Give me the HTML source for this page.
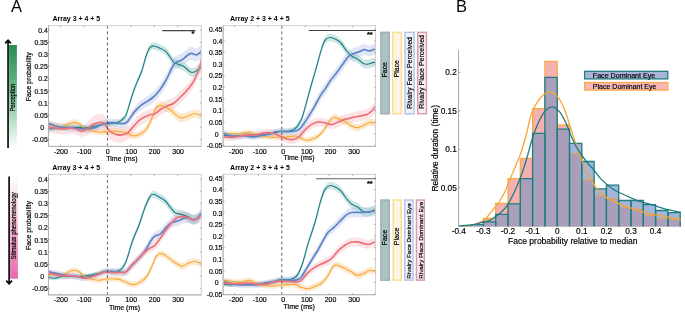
<!DOCTYPE html>
<html><head><meta charset="utf-8"><style>
html,body{margin:0;padding:0;background:#fff;width:685px;height:312px;overflow:hidden}
svg{display:block;will-change:transform}
text{font-family:"Liberation Sans",sans-serif;stroke:#000;stroke-width:0.18px}
text.nb{stroke:none}
</style></head><body>
<svg width="685" height="312" viewBox="0 0 685 312" font-family='"Liberation Sans", sans-serif' fill="#000">
<rect width="685" height="312" fill="#fff"/>
<defs><linearGradient id="gg" x1="0" y1="0" x2="0" y2="1"><stop offset="0" stop-color="#278b52"/><stop offset="0.45" stop-color="#6dbb8c"/><stop offset="1" stop-color="#ffffff"/></linearGradient><linearGradient id="pg" x1="0" y1="0" x2="0" y2="1"><stop offset="0" stop-color="#ffffff"/><stop offset="0.55" stop-color="#f4b0d2"/><stop offset="1" stop-color="#e866ab"/></linearGradient></defs>
<g>
<clipPath id="clipP1"><rect x="48.50" y="25.70" width="152.80" height="120.70"/></clipPath>
<g clip-path="url(#clipP1)">
<path d="M48.00,121.90 L48.32,121.92 L48.72,121.95 L49.18,121.98 L49.69,122.01 L50.26,122.04 L50.86,122.08 L51.48,122.12 L52.13,122.17 L52.78,122.22 L53.44,122.28 L54.08,122.34 L54.70,122.40 L55.32,122.48 L55.95,122.57 L56.59,122.68 L57.25,122.79 L57.91,122.91 L58.58,123.03 L59.25,123.15 L59.93,123.25 L60.60,123.34 L61.28,123.42 L61.94,123.47 L62.60,123.50 L63.26,123.49 L63.93,123.46 L64.61,123.40 L65.29,123.31 L65.97,123.22 L66.64,123.12 L67.31,123.02 L67.97,122.92 L68.61,122.83 L69.23,122.76 L69.83,122.72 L70.40,122.70 L70.95,122.71 L71.47,122.72 L71.97,122.75 L72.45,122.79 L72.91,122.84 L73.37,122.91 L73.81,122.98 L74.25,123.06 L74.69,123.16 L75.12,123.26 L75.56,123.38 L76.00,123.50 L76.44,123.65 L76.88,123.84 L77.31,124.06 L77.74,124.30 L78.17,124.55 L78.59,124.81 L79.01,125.05 L79.43,125.27 L79.84,125.47 L80.26,125.63 L80.68,125.74 L81.10,125.80 L81.53,125.80 L81.98,125.74 L82.43,125.65 L82.89,125.51 L83.35,125.35 L83.80,125.17 L84.24,124.91 L84.67,124.60 L85.07,124.30 L85.45,124.02 L85.79,123.77 L86.10,123.55 L86.36,123.37 L86.57,123.21 L86.75,123.08 L86.89,122.96 L87.02,122.85 L87.12,122.74 L87.23,122.63 L87.34,122.50 L87.46,122.36 L87.61,122.19 L87.79,122.00 L88.00,121.77 L88.25,121.49 L88.51,121.19 L88.79,120.85 L89.09,120.49 L89.39,120.11 L89.71,119.72 L90.04,119.32 L90.38,118.93 L90.73,118.54 L91.08,118.17 L91.44,117.82 L91.80,117.50 L92.17,117.19 L92.57,116.89 L92.97,116.59 L93.39,116.31 L93.82,116.03 L94.25,115.76 L94.68,115.50 L95.11,115.24 L95.53,115.00 L95.93,114.84 L96.33,114.73 L96.70,114.62 L97.06,114.52 L97.40,114.43 L97.74,114.35 L98.06,114.27 L98.38,114.20 L98.69,114.14 L99.00,114.09 L99.30,114.05 L99.60,114.02 L99.90,114.00 L100.20,113.99 L100.50,114.00 L100.80,114.02 L101.10,114.05 L101.40,114.08 L101.70,114.13 L102.00,114.18 L102.29,114.25 L102.57,114.33 L102.86,114.43 L103.13,114.54 L103.40,114.67 L103.65,114.81 L103.90,114.97 L104.14,115.16 L104.36,115.37 L104.57,115.60 L104.77,115.85 L104.97,116.12 L105.16,116.40 L105.35,116.68 L105.54,116.97 L105.72,117.27 L105.91,117.56 L106.10,117.85 L106.30,118.13 L106.50,118.40 L106.69,118.69 L106.88,118.98 L107.07,119.27 L107.25,119.57 L107.44,119.86 L107.64,120.16 L107.83,120.45 L108.04,120.74 L108.25,121.03 L108.47,121.30 L108.70,121.58 L108.94,121.84 L109.18,122.11 L109.43,122.38 L109.68,122.64 L109.94,122.90 L110.20,123.15 L110.47,123.40 L110.76,123.65 L111.05,123.88 L111.35,124.11 L111.67,124.33 L112.00,124.55 L112.35,124.75 L112.72,124.95 L113.12,125.15 L113.52,125.34 L113.94,125.52 L114.36,125.70 L114.79,125.86 L115.21,126.02 L115.63,126.17 L116.03,126.31 L116.43,126.43 L116.80,126.55 L117.16,126.65 L117.50,126.74 L117.84,126.82 L118.17,126.90 L118.49,126.96 L118.81,127.01 L119.13,127.05 L119.44,127.12 L119.75,127.19 L120.07,127.26 L120.38,127.31 L120.70,127.36 L121.02,127.39 L121.34,127.42 L121.66,127.43 L121.99,127.43 L122.31,127.43 L122.62,127.41 L122.94,127.39 L123.26,127.37 L123.57,127.33 L123.89,127.29 L124.19,127.25 L124.50,127.20 L124.79,127.16 L125.07,127.14 L125.33,127.13 L125.59,127.12 L125.84,127.10 L126.10,127.07 L126.37,127.02 L126.64,126.94 L126.94,126.82 L127.26,126.67 L127.61,126.46 L128.00,126.20 L128.42,125.87 L128.88,125.47 L129.36,125.02 L129.87,124.52 L130.39,123.99 L130.93,123.43 L131.48,122.78 L132.03,122.13 L132.59,121.48 L133.14,120.84 L133.67,120.24 L134.20,119.67 L134.71,119.13 L135.21,118.58 L135.70,118.04 L136.19,117.50 L136.67,116.97 L137.17,116.45 L137.66,115.94 L138.17,115.44 L138.70,114.95 L139.24,114.48 L139.81,114.03 L140.40,113.60 L141.03,113.19 L141.69,112.78 L142.39,112.39 L143.10,112.01 L143.83,111.64 L144.57,111.29 L145.31,110.96 L146.04,110.64 L146.76,110.35 L147.45,110.07 L148.12,109.81 L148.75,109.58 L149.34,109.38 L149.91,109.24 L150.46,109.14 L150.99,109.06 L151.50,109.01 L152.01,108.96 L152.50,108.91 L152.99,108.84 L153.49,108.76 L153.98,108.64 L154.49,108.48 L155.00,108.24 L155.52,107.94 L156.04,107.60 L156.56,107.21 L157.08,106.80 L157.60,106.36 L158.12,105.91 L158.65,105.45 L159.17,104.99 L159.69,104.54 L160.21,104.12 L160.73,103.72 L161.25,103.36 L161.77,103.02 L162.29,102.70 L162.81,102.40 L163.33,102.10 L163.85,101.82 L164.38,101.55 L164.90,101.28 L165.42,101.02 L165.94,100.77 L166.46,100.52 L166.98,100.27 L167.50,100.02 L168.02,99.79 L168.54,99.58 L169.06,99.39 L169.58,99.22 L170.10,99.04 L170.62,98.87 L171.15,98.68 L171.67,98.49 L172.19,98.26 L172.71,98.01 L173.23,97.72 L173.75,97.39 L174.27,97.01 L174.79,96.60 L175.31,96.15 L175.83,95.67 L176.35,95.17 L176.88,94.66 L177.40,94.13 L177.92,93.59 L178.44,93.06 L178.96,92.53 L179.48,92.01 L180.00,91.50 L180.52,91.00 L181.04,90.50 L181.56,90.01 L182.08,89.51 L182.60,89.01 L183.12,88.51 L183.65,88.00 L184.17,87.48 L184.69,86.94 L185.21,86.40 L185.73,85.83 L186.25,85.25 L186.78,84.65 L187.32,84.03 L187.86,83.39 L188.41,82.74 L188.96,82.08 L189.50,81.40 L190.04,80.72 L190.57,80.04 L191.08,79.35 L191.58,78.66 L192.05,77.98 L192.50,77.30 L192.93,76.62 L193.33,75.94 L193.72,75.25 L194.09,74.56 L194.45,73.87 L194.80,73.17 L195.13,72.48 L195.46,71.78 L195.78,71.08 L196.09,70.39 L196.40,69.69 L196.70,69.00 L197.00,68.30 L197.30,67.59 L197.59,66.88 L197.87,66.16 L198.15,65.44 L198.42,64.73 L198.68,64.02 L198.93,63.32 L199.16,62.63 L199.39,61.97 L199.60,61.32 L199.80,60.70 L199.98,60.10 L200.14,59.52 L200.28,58.96 L200.41,58.42 L200.53,57.89 L200.64,57.37 L200.74,56.86 L200.84,56.36 L200.95,55.86 L201.06,55.37 L201.17,54.89 L201.30,54.40 L201.44,53.90 L201.59,53.39 L201.75,52.86 L201.91,52.33 L202.08,51.81 L202.24,51.31 L202.40,50.82 L202.55,50.37 L202.69,49.95 L202.81,49.58 L202.92,49.26 L203.00,49.00 L203.00,61.00 L202.92,61.26 L202.81,61.58 L202.69,61.95 L202.55,62.37 L202.40,62.82 L202.24,63.31 L202.08,63.81 L201.91,64.33 L201.75,64.86 L201.59,65.39 L201.44,65.90 L201.30,66.40 L201.17,66.89 L201.06,67.37 L200.95,67.86 L200.84,68.36 L200.74,68.86 L200.64,69.37 L200.53,69.89 L200.41,70.42 L200.28,70.96 L200.14,71.52 L199.98,72.10 L199.80,72.70 L199.60,73.32 L199.39,73.97 L199.16,74.63 L198.93,75.32 L198.68,76.02 L198.42,76.73 L198.15,77.44 L197.87,78.16 L197.59,78.88 L197.30,79.59 L197.00,80.30 L196.70,81.00 L196.40,81.69 L196.09,82.39 L195.78,83.08 L195.46,83.78 L195.13,84.48 L194.80,85.17 L194.45,85.87 L194.09,86.56 L193.72,87.25 L193.33,87.94 L192.93,88.62 L192.50,89.30 L192.05,89.98 L191.58,90.66 L191.08,91.35 L190.57,92.04 L190.04,92.72 L189.50,93.40 L188.96,94.08 L188.41,94.74 L187.86,95.39 L187.32,96.03 L186.78,96.65 L186.25,97.25 L185.73,97.83 L185.21,98.40 L184.69,98.94 L184.17,99.48 L183.65,100.00 L183.12,100.51 L182.60,101.01 L182.08,101.51 L181.56,102.01 L181.04,102.50 L180.52,103.00 L180.00,103.50 L179.48,104.01 L178.96,104.53 L178.44,105.06 L177.92,105.59 L177.40,106.10 L176.88,106.61 L176.35,107.11 L175.83,107.58 L175.31,108.04 L174.79,108.46 L174.27,108.86 L173.75,109.21 L173.23,109.52 L172.71,109.79 L172.19,110.02 L171.67,110.22 L171.15,110.40 L170.62,110.56 L170.10,110.71 L169.58,110.86 L169.06,111.01 L168.54,111.18 L168.02,111.37 L167.50,111.58 L166.98,111.80 L166.46,112.03 L165.94,112.26 L165.42,112.49 L164.90,112.73 L164.38,112.97 L163.85,113.22 L163.33,113.48 L162.81,113.75 L162.29,114.04 L161.77,114.33 L161.25,114.64 L160.73,114.99 L160.21,115.36 L159.69,115.77 L159.17,116.19 L158.65,116.63 L158.12,117.06 L157.60,117.49 L157.08,117.91 L156.56,118.30 L156.04,118.67 L155.52,118.99 L155.00,119.26 L154.49,119.48 L153.98,119.66 L153.49,119.80 L152.99,119.91 L152.50,119.99 L152.01,120.06 L151.50,120.13 L150.99,120.21 L150.46,120.31 L149.91,120.43 L149.34,120.60 L148.75,120.82 L148.12,121.08 L147.45,121.37 L146.76,121.67 L146.04,122.00 L145.31,122.35 L144.57,122.71 L143.83,123.09 L143.10,123.49 L142.39,123.90 L141.69,124.32 L141.03,124.76 L140.40,125.20 L139.81,125.66 L139.24,126.13 L138.70,126.62 L138.17,127.13 L137.66,127.65 L137.17,128.19 L136.67,128.73 L136.19,129.28 L135.70,129.84 L135.21,130.40 L134.71,130.97 L134.20,131.53 L133.67,132.12 L133.14,132.75 L132.59,133.41 L132.03,134.08 L131.48,134.76 L130.93,135.44 L130.39,136.18 L129.87,136.89 L129.36,137.56 L128.88,138.18 L128.42,138.73 L128.00,139.20 L127.61,139.60 L127.26,139.92 L126.94,140.19 L126.64,140.40 L126.37,140.58 L126.10,140.72 L125.84,140.84 L125.59,140.94 L125.33,141.04 L125.07,141.14 L124.79,141.26 L124.50,141.40 L124.19,141.55 L123.89,141.70 L123.57,141.84 L123.26,141.98 L122.94,142.12 L122.62,142.25 L122.31,142.37 L121.99,142.49 L121.66,142.59 L121.34,142.69 L121.02,142.77 L120.70,142.84 L120.38,142.91 L120.07,142.96 L119.75,143.01 L119.44,143.04 L119.13,143.06 L118.81,143.03 L118.49,142.99 L118.17,142.94 L117.84,142.88 L117.50,142.82 L117.16,142.74 L116.80,142.65 L116.43,142.55 L116.03,142.44 L115.63,142.32 L115.21,142.19 L114.79,142.05 L114.36,141.90 L113.94,141.75 L113.52,141.58 L113.12,141.41 L112.72,141.23 L112.35,141.04 L112.00,140.85 L111.67,140.66 L111.35,140.45 L111.05,140.23 L110.76,140.01 L110.47,139.77 L110.20,139.54 L109.94,139.29 L109.68,139.04 L109.43,138.79 L109.18,138.54 L108.94,138.28 L108.70,138.02 L108.47,137.76 L108.25,137.49 L108.04,137.22 L107.83,136.93 L107.64,136.65 L107.44,136.36 L107.25,136.07 L107.07,135.79 L106.88,135.50 L106.69,135.22 L106.50,134.94 L106.30,134.67 L106.10,134.40 L105.91,134.12 L105.72,133.84 L105.54,133.55 L105.35,133.27 L105.16,132.99 L104.97,132.72 L104.77,132.47 L104.57,132.22 L104.36,132.00 L104.14,131.80 L103.90,131.63 L103.65,131.47 L103.40,131.34 L103.13,131.22 L102.86,131.13 L102.57,131.04 L102.29,130.97 L102.00,130.92 L101.70,130.87 L101.40,130.84 L101.10,130.82 L100.80,130.80 L100.50,130.80 L100.20,130.80 L99.90,130.82 L99.60,130.85 L99.30,130.89 L99.00,130.95 L98.69,131.01 L98.38,131.09 L98.06,131.17 L97.74,131.26 L97.40,131.36 L97.06,131.47 L96.70,131.58 L96.33,131.70 L95.93,131.83 L95.53,131.91 L95.11,131.94 L94.68,131.98 L94.25,132.02 L93.82,132.07 L93.39,132.13 L92.97,132.20 L92.57,132.29 L92.17,132.39 L91.80,132.50 L91.44,132.64 L91.08,132.81 L90.73,133.00 L90.38,133.21 L90.04,133.43 L89.71,133.66 L89.39,133.89 L89.09,134.11 L88.79,134.32 L88.51,134.51 L88.25,134.69 L88.00,134.83 L87.79,134.96 L87.61,135.06 L87.46,135.15 L87.34,135.23 L87.23,135.30 L87.12,135.36 L87.02,135.41 L86.89,135.46 L86.75,135.51 L86.57,135.55 L86.36,135.60 L86.10,135.65 L85.79,135.71 L85.45,135.79 L85.07,135.88 L84.67,135.97 L84.24,136.06 L83.80,136.17 L83.35,136.35 L82.89,136.51 L82.43,136.65 L81.98,136.74 L81.53,136.80 L81.10,136.80 L80.68,136.74 L80.26,136.63 L79.84,136.47 L79.43,136.27 L79.01,136.05 L78.59,135.81 L78.17,135.55 L77.74,135.30 L77.31,135.06 L76.88,134.84 L76.44,134.65 L76.00,134.50 L75.56,134.38 L75.12,134.26 L74.69,134.16 L74.25,134.06 L73.81,133.98 L73.37,133.91 L72.91,133.84 L72.45,133.79 L71.97,133.75 L71.47,133.72 L70.95,133.71 L70.40,133.70 L69.83,133.72 L69.23,133.76 L68.61,133.83 L67.97,133.92 L67.31,134.02 L66.64,134.12 L65.97,134.22 L65.29,134.31 L64.61,134.40 L63.93,134.46 L63.26,134.49 L62.60,134.50 L61.94,134.47 L61.28,134.42 L60.60,134.34 L59.93,134.25 L59.25,134.15 L58.58,134.03 L57.91,133.91 L57.25,133.79 L56.59,133.68 L55.95,133.57 L55.32,133.48 L54.70,133.40 L54.08,133.34 L53.44,133.28 L52.78,133.22 L52.13,133.17 L51.48,133.12 L50.86,133.08 L50.26,133.04 L49.69,133.01 L49.18,132.98 L48.72,132.95 L48.32,132.92 L48.00,132.90Z" fill="#f4a7b0" fill-opacity="0.32"/>
<path d="M48.00,121.60 L48.32,121.65 L48.72,121.72 L49.18,121.80 L49.69,121.88 L50.26,121.97 L50.86,122.07 L51.48,122.18 L52.13,122.28 L52.78,122.38 L53.44,122.49 L54.08,122.59 L54.70,122.68 L55.32,122.78 L55.97,122.90 L56.64,123.04 L57.33,123.18 L58.02,123.32 L58.72,123.46 L59.41,123.58 L60.09,123.68 L60.76,123.76 L61.40,123.80 L62.02,123.80 L62.60,123.75 L63.15,123.65 L63.66,123.49 L64.15,123.29 L64.62,123.06 L65.07,122.79 L65.51,122.51 L65.95,122.22 L66.38,121.93 L66.82,121.65 L67.26,121.38 L67.72,121.14 L68.20,120.93 L68.69,120.74 L69.20,120.54 L69.71,120.34 L70.23,120.15 L70.76,119.96 L71.28,119.79 L71.80,119.63 L72.32,119.49 L72.83,119.37 L73.34,119.28 L73.83,119.23 L74.30,119.21 L74.76,119.22 L75.21,119.26 L75.66,119.34 L76.10,119.43 L76.53,119.55 L76.95,119.70 L77.37,119.86 L77.78,120.04 L78.19,120.23 L78.60,120.44 L79.00,120.66 L79.40,120.89 L79.80,121.14 L80.19,121.43 L80.58,121.75 L80.96,122.09 L81.34,122.45 L81.71,122.82 L82.08,123.18 L82.45,123.54 L82.82,123.89 L83.18,124.21 L83.54,124.51 L83.90,124.77 L84.25,125.00 L84.59,125.21 L84.91,125.40 L85.23,125.57 L85.55,125.72 L85.87,125.87 L86.19,126.01 L86.52,126.14 L86.86,126.27 L87.22,126.39 L87.60,126.52 L88.00,126.66 L88.42,126.79 L88.87,126.92 L89.33,127.05 L89.81,127.17 L90.30,127.29 L90.80,127.40 L91.30,127.51 L91.81,127.62 L92.32,127.73 L92.82,127.83 L93.31,127.94 L93.80,128.04 L94.27,128.14 L94.73,128.24 L95.19,128.34 L95.63,128.45 L96.08,128.55 L96.53,128.64 L96.99,128.73 L97.46,128.81 L97.94,128.89 L98.44,128.94 L98.96,128.99 L99.50,129.01 L100.08,129.02 L100.69,129.01 L101.33,128.99 L101.99,128.95 L102.66,128.90 L103.34,128.84 L104.03,128.78 L104.70,128.72 L105.36,128.65 L106.00,128.59 L106.62,128.54 L107.20,128.49 L107.75,128.44 L108.28,128.39 L108.78,128.34 L109.27,128.28 L109.75,128.23 L110.22,128.18 L110.68,128.13 L111.14,128.08 L111.59,128.04 L112.06,128.01 L112.52,127.98 L113.00,127.97 L113.49,127.96 L113.98,127.96 L114.47,127.97 L114.97,127.98 L115.47,128.00 L115.96,128.03 L116.45,128.06 L116.94,128.09 L117.42,128.13 L117.89,128.17 L118.35,128.20 L118.80,128.24 L119.24,128.28 L119.66,128.33 L120.08,128.37 L120.49,128.42 L120.89,128.46 L121.29,128.52 L121.68,128.57 L122.07,128.63 L122.45,128.70 L122.83,128.77 L123.22,128.84 L123.60,128.93 L123.98,129.02 L124.35,129.11 L124.71,129.20 L125.07,129.31 L125.43,129.41 L125.78,129.53 L126.14,129.64 L126.50,129.76 L126.86,129.89 L127.23,130.03 L127.61,130.17 L128.00,130.31 L128.39,130.48 L128.78,130.67 L129.17,130.89 L129.57,131.13 L129.96,131.37 L130.37,131.60 L130.78,131.83 L131.21,132.03 L131.65,132.19 L132.11,132.33 L132.60,132.41 L133.10,132.45 L133.63,132.43 L134.20,132.39 L134.79,132.31 L135.41,132.21 L136.04,132.08 L136.68,131.92 L137.32,131.73 L137.96,131.52 L138.59,131.29 L139.22,131.03 L139.82,130.76 L140.40,130.46 L140.96,130.14 L141.52,129.81 L142.07,129.47 L142.61,129.10 L143.15,128.71 L143.68,128.29 L144.20,127.84 L144.72,127.36 L145.23,126.84 L145.73,126.29 L146.22,125.69 L146.70,125.05 L147.18,124.35 L147.64,123.58 L148.10,122.76 L148.56,121.90 L149.00,121.00 L149.44,120.07 L149.87,119.13 L150.29,118.18 L150.70,117.23 L151.11,116.28 L151.51,115.36 L151.90,114.47 L152.28,113.56 L152.65,112.62 L153.00,111.65 L153.34,110.67 L153.68,109.68 L154.01,108.71 L154.34,107.77 L154.67,106.87 L154.99,106.03 L155.32,105.25 L155.66,104.56 L156.00,103.96 L156.34,103.45 L156.68,103.02 L157.02,102.66 L157.36,102.36 L157.69,102.11 L158.03,101.91 L158.37,101.76 L158.72,101.64 L159.08,101.54 L159.44,101.47 L159.81,101.41 L160.20,101.35 L160.59,101.32 L161.00,101.32 L161.40,101.36 L161.82,101.42 L162.24,101.51 L162.67,101.63 L163.10,101.77 L163.55,101.93 L164.00,102.10 L164.46,102.30 L164.92,102.50 L165.40,102.72 L165.89,102.95 L166.39,103.21 L166.90,103.50 L167.42,103.80 L167.95,104.12 L168.49,104.46 L169.03,104.81 L169.57,105.17 L170.11,105.53 L170.64,105.91 L171.18,106.28 L171.70,106.66 L172.23,107.05 L172.76,107.48 L173.30,107.93 L173.85,108.40 L174.39,108.88 L174.93,109.36 L175.46,109.82 L175.99,110.27 L176.49,110.70 L176.98,111.09 L177.45,111.45 L177.90,111.75 L178.31,112.03 L178.69,112.29 L179.04,112.53 L179.37,112.74 L179.69,112.92 L180.00,113.08 L180.31,113.21 L180.63,113.32 L180.96,113.40 L181.31,113.46 L181.69,113.48 L182.10,113.49 L182.55,113.45 L183.02,113.37 L183.51,113.26 L184.01,113.10 L184.54,112.93 L185.07,112.73 L185.61,112.52 L186.15,112.31 L186.70,112.10 L187.24,111.89 L187.77,111.69 L188.30,111.52 L188.82,111.35 L189.35,111.16 L189.87,110.96 L190.40,110.75 L190.92,110.54 L191.45,110.34 L191.98,110.15 L192.50,109.98 L193.03,109.84 L193.55,109.72 L194.08,109.64 L194.60,109.60 L195.13,109.62 L195.67,109.67 L196.23,109.77 L196.79,109.90 L197.34,110.05 L197.89,110.22 L198.43,110.40 L198.96,110.58 L199.46,110.76 L199.94,110.92 L200.39,111.07 L200.80,111.19 L201.18,111.29 L201.54,111.38 L201.89,111.46 L202.21,111.54 L202.51,111.62 L202.79,111.69 L203.05,111.76 L203.28,111.82 L203.50,111.87 L203.69,111.92 L203.85,111.96 L204.00,112.00 L204.00,120.00 L203.85,119.96 L203.69,119.92 L203.50,119.87 L203.28,119.82 L203.05,119.76 L202.79,119.69 L202.51,119.62 L202.21,119.54 L201.89,119.46 L201.54,119.38 L201.18,119.30 L200.80,119.21 L200.39,119.11 L199.94,118.99 L199.46,118.84 L198.96,118.69 L198.43,118.53 L197.89,118.37 L197.34,118.23 L196.79,118.10 L196.23,117.99 L195.67,117.92 L195.13,117.88 L194.60,117.90 L194.08,117.95 L193.55,118.06 L193.03,118.19 L192.50,118.36 L191.98,118.56 L191.45,118.77 L190.92,118.99 L190.40,119.22 L189.87,119.45 L189.35,119.67 L188.82,119.88 L188.30,120.08 L187.77,120.28 L187.24,120.49 L186.70,120.72 L186.15,120.96 L185.61,121.20 L185.07,121.43 L184.54,121.65 L184.01,121.85 L183.51,122.02 L183.02,122.16 L182.55,122.26 L182.10,122.31 L181.69,122.33 L181.31,122.31 L180.96,122.27 L180.63,122.20 L180.31,122.11 L180.00,121.99 L179.69,121.85 L179.37,121.68 L179.04,121.48 L178.69,121.26 L178.31,121.02 L177.90,120.75 L177.45,120.42 L176.98,120.05 L176.49,119.63 L175.99,119.17 L175.46,118.70 L174.93,118.20 L174.39,117.70 L173.85,117.19 L173.30,116.70 L172.76,116.22 L172.23,115.76 L171.70,115.34 L171.18,114.94 L170.64,114.53 L170.11,114.13 L169.57,113.74 L169.03,113.35 L168.49,112.97 L167.95,112.61 L167.42,112.26 L166.90,111.93 L166.39,111.62 L165.89,111.34 L165.40,111.08 L164.92,110.84 L164.46,110.61 L164.00,110.39 L163.55,110.19 L163.10,110.01 L162.67,109.85 L162.24,109.71 L161.82,109.60 L161.40,109.51 L161.00,109.46 L160.59,109.43 L160.20,109.45 L159.81,109.48 L159.44,109.52 L159.08,109.58 L158.72,109.65 L158.37,109.76 L158.03,109.90 L157.69,110.08 L157.36,110.31 L157.02,110.59 L156.68,110.94 L156.34,111.35 L156.00,111.84 L155.66,112.42 L155.32,113.10 L154.99,113.86 L154.67,114.69 L154.34,115.57 L154.01,116.49 L153.68,117.44 L153.34,118.41 L153.00,119.37 L152.65,120.33 L152.28,121.25 L151.90,122.13 L151.51,123.01 L151.11,123.91 L150.70,124.84 L150.29,125.77 L149.87,126.70 L149.44,127.62 L149.00,128.52 L148.56,129.40 L148.10,130.24 L147.64,131.03 L147.18,131.78 L146.70,132.45 L146.22,133.07 L145.73,133.64 L145.23,134.17 L144.72,134.66 L144.20,135.12 L143.68,135.54 L143.15,135.93 L142.61,136.30 L142.07,136.64 L141.52,136.95 L140.96,137.26 L140.40,137.54 L139.82,137.81 L139.22,138.06 L138.59,138.28 L137.96,138.48 L137.32,138.66 L136.68,138.81 L136.04,138.94 L135.41,139.04 L134.79,139.11 L134.20,139.15 L133.63,139.17 L133.10,139.15 L132.60,139.10 L132.11,138.99 L131.65,138.83 L131.21,138.64 L130.78,138.43 L130.37,138.20 L129.96,137.96 L129.57,137.72 L129.17,137.48 L128.78,137.26 L128.39,137.06 L128.00,136.89 L127.61,136.74 L127.23,136.60 L126.86,136.46 L126.50,136.33 L126.14,136.21 L125.78,136.09 L125.43,135.97 L125.07,135.86 L124.71,135.76 L124.35,135.66 L123.98,135.56 L123.60,135.47 L123.22,135.39 L122.83,135.31 L122.45,135.24 L122.07,135.17 L121.68,135.10 L121.29,135.05 L120.89,134.99 L120.49,134.94 L120.08,134.89 L119.66,134.84 L119.24,134.80 L118.80,134.76 L118.35,134.71 L117.89,134.67 L117.42,134.63 L116.94,134.59 L116.45,134.55 L115.96,134.52 L115.47,134.49 L114.97,134.47 L114.47,134.45 L113.98,134.44 L113.49,134.43 L113.00,134.43 L112.52,134.45 L112.06,134.47 L111.59,134.50 L111.14,134.54 L110.68,134.58 L110.22,134.62 L109.75,134.67 L109.27,134.72 L108.78,134.78 L108.28,134.82 L107.75,134.87 L107.20,134.91 L106.62,134.96 L106.00,135.01 L105.36,135.07 L104.70,135.13 L104.03,135.19 L103.34,135.24 L102.66,135.29 L101.99,135.34 L101.33,135.37 L100.69,135.39 L100.08,135.40 L99.50,135.39 L98.96,135.35 L98.44,135.31 L97.94,135.24 L97.46,135.17 L96.99,135.09 L96.53,134.99 L96.08,134.89 L95.63,134.79 L95.19,134.68 L94.73,134.58 L94.27,134.47 L93.80,134.36 L93.31,134.26 L92.82,134.16 L92.32,134.05 L91.81,133.94 L91.30,133.83 L90.80,133.71 L90.30,133.59 L89.81,133.47 L89.33,133.34 L88.87,133.21 L88.42,133.08 L88.00,132.94 L87.60,132.81 L87.22,132.68 L86.86,132.55 L86.52,132.42 L86.19,132.28 L85.87,132.14 L85.55,131.99 L85.23,131.83 L84.91,131.66 L84.59,131.47 L84.25,131.26 L83.90,131.03 L83.54,130.77 L83.18,130.47 L82.82,130.14 L82.45,129.79 L82.08,129.43 L81.71,129.06 L81.34,128.69 L80.96,128.33 L80.58,127.98 L80.19,127.66 L79.80,127.37 L79.40,127.11 L79.00,126.88 L78.60,126.66 L78.19,126.45 L77.78,126.25 L77.37,126.07 L76.95,125.90 L76.53,125.76 L76.10,125.63 L75.66,125.53 L75.21,125.46 L74.76,125.41 L74.30,125.39 L73.83,125.41 L73.34,125.46 L72.83,125.55 L72.32,125.66 L71.80,125.80 L71.28,125.95 L70.76,126.12 L70.23,126.30 L69.71,126.49 L69.20,126.69 L68.69,126.88 L68.20,127.07 L67.72,127.28 L67.26,127.52 L66.82,127.78 L66.38,128.06 L65.95,128.35 L65.51,128.64 L65.07,128.91 L64.62,129.17 L64.15,129.40 L63.66,129.60 L63.15,129.75 L62.60,129.85 L62.02,129.89 L61.40,129.89 L60.76,129.84 L60.09,129.76 L59.41,129.66 L58.72,129.53 L58.02,129.39 L57.33,129.24 L56.64,129.10 L55.97,128.96 L55.32,128.83 L54.70,128.72 L54.08,128.62 L53.44,128.52 L52.78,128.41 L52.13,128.31 L51.48,128.20 L50.86,128.09 L50.26,127.99 L49.69,127.89 L49.18,127.80 L48.72,127.72 L48.32,127.65 L48.00,127.60Z" fill="#fbc884" fill-opacity="0.40"/>
<path d="M48.00,120.00 L48.32,120.11 L48.72,120.25 L49.18,120.40 L49.69,120.58 L50.26,120.78 L50.86,120.98 L51.48,121.19 L52.13,121.40 L52.78,121.61 L53.44,121.81 L54.08,122.00 L54.70,122.17 L55.32,122.33 L55.95,122.49 L56.59,122.65 L57.25,122.80 L57.91,122.96 L58.58,123.11 L59.25,123.25 L59.93,123.38 L60.60,123.51 L61.28,123.63 L61.94,123.73 L62.60,123.83 L63.26,123.91 L63.92,123.97 L64.58,124.03 L65.25,124.07 L65.91,124.10 L66.58,124.13 L67.23,124.15 L67.89,124.17 L68.53,124.19 L69.16,124.22 L69.79,124.25 L70.40,124.29 L71.00,124.33 L71.58,124.38 L72.15,124.43 L72.71,124.47 L73.26,124.52 L73.81,124.57 L74.36,124.62 L74.90,124.67 L75.44,124.72 L75.99,124.77 L76.54,124.81 L77.10,124.85 L77.67,124.90 L78.26,124.95 L78.86,124.99 L79.46,125.04 L80.06,125.09 L80.66,125.14 L81.25,125.18 L81.83,125.22 L82.39,125.25 L82.92,125.28 L83.43,125.31 L83.90,125.32 L84.34,125.33 L84.74,125.33 L85.12,125.32 L85.48,125.31 L85.81,125.29 L86.14,125.27 L86.45,125.25 L86.76,125.22 L87.06,125.19 L87.37,125.16 L87.68,125.13 L88.00,125.10 L88.33,125.07 L88.65,125.03 L88.97,125.00 L89.29,124.96 L89.60,124.92 L89.91,124.88 L90.22,124.84 L90.54,124.79 L90.85,124.74 L91.16,124.69 L91.48,124.64 L91.80,124.58 L92.12,124.52 L92.43,124.47 L92.75,124.41 L93.06,124.36 L93.37,124.30 L93.69,124.24 L94.01,124.17 L94.33,124.09 L94.66,124.01 L95.00,123.91 L95.34,123.79 L95.70,123.66 L96.07,123.51 L96.45,123.33 L96.84,123.14 L97.23,122.93 L97.64,122.71 L98.04,122.49 L98.45,122.26 L98.87,122.03 L99.28,121.81 L99.69,121.60 L100.10,121.41 L100.50,121.24 L100.90,121.08 L101.30,120.92 L101.70,120.78 L102.10,120.64 L102.50,120.51 L102.90,120.38 L103.30,120.26 L103.70,120.14 L104.10,120.03 L104.50,119.92 L104.90,119.81 L105.30,119.71 L105.70,119.61 L106.11,119.51 L106.52,119.41 L106.93,119.32 L107.35,119.23 L107.76,119.13 L108.16,119.05 L108.57,118.96 L108.96,118.89 L109.35,118.82 L109.73,118.77 L110.10,118.72 L110.46,118.69 L110.80,118.67 L111.14,118.66 L111.47,118.65 L111.79,118.66 L112.11,118.67 L112.43,118.69 L112.74,118.71 L113.05,118.74 L113.37,118.76 L113.68,118.78 L114.00,118.80 L114.32,118.83 L114.64,118.85 L114.95,118.88 L115.27,118.92 L115.59,118.95 L115.90,118.99 L116.21,119.02 L116.53,119.06 L116.85,119.10 L117.16,119.13 L117.48,119.16 L117.80,119.19 L118.12,119.22 L118.45,119.26 L118.78,119.29 L119.11,119.33 L119.45,119.37 L119.78,119.40 L120.11,119.43 L120.44,119.46 L120.76,119.48 L121.08,119.49 L121.40,119.49 L121.70,119.48 L122.00,119.46 L122.29,119.43 L122.57,119.40 L122.86,119.37 L123.13,119.32 L123.41,119.27 L123.68,119.22 L123.94,119.15 L124.21,119.07 L124.47,118.99 L124.74,118.89 L125.00,118.78 L125.25,118.67 L125.48,118.59 L125.70,118.52 L125.90,118.45 L126.11,118.36 L126.32,118.26 L126.54,118.13 L126.77,117.96 L127.03,117.74 L127.32,117.46 L127.64,117.11 L128.00,116.69 L128.40,116.16 L128.85,115.54 L129.32,114.83 L129.83,114.05 L130.36,113.23 L130.90,112.37 L131.45,111.49 L132.01,110.61 L132.57,109.76 L133.13,108.93 L133.67,108.16 L134.20,107.46 L134.72,106.81 L135.23,106.19 L135.75,105.58 L136.26,104.99 L136.78,104.42 L137.29,103.87 L137.81,103.34 L138.33,102.82 L138.84,102.32 L139.36,101.83 L139.88,101.36 L140.40,100.90 L140.92,100.46 L141.45,100.04 L141.97,99.65 L142.50,99.28 L143.02,98.93 L143.55,98.58 L144.08,98.25 L144.60,97.91 L145.13,97.58 L145.65,97.24 L146.18,96.89 L146.70,96.53 L147.22,96.17 L147.74,95.82 L148.25,95.48 L148.77,95.14 L149.29,94.80 L149.80,94.46 L150.31,94.11 L150.83,93.74 L151.35,93.36 L151.86,92.96 L152.38,92.53 L152.90,92.07 L153.42,91.58 L153.95,91.08 L154.47,90.57 L155.00,90.03 L155.52,89.48 L156.05,88.91 L156.58,88.33 L157.10,87.72 L157.63,87.10 L158.15,86.45 L158.68,85.78 L159.20,85.10 L159.73,84.38 L160.26,83.62 L160.80,82.83 L161.35,82.01 L161.89,81.17 L162.43,80.32 L162.96,79.46 L163.49,78.60 L163.99,77.76 L164.48,76.93 L164.95,76.12 L165.40,75.33 L165.82,74.58 L166.22,73.83 L166.59,73.10 L166.95,72.38 L167.29,71.67 L167.62,70.96 L167.95,70.26 L168.27,69.56 L168.60,68.87 L168.92,68.17 L169.26,67.46 L169.60,66.76 L169.95,66.03 L170.31,65.27 L170.68,64.49 L171.04,63.71 L171.41,62.92 L171.77,62.14 L172.13,61.39 L172.48,60.67 L172.83,59.98 L173.16,59.35 L173.49,58.78 L173.80,58.28 L174.09,57.85 L174.36,57.50 L174.60,57.20 L174.84,56.96 L175.06,56.76 L175.29,56.59 L175.52,56.44 L175.75,56.30 L176.00,56.16 L176.27,56.01 L176.57,55.84 L176.90,55.64 L177.26,55.43 L177.66,55.23 L178.08,55.03 L178.53,54.86 L178.98,54.68 L179.45,54.50 L179.92,54.32 L180.39,54.13 L180.84,53.94 L181.28,53.74 L181.71,53.53 L182.10,53.30 L182.47,53.06 L182.82,52.80 L183.16,52.54 L183.49,52.26 L183.81,51.98 L184.12,51.69 L184.43,51.40 L184.74,51.11 L185.05,50.82 L185.36,50.54 L185.68,50.26 L186.00,50.00 L186.33,49.73 L186.67,49.46 L187.02,49.17 L187.36,48.89 L187.71,48.61 L188.06,48.33 L188.40,48.07 L188.74,47.82 L189.07,47.60 L189.39,47.40 L189.70,47.23 L190.00,47.10 L190.29,47.00 L190.56,46.94 L190.82,46.91 L191.07,46.90 L191.32,46.91 L191.56,46.94 L191.80,46.99 L192.04,47.04 L192.27,47.11 L192.51,47.17 L192.75,47.24 L193.00,47.30 L193.25,47.37 L193.50,47.47 L193.75,47.59 L194.00,47.73 L194.25,47.87 L194.50,48.01 L194.75,48.14 L195.00,48.26 L195.25,48.37 L195.50,48.44 L195.75,48.49 L196.00,48.50 L196.25,48.47 L196.51,48.41 L196.77,48.33 L197.03,48.22 L197.29,48.09 L197.54,47.95 L197.80,47.80 L198.05,47.64 L198.30,47.47 L198.54,47.31 L198.77,47.15 L199.00,47.00 L199.21,46.85 L199.42,46.70 L199.61,46.55 L199.80,46.39 L199.99,46.23 L200.17,46.06 L200.35,45.89 L200.53,45.72 L200.71,45.55 L200.90,45.37 L201.10,45.19 L201.30,45.00 L201.52,44.80 L201.76,44.58 L202.01,44.35 L202.27,44.11 L202.53,43.87 L202.79,43.62 L203.05,43.39 L203.29,43.17 L203.51,42.96 L203.70,42.78 L203.87,42.62 L204.00,42.50 L204.00,55.50 L203.87,55.62 L203.70,55.78 L203.51,55.96 L203.29,56.17 L203.05,56.39 L202.79,56.62 L202.53,56.87 L202.27,57.11 L202.01,57.35 L201.76,57.58 L201.52,57.80 L201.30,58.00 L201.10,58.19 L200.90,58.37 L200.71,58.55 L200.53,58.72 L200.35,58.89 L200.17,59.06 L199.99,59.23 L199.80,59.39 L199.61,59.55 L199.42,59.70 L199.21,59.85 L199.00,60.00 L198.77,60.15 L198.54,60.31 L198.30,60.47 L198.05,60.64 L197.80,60.80 L197.54,60.95 L197.29,61.09 L197.03,61.22 L196.77,61.33 L196.51,61.41 L196.25,61.47 L196.00,61.50 L195.75,61.49 L195.50,61.44 L195.25,61.37 L195.00,61.26 L194.75,61.14 L194.50,61.01 L194.25,60.87 L194.00,60.73 L193.75,60.59 L193.50,60.47 L193.25,60.37 L193.00,60.30 L192.75,60.24 L192.51,60.17 L192.27,60.11 L192.04,60.04 L191.80,59.99 L191.56,59.94 L191.32,59.91 L191.07,59.90 L190.82,59.91 L190.56,59.94 L190.29,60.00 L190.00,60.10 L189.70,60.23 L189.39,60.40 L189.07,60.60 L188.74,60.82 L188.40,61.07 L188.06,61.33 L187.71,61.61 L187.36,61.89 L187.02,62.17 L186.67,62.46 L186.33,62.73 L186.00,63.00 L185.68,63.26 L185.36,63.54 L185.05,63.82 L184.74,64.11 L184.43,64.40 L184.12,64.69 L183.81,64.98 L183.49,65.26 L183.16,65.54 L182.82,65.80 L182.47,66.06 L182.10,66.30 L181.71,66.53 L181.28,66.74 L180.84,66.94 L180.39,67.13 L179.92,67.32 L179.45,67.50 L178.98,67.68 L178.53,67.86 L178.08,68.03 L177.66,68.20 L177.26,68.38 L176.90,68.56 L176.57,68.72 L176.27,68.87 L176.00,68.99 L175.75,69.11 L175.52,69.23 L175.29,69.36 L175.06,69.51 L174.84,69.70 L174.60,69.92 L174.36,70.19 L174.09,70.52 L173.80,70.92 L173.49,71.40 L173.16,71.94 L172.83,72.55 L172.48,73.20 L172.13,73.89 L171.77,74.62 L171.41,75.36 L171.04,76.12 L170.68,76.87 L170.31,77.62 L169.95,78.35 L169.60,79.04 L169.26,79.72 L168.92,80.40 L168.60,81.07 L168.27,81.74 L167.95,82.41 L167.62,83.09 L167.29,83.76 L166.95,84.45 L166.59,85.14 L166.22,85.84 L165.82,86.54 L165.40,87.27 L164.95,88.01 L164.48,88.78 L163.99,89.57 L163.49,90.37 L162.96,91.18 L162.43,92.00 L161.89,92.80 L161.35,93.59 L160.80,94.37 L160.26,95.11 L159.73,95.83 L159.20,96.50 L158.68,97.14 L158.15,97.77 L157.63,98.37 L157.10,98.95 L156.58,99.51 L156.05,100.05 L155.52,100.57 L155.00,101.08 L154.47,101.57 L153.95,102.04 L153.42,102.49 L152.90,102.93 L152.38,103.35 L151.86,103.74 L151.35,104.10 L150.83,104.43 L150.31,104.76 L149.80,105.06 L149.29,105.36 L148.77,105.66 L148.25,105.95 L147.74,106.25 L147.22,106.55 L146.70,106.87 L146.18,107.19 L145.65,107.49 L145.13,107.78 L144.60,108.07 L144.08,108.36 L143.55,108.65 L143.02,108.95 L142.50,109.27 L141.97,109.59 L141.45,109.94 L140.92,110.31 L140.40,110.70 L139.88,111.12 L139.36,111.55 L138.84,111.99 L138.33,112.45 L137.81,112.92 L137.29,113.41 L136.78,113.92 L136.26,114.44 L135.75,114.99 L135.23,115.55 L134.72,116.13 L134.20,116.74 L133.67,117.39 L133.13,118.12 L132.57,118.89 L132.01,119.70 L131.45,120.53 L130.90,121.37 L130.36,122.19 L129.83,122.99 L129.32,123.73 L128.85,124.41 L128.40,125.01 L128.00,125.51 L127.64,125.92 L127.32,126.25 L127.03,126.51 L126.77,126.71 L126.54,126.87 L126.32,126.99 L126.11,127.08 L125.90,127.15 L125.70,127.21 L125.48,127.27 L125.25,127.33 L125.00,127.42 L124.74,127.52 L124.47,127.60 L124.21,127.67 L123.94,127.73 L123.68,127.78 L123.41,127.83 L123.13,127.86 L122.86,127.88 L122.57,127.90 L122.29,127.92 L122.00,127.92 L121.70,127.92 L121.40,127.92 L121.08,127.90 L120.76,127.87 L120.44,127.83 L120.11,127.79 L119.78,127.74 L119.45,127.68 L119.11,127.63 L118.78,127.57 L118.45,127.51 L118.12,127.46 L117.80,127.41 L117.48,127.36 L117.16,127.31 L116.85,127.25 L116.53,127.20 L116.21,127.14 L115.90,127.09 L115.59,127.03 L115.27,126.98 L114.95,126.93 L114.64,126.88 L114.32,126.84 L114.00,126.80 L113.68,126.75 L113.37,126.71 L113.05,126.67 L112.74,126.63 L112.43,126.59 L112.11,126.55 L111.79,126.52 L111.47,126.49 L111.14,126.48 L110.80,126.47 L110.46,126.47 L110.10,126.48 L109.73,126.50 L109.35,126.54 L108.96,126.58 L108.57,126.63 L108.16,126.69 L107.76,126.75 L107.35,126.83 L106.93,126.91 L106.52,127.00 L106.11,127.10 L105.70,127.19 L105.30,127.29 L104.90,127.39 L104.50,127.49 L104.10,127.59 L103.70,127.70 L103.30,127.82 L102.90,127.93 L102.50,128.06 L102.10,128.18 L101.70,128.32 L101.30,128.46 L100.90,128.61 L100.50,128.76 L100.10,128.94 L99.69,129.13 L99.28,129.33 L98.87,129.55 L98.45,129.77 L98.04,129.99 L97.64,130.21 L97.23,130.43 L96.84,130.63 L96.45,130.82 L96.07,130.99 L95.70,131.14 L95.34,131.27 L95.00,131.38 L94.66,131.47 L94.33,131.56 L94.01,131.63 L93.69,131.70 L93.37,131.76 L93.06,131.81 L92.75,131.86 L92.43,131.91 L92.12,131.97 L91.80,132.02 L91.48,132.08 L91.16,132.13 L90.85,132.18 L90.54,132.22 L90.22,132.26 L89.91,132.30 L89.60,132.34 L89.29,132.38 L88.97,132.41 L88.65,132.44 L88.33,132.47 L88.00,132.50 L87.68,132.53 L87.37,132.56 L87.06,132.58 L86.76,132.61 L86.45,132.63 L86.14,132.65 L85.81,132.67 L85.48,132.68 L85.12,132.69 L84.74,132.69 L84.34,132.69 L83.90,132.68 L83.43,132.66 L82.92,132.63 L82.39,132.60 L81.83,132.56 L81.25,132.51 L80.66,132.46 L80.06,132.41 L79.46,132.36 L78.86,132.30 L78.26,132.25 L77.67,132.20 L77.10,132.15 L76.54,132.10 L75.99,132.04 L75.44,131.99 L74.90,131.94 L74.36,131.88 L73.81,131.83 L73.26,131.77 L72.71,131.72 L72.15,131.67 L71.58,131.61 L71.00,131.56 L70.40,131.51 L69.79,131.47 L69.16,131.43 L68.53,131.40 L67.89,131.37 L67.23,131.34 L66.58,131.31 L65.91,131.28 L65.25,131.24 L64.58,131.19 L63.92,131.13 L63.26,131.06 L62.60,130.97 L61.94,130.87 L61.28,130.76 L60.60,130.63 L59.93,130.50 L59.25,130.36 L58.58,130.21 L57.91,130.05 L57.25,129.89 L56.59,129.73 L55.95,129.56 L55.32,129.40 L54.70,129.23 L54.08,129.05 L53.44,128.86 L52.78,128.65 L52.13,128.44 L51.48,128.22 L50.86,128.00 L50.26,127.79 L49.69,127.59 L49.18,127.41 L48.72,127.25 L48.32,127.11 L48.00,127.00Z" fill="#a9b9e6" fill-opacity="0.35"/>
<path d="M48.00,126.80 L48.43,126.78 L48.98,126.75 L49.62,126.72 L50.33,126.69 L51.11,126.66 L51.94,126.62 L52.79,126.58 L53.67,126.53 L54.54,126.48 L55.40,126.42 L56.22,126.36 L57.00,126.30 L57.75,126.23 L58.50,126.14 L59.25,126.04 L60.00,125.94 L60.76,125.83 L61.51,125.72 L62.26,125.61 L63.01,125.51 L63.76,125.41 L64.51,125.33 L65.25,125.26 L66.00,125.20 L66.74,125.16 L67.49,125.14 L68.23,125.12 L68.97,125.12 L69.71,125.12 L70.45,125.13 L71.19,125.14 L71.93,125.16 L72.67,125.17 L73.41,125.19 L74.16,125.20 L74.90,125.20 L75.66,125.20 L76.45,125.19 L77.26,125.19 L78.07,125.18 L78.89,125.17 L79.70,125.17 L80.49,125.16 L81.26,125.16 L81.99,125.16 L82.68,125.17 L83.32,125.18 L83.90,125.20 L84.41,125.23 L84.85,125.28 L85.23,125.34 L85.57,125.40 L85.87,125.47 L86.15,125.54 L86.42,125.61 L86.69,125.66 L86.97,125.70 L87.28,125.73 L87.61,125.73 L88.00,125.70 L88.42,125.64 L88.87,125.56 L89.33,125.46 L89.81,125.34 L90.30,125.21 L90.80,125.07 L91.30,124.92 L91.81,124.77 L92.32,124.61 L92.82,124.47 L93.31,124.33 L93.80,124.20 L94.28,124.08 L94.75,123.96 L95.23,123.83 L95.70,123.71 L96.18,123.59 L96.65,123.47 L97.12,123.35 L97.60,123.23 L98.07,123.12 L98.55,123.01 L99.02,122.90 L99.50,122.80 L99.98,122.70 L100.46,122.60 L100.94,122.51 L101.43,122.42 L101.91,122.33 L102.39,122.24 L102.88,122.16 L103.36,122.08 L103.85,122.01 L104.33,121.93 L104.82,121.86 L105.30,121.80 L105.79,121.74 L106.28,121.69 L106.77,121.64 L107.27,121.59 L107.77,121.54 L108.26,121.48 L108.75,121.43 L109.24,121.38 L109.72,121.33 L110.19,121.28 L110.65,121.23 L111.10,121.18 L111.54,121.13 L111.97,121.09 L112.39,121.05 L112.81,121.02 L113.22,120.99 L113.62,120.95 L114.02,120.92 L114.41,120.87 L114.79,120.82 L115.17,120.77 L115.54,120.70 L115.90,120.61 L116.25,120.52 L116.60,120.41 L116.94,120.30 L117.27,120.18 L117.60,120.05 L117.92,119.92 L118.23,119.78 L118.54,119.63 L118.84,119.48 L119.13,119.32 L119.42,119.15 L119.70,118.98 L119.97,118.81 L120.23,118.63 L120.48,118.45 L120.72,118.27 L120.95,118.08 L121.18,117.88 L121.41,117.67 L121.64,117.45 L121.87,117.23 L122.10,116.99 L122.35,116.74 L122.60,116.48 L122.86,116.22 L123.14,115.96 L123.42,115.69 L123.70,115.42 L123.99,115.14 L124.27,114.85 L124.56,114.53 L124.84,114.20 L125.12,113.84 L125.39,113.45 L125.65,113.03 L125.90,112.57 L126.13,112.08 L126.36,111.55 L126.57,111.00 L126.77,110.42 L126.97,109.82 L127.16,109.19 L127.36,108.54 L127.55,107.87 L127.75,107.17 L127.96,106.46 L128.17,105.73 L128.40,104.99 L128.64,104.21 L128.88,103.39 L129.13,102.54 L129.39,101.66 L129.64,100.77 L129.91,99.85 L130.17,98.94 L130.44,98.02 L130.70,97.11 L130.97,96.21 L131.24,95.33 L131.50,94.49 L131.76,93.66 L132.02,92.84 L132.29,92.03 L132.55,91.22 L132.81,90.42 L133.08,89.63 L133.34,88.85 L133.61,88.07 L133.88,87.30 L134.15,86.53 L134.42,85.76 L134.70,85.00 L134.98,84.25 L135.26,83.51 L135.55,82.78 L135.84,82.05 L136.13,81.33 L136.42,80.62 L136.72,79.90 L137.01,79.19 L137.31,78.48 L137.61,77.76 L137.90,77.04 L138.20,76.31 L138.49,75.61 L138.78,74.95 L139.06,74.31 L139.34,73.69 L139.63,73.06 L139.91,72.42 L140.20,71.75 L140.50,71.05 L140.81,70.28 L141.12,69.45 L141.45,68.53 L141.80,67.52 L142.17,66.37 L142.56,65.07 L142.98,63.66 L143.40,62.15 L143.84,60.59 L144.28,59.01 L144.72,57.43 L145.15,55.90 L145.57,54.44 L145.97,53.08 L146.35,51.85 L146.70,50.80 L147.02,49.89 L147.32,49.09 L147.59,48.38 L147.85,47.75 L148.10,47.19 L148.34,46.70 L148.57,46.26 L148.80,45.85 L149.04,45.48 L149.28,45.12 L149.53,44.77 L149.80,44.42 L150.07,44.08 L150.33,43.76 L150.59,43.48 L150.85,43.23 L151.11,43.00 L151.38,42.80 L151.65,42.64 L151.94,42.50 L152.25,42.39 L152.57,42.31 L152.92,42.25 L153.30,42.23 L153.71,42.24 L154.14,42.30 L154.60,42.40 L155.08,42.54 L155.57,42.70 L156.08,42.88 L156.60,43.09 L157.12,43.30 L157.65,43.52 L158.17,43.75 L158.69,43.97 L159.20,44.18 L159.71,44.38 L160.24,44.59 L160.78,44.79 L161.32,45.00 L161.86,45.22 L162.41,45.45 L162.94,45.68 L163.47,45.94 L163.98,46.20 L164.48,46.49 L164.95,46.79 L165.40,47.12 L165.82,47.47 L166.22,47.85 L166.59,48.25 L166.95,48.67 L167.29,49.10 L167.62,49.54 L167.95,50.00 L168.27,50.46 L168.60,50.93 L168.92,51.39 L169.26,51.86 L169.60,52.31 L169.95,52.78 L170.29,53.27 L170.63,53.78 L170.96,54.30 L171.30,54.82 L171.64,55.34 L171.98,55.84 L172.33,56.34 L172.68,56.80 L173.04,57.24 L173.41,57.65 L173.80,58.01 L174.20,58.32 L174.61,58.60 L175.03,58.84 L175.46,59.06 L175.90,59.25 L176.34,59.42 L176.78,59.58 L177.23,59.74 L177.68,59.89 L178.12,60.04 L178.56,60.21 L179.00,60.39 L179.43,60.56 L179.86,60.71 L180.28,60.85 L180.70,60.98 L181.12,61.11 L181.54,61.24 L181.96,61.37 L182.39,61.53 L182.83,61.70 L183.28,61.91 L183.73,62.14 L184.20,62.42 L184.69,62.76 L185.20,63.15 L185.73,63.60 L186.27,64.09 L186.81,64.60 L187.36,65.11 L187.91,65.62 L188.44,66.10 L188.97,66.55 L189.47,66.95 L189.95,67.29 L190.40,67.54 L190.82,67.72 L191.23,67.86 L191.62,67.94 L191.99,67.98 L192.35,67.99 L192.69,67.97 L193.03,67.92 L193.36,67.85 L193.67,67.77 L193.99,67.68 L194.29,67.58 L194.60,67.49 L194.90,67.38 L195.17,67.25 L195.44,67.10 L195.70,66.93 L195.94,66.74 L196.19,66.55 L196.43,66.35 L196.67,66.14 L196.92,65.93 L197.17,65.73 L197.43,65.53 L197.70,65.35 L197.99,65.17 L198.28,64.99 L198.59,64.80 L198.90,64.62 L199.21,64.43 L199.53,64.25 L199.84,64.07 L200.15,63.89 L200.45,63.71 L200.75,63.54 L201.03,63.37 L201.30,63.20 L201.57,63.04 L201.83,62.87 L202.10,62.71 L202.37,62.54 L202.63,62.38 L202.88,62.22 L203.11,62.07 L203.33,61.93 L203.54,61.80 L203.72,61.68 L203.87,61.58 L204.00,61.50 L204.00,70.50 L203.87,70.58 L203.72,70.68 L203.54,70.80 L203.33,70.93 L203.11,71.07 L202.88,71.22 L202.63,71.38 L202.37,71.54 L202.10,71.71 L201.83,71.87 L201.57,72.04 L201.30,72.20 L201.03,72.36 L200.75,72.52 L200.45,72.68 L200.15,72.85 L199.84,73.03 L199.53,73.20 L199.21,73.38 L198.90,73.55 L198.59,73.73 L198.28,73.90 L197.99,74.08 L197.70,74.25 L197.43,74.43 L197.17,74.62 L196.92,74.82 L196.67,75.02 L196.43,75.22 L196.19,75.41 L195.94,75.60 L195.70,75.78 L195.44,75.95 L195.17,76.09 L194.90,76.21 L194.60,76.31 L194.29,76.40 L193.99,76.49 L193.67,76.57 L193.36,76.64 L193.03,76.70 L192.69,76.74 L192.35,76.76 L191.99,76.74 L191.62,76.69 L191.23,76.59 L190.82,76.45 L190.40,76.26 L189.95,75.99 L189.47,75.65 L188.97,75.23 L188.44,74.77 L187.91,74.27 L187.36,73.75 L186.81,73.22 L186.27,72.70 L185.73,72.20 L185.20,71.74 L184.69,71.33 L184.20,70.98 L183.73,70.69 L183.28,70.44 L182.83,70.23 L182.39,70.04 L181.96,69.88 L181.54,69.73 L181.12,69.59 L180.70,69.45 L180.28,69.31 L179.86,69.16 L179.43,69.00 L179.00,68.81 L178.56,68.62 L178.12,68.45 L177.68,68.27 L177.23,68.10 L176.78,67.92 L176.34,67.74 L175.90,67.54 L175.46,67.33 L175.03,67.09 L174.61,66.83 L174.20,66.53 L173.80,66.19 L173.41,65.81 L173.04,65.39 L172.68,64.94 L172.33,64.45 L171.98,63.94 L171.64,63.41 L171.30,62.88 L170.96,62.34 L170.63,61.81 L170.29,61.28 L169.95,60.77 L169.60,60.29 L169.26,59.81 L168.92,59.33 L168.60,58.85 L168.27,58.37 L167.95,57.89 L167.62,57.42 L167.29,56.95 L166.95,56.50 L166.59,56.07 L166.22,55.65 L165.82,55.25 L165.40,54.88 L164.95,54.53 L164.48,54.20 L163.98,53.89 L163.47,53.60 L162.94,53.32 L162.41,53.05 L161.86,52.80 L161.32,52.55 L160.78,52.31 L160.24,52.08 L159.71,51.85 L159.20,51.62 L158.69,51.38 L158.17,51.14 L157.65,50.89 L157.12,50.64 L156.60,50.40 L156.08,50.17 L155.57,49.96 L155.08,49.77 L154.60,49.61 L154.14,49.49 L153.71,49.41 L153.30,49.37 L152.92,49.38 L152.57,49.41 L152.25,49.48 L151.94,49.57 L151.65,49.69 L151.38,49.85 L151.11,50.03 L150.85,50.24 L150.59,50.48 L150.33,50.75 L150.07,51.05 L149.80,51.38 L149.53,51.72 L149.28,52.06 L149.04,52.40 L148.80,52.76 L148.57,53.16 L148.34,53.59 L148.10,54.07 L147.85,54.61 L147.59,55.23 L147.32,55.92 L147.02,56.71 L146.70,57.60 L146.35,58.64 L145.97,59.85 L145.57,61.18 L145.15,62.63 L144.72,64.14 L144.28,65.69 L143.84,67.25 L143.40,68.79 L142.98,70.27 L142.56,71.67 L142.17,72.95 L141.80,74.08 L141.45,75.07 L141.12,75.97 L140.81,76.78 L140.50,77.53 L140.20,78.23 L139.91,78.88 L139.63,79.50 L139.34,80.11 L139.06,80.72 L138.78,81.35 L138.49,82.00 L138.20,82.69 L137.90,83.40 L137.61,84.10 L137.31,84.80 L137.01,85.50 L136.72,86.20 L136.42,86.90 L136.13,87.60 L135.84,88.30 L135.55,89.01 L135.26,89.73 L134.98,90.46 L134.70,91.20 L134.42,91.94 L134.15,92.69 L133.88,93.45 L133.61,94.20 L133.34,94.97 L133.08,95.74 L132.81,96.52 L132.55,97.30 L132.29,98.10 L132.02,98.89 L131.76,99.70 L131.50,100.51 L131.24,101.35 L130.97,102.21 L130.70,103.09 L130.44,103.98 L130.17,104.88 L129.91,105.78 L129.64,106.68 L129.39,107.56 L129.13,108.42 L128.88,109.25 L128.64,110.05 L128.40,110.81 L128.17,111.54 L127.96,112.26 L127.75,112.96 L127.55,113.64 L127.36,114.30 L127.16,114.93 L126.97,115.55 L126.77,116.14 L126.57,116.70 L126.36,117.24 L126.13,117.75 L125.90,118.23 L125.65,118.67 L125.39,119.07 L125.12,119.44 L124.84,119.78 L124.56,120.10 L124.27,120.39 L123.99,120.67 L123.70,120.93 L123.42,121.18 L123.14,121.42 L122.86,121.67 L122.60,121.92 L122.35,122.16 L122.10,122.39 L121.87,122.61 L121.64,122.82 L121.41,123.02 L121.18,123.21 L120.95,123.39 L120.72,123.57 L120.48,123.74 L120.23,123.90 L119.97,124.06 L119.70,124.22 L119.42,124.37 L119.13,124.51 L118.84,124.65 L118.54,124.78 L118.23,124.91 L117.92,125.03 L117.60,125.14 L117.27,125.25 L116.94,125.35 L116.60,125.44 L116.25,125.52 L115.90,125.59 L115.54,125.65 L115.17,125.69 L114.79,125.72 L114.41,125.75 L114.02,125.76 L113.62,125.77 L113.22,125.78 L112.81,125.78 L112.39,125.79 L111.97,125.79 L111.54,125.81 L111.10,125.82 L110.65,125.85 L110.19,125.87 L109.72,125.88 L109.24,125.90 L108.75,125.92 L108.26,125.94 L107.77,125.96 L107.27,125.99 L106.77,126.04 L106.28,126.09 L105.79,126.14 L105.30,126.20 L104.82,126.26 L104.33,126.33 L103.85,126.41 L103.36,126.48 L102.88,126.56 L102.39,126.64 L101.91,126.73 L101.43,126.82 L100.94,126.91 L100.46,127.00 L99.98,127.10 L99.50,127.20 L99.02,127.30 L98.55,127.41 L98.07,127.52 L97.60,127.63 L97.12,127.75 L96.65,127.87 L96.18,127.99 L95.70,128.11 L95.23,128.23 L94.75,128.36 L94.28,128.48 L93.80,128.60 L93.31,128.73 L92.82,128.87 L92.32,129.01 L91.81,129.17 L91.30,129.32 L90.80,129.47 L90.30,129.61 L89.81,129.74 L89.33,129.86 L88.87,129.96 L88.42,130.04 L88.00,130.10 L87.61,130.13 L87.28,130.13 L86.97,130.10 L86.69,130.06 L86.42,130.01 L86.15,129.94 L85.87,129.87 L85.57,129.80 L85.23,129.74 L84.85,129.68 L84.41,129.63 L83.90,129.60 L83.32,129.58 L82.68,129.57 L81.99,129.56 L81.26,129.56 L80.49,129.56 L79.70,129.57 L78.89,129.57 L78.07,129.58 L77.26,129.59 L76.45,129.59 L75.66,129.60 L74.90,129.60 L74.16,129.60 L73.41,129.59 L72.67,129.57 L71.93,129.56 L71.19,129.54 L70.45,129.53 L69.71,129.52 L68.97,129.52 L68.23,129.52 L67.49,129.54 L66.74,129.56 L66.00,129.60 L65.25,129.66 L64.51,129.73 L63.76,129.81 L63.01,129.91 L62.26,130.01 L61.51,130.12 L60.76,130.23 L60.00,130.34 L59.25,130.44 L58.50,130.54 L57.75,130.63 L57.00,130.70 L56.22,130.76 L55.40,130.82 L54.54,130.88 L53.67,130.93 L52.79,130.98 L51.94,131.02 L51.11,131.06 L50.33,131.09 L49.62,131.12 L48.98,131.15 L48.43,131.18 L48.00,131.20Z" fill="#7fbcbc" fill-opacity="0.38"/>
<path d="M48.00,129.00 C49.50,128.92 54.00,128.77 57.00,128.50 C60.00,128.23 63.02,127.58 66.00,127.40 C68.98,127.22 71.92,127.40 74.90,127.40 C77.88,127.40 81.72,127.32 83.90,127.40 C86.08,127.48 86.35,128.07 88.00,127.90 C89.65,127.73 91.88,126.88 93.80,126.40 C95.72,125.92 97.58,125.40 99.50,125.00 C101.42,124.60 103.37,124.25 105.30,124.00 C107.23,123.75 109.33,123.65 111.10,123.50 C112.87,123.35 114.47,123.42 115.90,123.10 C117.33,122.78 118.58,122.25 119.70,121.60 C120.82,120.95 121.57,120.23 122.60,119.20 C123.63,118.17 124.93,117.28 125.90,115.40 C126.87,113.52 127.47,110.88 128.40,107.90 C129.33,104.92 130.45,100.80 131.50,97.50 C132.55,94.20 133.58,91.10 134.70,88.10 C135.82,85.10 137.02,82.38 138.20,79.50 C139.38,76.62 140.38,75.02 141.80,70.80 C143.22,66.58 145.37,58.02 146.70,54.20 C148.03,50.38 148.70,49.30 149.80,47.90 C150.90,46.50 151.73,45.80 153.30,45.80 C154.87,45.80 157.18,47.03 159.20,47.90 C161.22,48.77 163.67,49.60 165.40,51.00 C167.13,52.40 168.20,54.45 169.60,56.30 C171.00,58.15 172.23,60.72 173.80,62.10 C175.37,63.48 177.27,63.83 179.00,64.60 C180.73,65.37 182.30,65.48 184.20,66.70 C186.10,67.92 188.67,71.03 190.40,71.90 C192.13,72.77 193.38,72.25 194.60,71.90 C195.82,71.55 196.58,70.50 197.70,69.80 C198.82,69.10 200.25,68.33 201.30,67.70 C202.35,67.07 203.55,66.28 204.00,66.00" fill="none" stroke="#1d7e84" stroke-width="1.15" stroke-linejoin="round"/>
<path d="M48.00,124.60 C49.12,124.78 52.27,125.33 54.70,125.70 C57.13,126.07 60.35,127.08 62.60,126.80 C64.85,126.52 66.25,124.75 68.20,124.00 C70.15,123.25 72.43,122.30 74.30,122.30 C76.17,122.30 77.80,123.07 79.40,124.00 C81.00,124.93 82.47,126.93 83.90,127.90 C85.33,128.87 86.35,129.25 88.00,129.80 C89.65,130.35 91.88,130.80 93.80,131.20 C95.72,131.60 97.27,132.12 99.50,132.20 C101.73,132.28 104.95,131.87 107.20,131.70 C109.45,131.53 111.07,131.23 113.00,131.20 C114.93,131.17 117.03,131.33 118.80,131.50 C120.57,131.67 122.07,131.85 123.60,132.20 C125.13,132.55 126.42,133.00 128.00,133.60 C129.58,134.20 131.03,135.73 133.10,135.80 C135.17,135.87 138.13,135.18 140.40,134.00 C142.67,132.82 144.78,131.37 146.70,128.75 C148.62,126.13 150.35,121.77 151.90,118.30 C153.45,114.83 154.62,110.05 156.00,107.90 C157.38,105.75 158.63,105.57 160.20,105.40 C161.77,105.23 163.48,105.97 165.40,106.90 C167.32,107.83 169.62,109.44 171.70,111.00 C173.78,112.56 176.17,115.10 177.90,116.25 C179.63,117.40 180.37,117.98 182.10,117.90 C183.83,117.83 186.22,116.49 188.30,115.80 C190.38,115.11 192.52,113.85 194.60,113.75 C196.68,113.65 199.23,114.83 200.80,115.20 C202.37,115.58 203.47,115.87 204.00,116.00" fill="none" stroke="#f7a935" stroke-width="1.15" stroke-linejoin="round"/>
<path d="M48.00,123.50 C49.12,123.87 52.27,125.05 54.70,125.70 C57.13,126.35 59.98,127.03 62.60,127.40 C65.22,127.77 67.98,127.72 70.40,127.90 C72.82,128.08 74.85,128.32 77.10,128.50 C79.35,128.68 82.08,128.95 83.90,129.00 C85.72,129.05 86.68,128.92 88.00,128.80 C89.32,128.68 90.52,128.53 91.80,128.30 C93.08,128.07 94.25,127.95 95.70,127.40 C97.15,126.85 98.90,125.65 100.50,125.00 C102.10,124.35 103.70,123.90 105.30,123.50 C106.90,123.10 108.65,122.72 110.10,122.60 C111.55,122.48 112.72,122.68 114.00,122.80 C115.28,122.92 116.52,123.15 117.80,123.30 C119.08,123.45 120.50,123.73 121.70,123.70 C122.90,123.67 123.95,123.53 125.00,123.10 C126.05,122.67 126.47,122.93 128.00,121.10 C129.53,119.27 132.13,114.65 134.20,112.10 C136.27,109.55 138.32,107.53 140.40,105.80 C142.48,104.07 144.62,103.08 146.70,101.70 C148.78,100.32 150.82,99.32 152.90,97.50 C154.98,95.68 157.12,93.50 159.20,90.80 C161.28,88.10 163.67,84.28 165.40,81.30 C167.13,78.32 168.20,75.68 169.60,72.90 C171.00,70.12 172.58,66.40 173.80,64.60 C175.02,62.80 175.52,62.90 176.90,62.10 C178.28,61.30 180.58,60.73 182.10,59.80 C183.62,58.87 184.68,57.53 186.00,56.50 C187.32,55.47 188.83,54.05 190.00,53.60 C191.17,53.15 192.00,53.57 193.00,53.80 C194.00,54.03 195.00,55.05 196.00,55.00 C197.00,54.95 198.12,54.08 199.00,53.50 C199.88,52.92 200.47,52.25 201.30,51.50 C202.13,50.75 203.55,49.42 204.00,49.00" fill="none" stroke="#5f83c5" stroke-width="1.70" stroke-linejoin="round"/>
<path d="M48.00,127.40 C49.12,127.48 52.27,127.63 54.70,127.90 C57.13,128.17 59.98,128.95 62.60,129.00 C65.22,129.05 68.17,128.20 70.40,128.20 C72.63,128.20 74.22,128.48 76.00,129.00 C77.78,129.52 79.42,131.20 81.10,131.30 C82.78,131.40 84.95,130.10 86.10,129.60 C87.25,129.10 87.05,129.07 88.00,128.30 C88.95,127.53 90.35,125.87 91.80,125.00 C93.25,124.13 95.25,123.53 96.70,123.10 C98.15,122.67 99.30,122.37 100.50,122.40 C101.70,122.43 102.93,122.63 103.90,123.30 C104.87,123.97 105.50,125.32 106.30,126.40 C107.10,127.48 107.75,128.75 108.70,129.80 C109.65,130.85 110.65,131.90 112.00,132.70 C113.35,133.50 115.35,134.20 116.80,134.60 C118.25,135.00 119.42,135.15 120.70,135.10 C121.98,135.05 123.28,134.70 124.50,134.30 C125.72,133.90 126.38,134.15 128.00,132.70 C129.62,131.25 132.13,127.82 134.20,125.60 C136.27,123.38 137.97,121.13 140.40,119.40 C142.83,117.67 146.32,116.14 148.75,115.20 C151.18,114.26 152.92,114.78 155.00,113.75 C157.08,112.72 159.17,110.33 161.25,109.00 C163.33,107.67 165.42,106.75 167.50,105.80 C169.58,104.85 171.67,104.68 173.75,103.30 C175.83,101.92 177.92,99.51 180.00,97.50 C182.08,95.49 184.17,93.62 186.25,91.25 C188.33,88.88 190.76,86.01 192.50,83.30 C194.24,80.59 195.48,77.77 196.70,75.00 C197.92,72.23 199.03,69.13 199.80,66.70 C200.57,64.27 200.77,62.35 201.30,60.40 C201.83,58.45 202.72,55.90 203.00,55.00" fill="none" stroke="#ee7078" stroke-width="1.70" stroke-linejoin="round"/>
</g>
<line x1="107.45" y1="25.70" x2="107.45" y2="146.40" stroke="#555" stroke-width="0.9" stroke-dasharray="3,2.6"/>
<rect x="48.50" y="25.70" width="152.80" height="120.70" fill="none" stroke="#cfcfcf" stroke-width="1"/>
<path d="M48.50,25.70V146.40H201.30" fill="none" stroke="#b0b0b0" stroke-width="1"/>
<path d="M60.55,146.40v-1.6M60.55,25.70v1.6M84.00,146.40v-1.6M84.00,25.70v1.6M107.45,146.40v-1.6M107.45,25.70v1.6M130.90,146.40v-1.6M130.90,25.70v1.6M154.35,146.40v-1.6M154.35,25.70v1.6M177.80,146.40v-1.6M177.80,25.70v1.6M48.50,139.46h1.6M201.30,139.46h-1.6M48.50,127.30h1.6M201.30,127.30h-1.6M48.50,115.14h1.6M201.30,115.14h-1.6M48.50,102.98h1.6M201.30,102.98h-1.6M48.50,90.82h1.6M201.30,90.82h-1.6M48.50,78.66h1.6M201.30,78.66h-1.6M48.50,66.50h1.6M201.30,66.50h-1.6M48.50,54.34h1.6M201.30,54.34h-1.6M48.50,42.18h1.6M201.30,42.18h-1.6M48.50,30.02h1.6M201.30,30.02h-1.6" stroke="#a8a8a8" stroke-width="0.9" fill="none"/>
<text x="47.80" y="142.21" font-size="7.80" text-anchor="end" textLength="15.71" lengthAdjust="spacingAndGlyphs">-0.05</text>
<text x="44.00" y="130.05" font-size="7.80" text-anchor="end" textLength="3.83" lengthAdjust="spacingAndGlyphs">0</text>
<text x="47.80" y="117.89" font-size="7.80" text-anchor="end" textLength="13.42" lengthAdjust="spacingAndGlyphs">0.05</text>
<text x="47.80" y="105.73" font-size="7.80" text-anchor="end" textLength="9.58" lengthAdjust="spacingAndGlyphs">0.1</text>
<text x="47.80" y="93.57" font-size="7.80" text-anchor="end" textLength="13.42" lengthAdjust="spacingAndGlyphs">0.15</text>
<text x="47.80" y="81.41" font-size="7.80" text-anchor="end" textLength="9.58" lengthAdjust="spacingAndGlyphs">0.2</text>
<text x="47.80" y="69.25" font-size="7.80" text-anchor="end" textLength="13.42" lengthAdjust="spacingAndGlyphs">0.25</text>
<text x="47.80" y="57.09" font-size="7.80" text-anchor="end" textLength="9.58" lengthAdjust="spacingAndGlyphs">0.3</text>
<text x="47.80" y="44.93" font-size="7.80" text-anchor="end" textLength="13.42" lengthAdjust="spacingAndGlyphs">0.35</text>
<text x="47.80" y="32.77" font-size="7.80" text-anchor="end" textLength="9.58" lengthAdjust="spacingAndGlyphs">0.4</text>
<text x="60.85" y="153.90" font-size="7.30" text-anchor="middle" textLength="14.01" lengthAdjust="spacingAndGlyphs">-200</text>
<text x="84.30" y="153.90" font-size="7.30" text-anchor="middle" textLength="14.01" lengthAdjust="spacingAndGlyphs">-100</text>
<text x="107.75" y="153.90" font-size="7.30" text-anchor="middle" textLength="3.89" lengthAdjust="spacingAndGlyphs">0</text>
<text x="131.20" y="153.90" font-size="7.30" text-anchor="middle" textLength="11.68" lengthAdjust="spacingAndGlyphs">100</text>
<text x="154.65" y="153.90" font-size="7.30" text-anchor="middle" textLength="11.68" lengthAdjust="spacingAndGlyphs">200</text>
<text x="178.10" y="153.90" font-size="7.30" text-anchor="middle" textLength="11.68" lengthAdjust="spacingAndGlyphs">300</text>
<text x="106.30" y="160.50" font-size="7.00" textLength="31.20" lengthAdjust="spacingAndGlyphs">Time (ms)</text>
<text x="52.40" y="21.00" font-size="7.00" font-weight="bold" class="nb">Array 3 + 4 + 5</text>
</g>
<g>
<clipPath id="clipP2"><rect x="223.10" y="25.70" width="152.40" height="120.70"/></clipPath>
<g clip-path="url(#clipP2)">
<path d="M223.70,133.39 L224.05,133.42 L224.49,133.46 L225.00,133.51 L225.57,133.57 L226.20,133.63 L226.86,133.69 L227.55,133.74 L228.26,133.79 L228.97,133.83 L229.67,133.85 L230.35,133.85 L231.00,133.83 L231.63,133.79 L232.27,133.73 L232.91,133.65 L233.56,133.56 L234.21,133.46 L234.86,133.35 L235.52,133.23 L236.17,133.11 L236.83,133.00 L237.49,132.88 L238.14,132.77 L238.80,132.67 L239.46,132.57 L240.12,132.46 L240.80,132.35 L241.47,132.24 L242.15,132.12 L242.82,132.01 L243.49,131.91 L244.15,131.81 L244.81,131.71 L245.45,131.63 L246.08,131.56 L246.70,131.50 L247.30,131.46 L247.90,131.44 L248.49,131.43 L249.06,131.44 L249.63,131.46 L250.19,131.48 L250.75,131.49 L251.29,131.51 L251.83,131.51 L252.36,131.51 L252.88,131.48 L253.40,131.44 L253.90,131.38 L254.37,131.30 L254.83,131.22 L255.27,131.12 L255.70,131.01 L256.13,130.90 L256.57,130.78 L257.01,130.66 L257.47,130.54 L257.95,130.42 L258.46,130.31 L259.00,130.19 L259.58,130.08 L260.18,129.95 L260.82,129.81 L261.47,129.67 L262.14,129.53 L262.83,129.39 L263.51,129.25 L264.19,129.13 L264.87,129.02 L265.53,128.93 L266.18,128.87 L266.80,128.83 L267.41,128.81 L268.01,128.81 L268.60,128.83 L269.19,128.87 L269.76,128.92 L270.34,128.98 L270.90,129.05 L271.46,129.14 L272.01,129.24 L272.55,129.34 L273.08,129.45 L273.60,129.57 L274.10,129.70 L274.59,129.84 L275.05,129.99 L275.50,130.15 L275.94,130.32 L276.38,130.51 L276.82,130.69 L277.27,130.89 L277.73,131.09 L278.20,131.30 L278.69,131.51 L279.20,131.72 L279.74,131.95 L280.30,132.20 L280.88,132.46 L281.47,132.74 L282.08,133.02 L282.68,133.29 L283.30,133.56 L283.91,133.82 L284.51,134.06 L285.10,134.29 L285.69,134.49 L286.25,134.66 L286.80,134.80 L287.34,134.94 L287.87,135.07 L288.39,135.18 L288.91,135.28 L289.43,135.36 L289.94,135.42 L290.45,135.46 L290.96,135.48 L291.47,135.47 L291.98,135.44 L292.50,135.37 L293.02,135.29 L293.54,135.18 L294.06,135.06 L294.58,134.92 L295.10,134.76 L295.62,134.57 L296.15,134.35 L296.67,134.10 L297.19,133.81 L297.71,133.49 L298.23,133.14 L298.75,132.74 L299.27,132.28 L299.79,131.75 L300.31,131.17 L300.83,130.54 L301.35,129.88 L301.88,129.19 L302.40,128.50 L302.92,127.81 L303.44,127.13 L303.96,126.48 L304.48,125.87 L305.00,125.31 L305.52,124.78 L306.04,124.28 L306.56,123.79 L307.08,123.31 L307.60,122.85 L308.12,122.40 L308.65,121.97 L309.17,121.56 L309.69,121.16 L310.21,120.79 L310.73,120.43 L311.25,120.10 L311.77,119.79 L312.29,119.49 L312.81,119.22 L313.33,118.96 L313.85,118.72 L314.38,118.50 L314.90,118.30 L315.42,118.12 L315.94,117.96 L316.46,117.82 L316.98,117.70 L317.50,117.60 L318.02,117.53 L318.53,117.48 L319.04,117.46 L319.55,117.46 L320.05,117.47 L320.56,117.51 L321.07,117.57 L321.59,117.63 L322.12,117.71 L322.65,117.80 L323.19,117.90 L323.75,118.00 L324.32,118.13 L324.91,118.30 L325.51,118.50 L326.13,118.73 L326.75,118.97 L327.37,119.21 L328.00,119.44 L328.62,119.65 L329.23,119.82 L329.84,119.95 L330.43,120.03 L331.00,120.05 L331.56,120.02 L332.09,119.93 L332.62,119.81 L333.13,119.66 L333.64,119.47 L334.15,119.26 L334.65,119.03 L335.16,118.79 L335.68,118.55 L336.20,118.30 L336.74,118.05 L337.30,117.82 L337.87,117.58 L338.45,117.32 L339.03,117.05 L339.62,116.77 L340.22,116.49 L340.82,116.19 L341.44,115.90 L342.06,115.61 L342.68,115.33 L343.31,115.06 L343.95,114.80 L344.60,114.56 L345.26,114.34 L345.92,114.12 L346.60,113.91 L347.29,113.71 L347.98,113.52 L348.68,113.33 L349.39,113.14 L350.09,112.97 L350.80,112.79 L351.50,112.62 L352.20,112.45 L352.90,112.29 L353.60,112.13 L354.31,111.97 L355.03,111.83 L355.76,111.69 L356.48,111.55 L357.20,111.41 L357.92,111.28 L358.62,111.15 L359.31,111.02 L359.98,110.89 L360.63,110.75 L361.25,110.61 L361.85,110.48 L362.43,110.35 L362.98,110.24 L363.53,110.13 L364.06,110.02 L364.57,109.91 L365.08,109.78 L365.57,109.65 L366.06,109.49 L366.54,109.32 L367.02,109.11 L367.50,108.88 L367.98,108.61 L368.45,108.31 L368.92,107.98 L369.39,107.63 L369.85,107.26 L370.30,106.88 L370.74,106.49 L371.16,106.09 L371.57,105.70 L371.97,105.31 L372.34,104.93 L372.70,104.57 L373.03,104.21 L373.35,103.85 L373.64,103.49 L373.92,103.13 L374.19,102.76 L374.44,102.40 L374.68,102.05 L374.91,101.69 L375.14,101.34 L375.36,100.99 L375.58,100.64 L375.80,100.30 L376.02,99.96 L376.24,99.60 L376.46,99.23 L376.68,98.86 L376.89,98.50 L377.09,98.14 L377.28,97.79 L377.46,97.47 L377.63,97.17 L377.77,96.91 L377.90,96.68 L378.00,96.50 L378.00,107.50 L377.90,107.68 L377.77,107.91 L377.63,108.17 L377.46,108.47 L377.28,108.79 L377.09,109.14 L376.89,109.50 L376.68,109.86 L376.46,110.23 L376.24,110.60 L376.02,110.96 L375.80,111.30 L375.58,111.63 L375.36,111.97 L375.14,112.31 L374.91,112.65 L374.68,113.00 L374.44,113.35 L374.19,113.70 L373.92,114.05 L373.64,114.39 L373.35,114.74 L373.03,115.09 L372.70,115.43 L372.34,115.78 L371.97,116.15 L371.57,116.52 L371.16,116.90 L370.74,117.27 L370.30,117.65 L369.85,118.01 L369.39,118.36 L368.92,118.69 L368.45,118.99 L367.98,119.27 L367.50,119.52 L367.02,119.74 L366.54,119.92 L366.06,120.08 L365.57,120.21 L365.08,120.33 L364.57,120.43 L364.06,120.52 L363.53,120.61 L362.98,120.70 L362.43,120.78 L361.85,120.88 L361.25,120.99 L360.63,121.10 L359.98,121.21 L359.31,121.32 L358.62,121.42 L357.92,121.52 L357.20,121.62 L356.48,121.73 L355.76,121.83 L355.03,121.94 L354.31,122.06 L353.60,122.18 L352.90,122.31 L352.20,122.45 L351.50,122.59 L350.80,122.73 L350.09,122.87 L349.39,123.02 L348.68,123.17 L347.98,123.33 L347.29,123.50 L346.60,123.67 L345.92,123.85 L345.26,124.04 L344.60,124.24 L343.95,124.45 L343.31,124.68 L342.68,124.92 L342.06,125.18 L341.44,125.44 L340.82,125.71 L340.22,125.97 L339.62,126.23 L339.03,126.49 L338.45,126.73 L337.87,126.97 L337.30,127.18 L336.74,127.39 L336.20,127.61 L335.68,127.84 L335.16,128.06 L334.65,128.28 L334.15,128.49 L333.64,128.68 L333.13,128.84 L332.62,128.97 L332.09,129.07 L331.56,129.13 L331.00,129.15 L330.43,129.10 L329.84,129.00 L329.23,128.84 L328.62,128.65 L328.00,128.44 L327.37,128.21 L326.75,127.97 L326.13,127.73 L325.51,127.50 L324.91,127.30 L324.32,127.13 L323.75,127.00 L323.19,126.90 L322.65,126.80 L322.12,126.71 L321.59,126.63 L321.07,126.57 L320.56,126.51 L320.05,126.47 L319.55,126.46 L319.04,126.46 L318.53,126.48 L318.02,126.53 L317.50,126.60 L316.98,126.70 L316.46,126.82 L315.94,126.96 L315.42,127.12 L314.90,127.30 L314.38,127.50 L313.85,127.72 L313.33,127.96 L312.81,128.22 L312.29,128.49 L311.77,128.79 L311.25,129.10 L310.73,129.43 L310.21,129.79 L309.69,130.16 L309.17,130.56 L308.65,130.97 L308.12,131.40 L307.60,131.85 L307.08,132.31 L306.56,132.79 L306.04,133.28 L305.52,133.78 L305.00,134.29 L304.48,134.83 L303.96,135.42 L303.44,136.05 L302.92,136.70 L302.40,137.37 L301.88,138.05 L301.35,138.71 L300.83,139.35 L300.31,139.96 L299.79,140.52 L299.27,141.02 L298.75,141.46 L298.23,141.84 L297.71,142.17 L297.19,142.47 L296.67,142.73 L296.15,142.96 L295.62,143.15 L295.10,143.32 L294.58,143.46 L294.06,143.58 L293.54,143.68 L293.02,143.76 L292.50,143.83 L291.98,143.87 L291.47,143.88 L290.96,143.87 L290.45,143.83 L289.94,143.77 L289.43,143.68 L288.91,143.58 L288.39,143.46 L287.87,143.32 L287.34,143.18 L286.80,143.01 L286.25,142.84 L285.69,142.65 L285.10,142.43 L284.51,142.18 L283.91,141.91 L283.30,141.62 L282.68,141.33 L282.08,141.03 L281.47,140.73 L280.88,140.45 L280.30,140.17 L279.74,139.91 L279.20,139.68 L278.69,139.46 L278.20,139.24 L277.73,139.02 L277.27,138.81 L276.82,138.61 L276.38,138.41 L275.94,138.22 L275.50,138.04 L275.05,137.87 L274.59,137.71 L274.10,137.57 L273.60,137.43 L273.08,137.30 L272.55,137.18 L272.01,137.07 L271.46,136.96 L270.90,136.87 L270.34,136.78 L269.76,136.71 L269.19,136.65 L268.60,136.61 L268.01,136.58 L267.41,136.57 L266.80,136.57 L266.18,136.60 L265.53,136.66 L264.87,136.74 L264.19,136.83 L263.51,136.94 L262.83,137.06 L262.14,137.19 L261.47,137.32 L260.82,137.45 L260.18,137.58 L259.58,137.70 L259.00,137.81 L258.46,137.91 L257.95,138.02 L257.47,138.13 L257.01,138.24 L256.57,138.35 L256.13,138.46 L255.70,138.57 L255.27,138.67 L254.83,138.76 L254.37,138.84 L253.90,138.90 L253.40,138.96 L252.88,138.99 L252.36,139.01 L251.83,139.00 L251.29,138.99 L250.75,138.97 L250.19,138.94 L249.63,138.91 L249.06,138.88 L248.49,138.87 L247.90,138.86 L247.30,138.87 L246.70,138.90 L246.08,138.95 L245.45,139.01 L244.81,139.08 L244.15,139.16 L243.49,139.25 L242.82,139.35 L242.15,139.45 L241.47,139.55 L240.80,139.65 L240.12,139.75 L239.46,139.84 L238.80,139.93 L238.14,140.03 L237.49,140.12 L236.83,140.23 L236.17,140.34 L235.52,140.45 L234.86,140.55 L234.21,140.65 L233.56,140.74 L232.91,140.82 L232.27,140.89 L231.63,140.94 L231.00,140.97 L230.35,140.97 L229.67,140.96 L228.97,140.93 L228.26,140.88 L227.55,140.82 L226.86,140.75 L226.20,140.68 L225.57,140.61 L225.00,140.54 L224.49,140.49 L224.05,140.44 L223.70,140.41Z" fill="#f4a7b0" fill-opacity="0.32"/>
<path d="M223.70,131.50 L224.05,131.47 L224.49,131.43 L225.00,131.37 L225.57,131.32 L226.20,131.26 L226.86,131.20 L227.55,131.14 L228.26,131.08 L228.97,131.03 L229.67,130.99 L230.35,130.96 L231.00,130.95 L231.64,130.96 L232.30,130.99 L232.97,131.03 L233.64,131.09 L234.33,131.15 L235.01,131.21 L235.68,131.28 L236.34,131.33 L236.99,131.38 L237.62,131.41 L238.23,131.42 L238.80,131.40 L239.34,131.36 L239.86,131.30 L240.35,131.22 L240.83,131.12 L241.29,131.01 L241.74,130.90 L242.18,130.78 L242.61,130.66 L243.05,130.55 L243.49,130.44 L243.94,130.35 L244.40,130.27 L244.87,130.20 L245.33,130.12 L245.80,130.03 L246.27,129.95 L246.73,129.87 L247.20,129.80 L247.67,129.74 L248.13,129.69 L248.60,129.67 L249.07,129.66 L249.53,129.68 L250.00,129.74 L250.46,129.82 L250.92,129.95 L251.37,130.10 L251.82,130.28 L252.27,130.47 L252.72,130.68 L253.18,130.90 L253.64,131.12 L254.12,131.33 L254.60,131.54 L255.09,131.73 L255.60,131.90 L256.12,132.06 L256.67,132.22 L257.22,132.37 L257.78,132.52 L258.35,132.67 L258.93,132.81 L259.51,132.95 L260.10,133.09 L260.68,133.21 L261.26,133.34 L261.83,133.45 L262.40,133.56 L262.96,133.66 L263.52,133.76 L264.08,133.85 L264.64,133.93 L265.20,134.01 L265.76,134.08 L266.31,134.15 L266.87,134.22 L267.43,134.27 L267.98,134.33 L268.54,134.38 L269.10,134.42 L269.67,134.46 L270.25,134.49 L270.83,134.52 L271.43,134.54 L272.02,134.56 L272.61,134.57 L273.19,134.58 L273.75,134.59 L274.30,134.59 L274.83,134.59 L275.33,134.59 L275.80,134.58 L276.23,134.57 L276.62,134.55 L276.98,134.53 L277.31,134.50 L277.62,134.46 L277.93,134.43 L278.23,134.39 L278.54,134.36 L278.86,134.33 L279.21,134.30 L279.59,134.27 L280.00,134.25 L280.44,134.24 L280.90,134.24 L281.37,134.25 L281.85,134.26 L282.35,134.27 L282.87,134.29 L283.39,134.30 L283.94,134.30 L284.49,134.30 L285.06,134.28 L285.65,134.26 L286.25,134.22 L286.88,134.15 L287.55,134.05 L288.24,133.93 L288.96,133.80 L289.69,133.65 L290.43,133.51 L291.17,133.37 L291.90,133.25 L292.61,133.15 L293.31,133.08 L293.97,133.05 L294.60,133.07 L295.19,133.12 L295.76,133.22 L296.30,133.35 L296.82,133.51 L297.33,133.70 L297.83,133.90 L298.32,134.11 L298.81,134.32 L299.29,134.54 L299.79,134.75 L300.29,134.95 L300.80,135.13 L301.32,135.31 L301.85,135.51 L302.37,135.73 L302.90,135.95 L303.42,136.17 L303.95,136.38 L304.48,136.58 L305.00,136.76 L305.53,136.92 L306.05,137.05 L306.58,137.14 L307.10,137.18 L307.62,137.19 L308.14,137.16 L308.65,137.11 L309.17,137.02 L309.69,136.92 L310.20,136.79 L310.71,136.64 L311.23,136.47 L311.75,136.29 L312.26,136.09 L312.78,135.88 L313.30,135.66 L313.82,135.44 L314.36,135.19 L314.89,134.93 L315.43,134.66 L315.97,134.36 L316.51,134.06 L317.05,133.73 L317.58,133.39 L318.10,133.03 L318.61,132.65 L319.11,132.26 L319.60,131.85 L320.07,131.42 L320.53,130.97 L320.98,130.50 L321.41,130.01 L321.84,129.50 L322.27,128.98 L322.69,128.44 L323.11,127.89 L323.53,127.32 L323.95,126.74 L324.37,126.15 L324.80,125.54 L325.24,124.90 L325.68,124.20 L326.12,123.47 L326.57,122.70 L327.02,121.92 L327.46,121.14 L327.90,120.37 L328.34,119.63 L328.77,118.92 L329.19,118.26 L329.60,117.66 L330.00,117.14 L330.38,116.67 L330.75,116.25 L331.10,115.86 L331.44,115.51 L331.77,115.19 L332.10,114.91 L332.43,114.67 L332.76,114.46 L333.10,114.29 L333.45,114.16 L333.82,114.06 L334.20,113.99 L334.60,113.98 L335.01,114.03 L335.43,114.14 L335.86,114.29 L336.30,114.48 L336.74,114.69 L337.18,114.92 L337.63,115.16 L338.08,115.40 L338.52,115.64 L338.96,115.85 L339.40,116.04 L339.83,116.20 L340.26,116.35 L340.68,116.50 L341.10,116.65 L341.52,116.79 L341.94,116.94 L342.36,117.09 L342.79,117.25 L343.23,117.43 L343.68,117.63 L344.13,117.84 L344.60,118.08 L345.08,118.35 L345.57,118.66 L346.08,119.00 L346.59,119.35 L347.11,119.72 L347.63,120.10 L348.16,120.48 L348.69,120.85 L349.22,121.20 L349.75,121.54 L350.28,121.84 L350.80,122.12 L351.32,122.37 L351.85,122.62 L352.37,122.86 L352.90,123.10 L353.42,123.33 L353.95,123.54 L354.48,123.72 L355.00,123.89 L355.53,124.02 L356.05,124.12 L356.58,124.18 L357.10,124.20 L357.62,124.18 L358.14,124.10 L358.65,123.99 L359.17,123.85 L359.69,123.67 L360.20,123.48 L360.71,123.26 L361.23,123.03 L361.75,122.79 L362.26,122.56 L362.78,122.32 L363.30,122.10 L363.82,121.86 L364.35,121.60 L364.87,121.31 L365.40,121.00 L365.92,120.69 L366.45,120.38 L366.98,120.08 L367.50,119.80 L368.03,119.54 L368.55,119.31 L369.08,119.13 L369.60,119.00 L370.13,118.92 L370.69,118.89 L371.25,118.89 L371.82,118.93 L372.39,119.00 L372.96,119.08 L373.51,119.18 L374.03,119.28 L374.53,119.38 L375.00,119.47 L375.42,119.55 L375.80,119.60 L376.13,119.64 L376.42,119.68 L376.68,119.72 L376.91,119.76 L377.11,119.80 L377.29,119.84 L377.44,119.87 L377.58,119.90 L377.70,119.93 L377.81,119.96 L377.91,119.98 L378.00,120.00 L378.00,127.00 L377.91,126.98 L377.81,126.96 L377.70,126.93 L377.58,126.90 L377.44,126.87 L377.29,126.84 L377.11,126.80 L376.91,126.76 L376.68,126.72 L376.42,126.68 L376.13,126.64 L375.80,126.60 L375.42,126.55 L375.00,126.47 L374.53,126.38 L374.03,126.28 L373.51,126.18 L372.96,126.08 L372.39,126.00 L371.82,125.93 L371.25,125.89 L370.69,125.89 L370.13,125.92 L369.60,126.00 L369.08,126.13 L368.55,126.31 L368.03,126.54 L367.50,126.80 L366.98,127.08 L366.45,127.38 L365.92,127.69 L365.40,128.00 L364.87,128.31 L364.35,128.60 L363.82,128.86 L363.30,129.10 L362.78,129.32 L362.26,129.56 L361.75,129.79 L361.23,130.03 L360.71,130.26 L360.20,130.48 L359.69,130.67 L359.17,130.85 L358.65,130.99 L358.14,131.10 L357.62,131.18 L357.10,131.20 L356.58,131.18 L356.05,131.12 L355.53,131.02 L355.00,130.89 L354.48,130.72 L353.95,130.54 L353.42,130.33 L352.90,130.10 L352.37,129.86 L351.85,129.61 L351.32,129.35 L350.80,129.08 L350.28,128.80 L349.75,128.48 L349.22,128.14 L348.69,127.77 L348.16,127.39 L347.63,127.00 L347.11,126.61 L346.59,126.23 L346.08,125.87 L345.57,125.52 L345.08,125.20 L344.60,124.92 L344.13,124.67 L343.68,124.44 L343.23,124.24 L342.79,124.05 L342.36,123.88 L341.94,123.71 L341.52,123.56 L341.10,123.41 L340.68,123.25 L340.26,123.10 L339.83,122.94 L339.40,122.76 L338.96,122.57 L338.52,122.34 L338.08,122.10 L337.63,121.85 L337.18,121.60 L336.74,121.36 L336.30,121.14 L335.86,120.94 L335.43,120.78 L335.01,120.67 L334.60,120.60 L334.20,120.61 L333.82,120.66 L333.45,120.75 L333.10,120.88 L332.76,121.05 L332.43,121.25 L332.10,121.48 L331.77,121.75 L331.44,122.06 L331.10,122.41 L330.75,122.79 L330.38,123.21 L330.00,123.66 L329.60,124.18 L329.19,124.77 L328.77,125.42 L328.34,126.12 L327.90,126.85 L327.46,127.61 L327.02,128.38 L326.57,129.15 L326.12,129.91 L325.68,130.64 L325.24,131.32 L324.80,131.96 L324.37,132.56 L323.95,133.14 L323.53,133.71 L323.11,134.27 L322.69,134.81 L322.27,135.34 L321.84,135.86 L321.41,136.35 L320.98,136.83 L320.53,137.29 L320.07,137.73 L319.60,138.15 L319.11,138.55 L318.61,138.94 L318.10,139.30 L317.58,139.65 L317.05,139.98 L316.51,140.29 L315.97,140.59 L315.43,140.87 L314.89,141.13 L314.36,141.38 L313.82,141.62 L313.30,141.84 L312.78,142.04 L312.26,142.24 L311.75,142.43 L311.23,142.60 L310.71,142.75 L310.20,142.89 L309.69,143.01 L309.17,143.11 L308.65,143.18 L308.14,143.22 L307.62,143.24 L307.10,143.22 L306.58,143.16 L306.05,143.06 L305.53,142.93 L305.00,142.76 L304.48,142.57 L303.95,142.36 L303.42,142.14 L302.90,141.92 L302.37,141.69 L301.85,141.47 L301.32,141.26 L300.80,141.07 L300.29,140.88 L299.79,140.68 L299.29,140.46 L298.81,140.24 L298.32,140.02 L297.83,139.80 L297.33,139.60 L296.82,139.41 L296.30,139.25 L295.76,139.11 L295.19,139.00 L294.60,138.93 L293.97,138.91 L293.31,138.94 L292.61,139.00 L291.90,139.09 L291.17,139.20 L290.43,139.33 L289.69,139.46 L288.96,139.60 L288.24,139.72 L287.55,139.84 L286.88,139.92 L286.25,139.98 L285.65,140.02 L285.06,140.04 L284.49,140.04 L283.94,140.04 L283.39,140.03 L282.87,140.01 L282.35,139.99 L281.85,139.98 L281.37,139.96 L280.90,139.95 L280.44,139.94 L280.00,139.95 L279.59,139.96 L279.21,139.98 L278.86,140.00 L278.54,140.03 L278.23,140.06 L277.93,140.10 L277.62,140.13 L277.31,140.16 L276.98,140.18 L276.62,140.20 L276.23,140.21 L275.80,140.22 L275.33,140.22 L274.83,140.22 L274.30,140.21 L273.75,140.20 L273.19,140.19 L272.61,140.18 L272.02,140.16 L271.43,140.13 L270.83,140.10 L270.25,140.07 L269.67,140.03 L269.10,139.98 L268.54,139.93 L267.98,139.87 L267.43,139.81 L266.87,139.75 L266.31,139.68 L265.76,139.60 L265.20,139.52 L264.64,139.44 L264.08,139.35 L263.52,139.25 L262.96,139.15 L262.40,139.04 L261.83,138.92 L261.26,138.80 L260.68,138.67 L260.10,138.54 L259.51,138.40 L258.93,138.25 L258.35,138.10 L257.78,137.94 L257.22,137.79 L256.67,137.63 L256.12,137.46 L255.60,137.30 L255.09,137.12 L254.60,136.92 L254.12,136.71 L253.64,136.49 L253.18,136.27 L252.72,136.04 L252.27,135.83 L251.82,135.63 L251.37,135.44 L250.92,135.29 L250.46,135.16 L250.00,135.06 L249.53,135.01 L249.07,134.98 L248.60,134.98 L248.13,135.00 L247.67,135.04 L247.20,135.09 L246.73,135.16 L246.27,135.23 L245.80,135.31 L245.33,135.39 L244.87,135.46 L244.40,135.53 L243.94,135.60 L243.49,135.69 L243.05,135.79 L242.61,135.90 L242.18,136.01 L241.74,136.13 L241.29,136.24 L240.83,136.34 L240.35,136.43 L239.86,136.50 L239.34,136.56 L238.80,136.60 L238.23,136.60 L237.62,136.59 L236.99,136.55 L236.34,136.50 L235.68,136.43 L235.01,136.36 L234.33,136.29 L233.64,136.22 L232.97,136.15 L232.30,136.10 L231.64,136.06 L231.00,136.05 L230.35,136.05 L229.67,136.07 L228.97,136.10 L228.26,136.14 L227.55,136.19 L226.86,136.24 L226.20,136.30 L225.57,136.35 L225.00,136.40 L224.49,136.44 L224.05,136.48 L223.70,136.50Z" fill="#fbc884" fill-opacity="0.40"/>
<path d="M223.70,129.90 L223.94,130.01 L224.22,130.16 L224.56,130.34 L224.93,130.53 L225.34,130.75 L225.78,130.97 L226.24,131.20 L226.71,131.42 L227.21,131.64 L227.70,131.84 L228.20,132.03 L228.70,132.18 L229.20,132.32 L229.70,132.45 L230.22,132.57 L230.76,132.69 L231.30,132.80 L231.86,132.90 L232.43,132.99 L233.01,133.07 L233.61,133.14 L234.22,133.19 L234.85,133.23 L235.50,133.26 L236.17,133.26 L236.86,133.23 L237.58,133.18 L238.31,133.11 L239.05,133.02 L239.81,132.94 L240.58,132.85 L241.35,132.77 L242.12,132.70 L242.89,132.65 L243.65,132.62 L244.40,132.63 L245.15,132.67 L245.92,132.75 L246.70,132.85 L247.48,132.97 L248.26,133.11 L249.04,133.25 L249.81,133.39 L250.57,133.52 L251.31,133.63 L252.03,133.72 L252.73,133.78 L253.40,133.80 L254.03,133.78 L254.62,133.74 L255.18,133.67 L255.72,133.59 L256.24,133.48 L256.75,133.37 L257.26,133.24 L257.78,133.11 L258.32,132.97 L258.88,132.83 L259.47,132.70 L260.10,132.57 L260.78,132.45 L261.49,132.32 L262.24,132.19 L263.01,132.05 L263.80,131.91 L264.60,131.77 L265.40,131.62 L266.19,131.48 L266.96,131.32 L267.71,131.17 L268.42,131.01 L269.10,130.84 L269.75,130.67 L270.38,130.48 L271.00,130.28 L271.60,130.08 L272.18,129.87 L272.75,129.66 L273.30,129.45 L273.84,129.26 L274.35,129.07 L274.85,128.90 L275.34,128.75 L275.80,128.62 L276.22,128.51 L276.60,128.42 L276.93,128.34 L277.23,128.27 L277.52,128.22 L277.80,128.17 L278.09,128.14 L278.39,128.11 L278.72,128.09 L279.09,128.07 L279.51,128.06 L280.00,128.06 L280.55,128.06 L281.14,128.08 L281.78,128.12 L282.46,128.13 L283.16,128.13 L283.89,128.14 L284.63,128.14 L285.37,128.14 L286.12,128.13 L286.86,128.10 L287.59,128.06 L288.30,128.00 L289.01,127.93 L289.74,127.85 L290.49,127.76 L291.25,127.66 L292.01,127.55 L292.76,127.43 L293.50,127.30 L294.21,127.16 L294.90,127.01 L295.55,126.84 L296.15,126.66 L296.70,126.46 L297.19,126.25 L297.62,126.05 L298.00,125.84 L298.34,125.62 L298.66,125.39 L298.95,125.14 L299.23,124.87 L299.51,124.57 L299.80,124.24 L300.10,123.88 L300.43,123.49 L300.80,123.04 L301.19,122.56 L301.60,122.02 L302.02,121.44 L302.45,120.83 L302.89,120.19 L303.33,119.53 L303.77,118.84 L304.22,118.15 L304.67,117.44 L305.12,116.74 L305.56,116.05 L306.00,115.39 L306.44,114.72 L306.88,114.03 L307.33,113.33 L307.79,112.62 L308.24,111.90 L308.69,111.18 L309.14,110.46 L309.58,109.74 L310.01,109.03 L310.44,108.33 L310.85,107.64 L311.25,106.97 L311.63,106.33 L311.99,105.71 L312.34,105.10 L312.68,104.51 L313.00,103.93 L313.33,103.35 L313.65,102.76 L313.98,102.17 L314.31,101.56 L314.66,100.93 L315.02,100.27 L315.40,99.59 L315.80,98.86 L316.21,98.10 L316.63,97.31 L317.06,96.49 L317.49,95.67 L317.93,94.83 L318.38,94.00 L318.83,93.17 L319.28,92.35 L319.72,91.56 L320.16,90.80 L320.60,90.07 L321.04,89.38 L321.48,88.71 L321.92,88.06 L322.37,87.43 L322.82,86.81 L323.26,86.21 L323.70,85.61 L324.14,85.02 L324.57,84.43 L324.99,83.85 L325.40,83.26 L325.80,82.66 L326.18,82.07 L326.53,81.49 L326.87,80.92 L327.20,80.36 L327.52,79.80 L327.83,79.24 L328.16,78.67 L328.49,78.10 L328.83,77.53 L329.19,76.95 L329.58,76.36 L330.00,75.75 L330.45,75.13 L330.92,74.50 L331.42,73.86 L331.93,73.21 L332.46,72.55 L333.00,71.89 L333.54,71.22 L334.09,70.55 L334.64,69.87 L335.18,69.18 L335.72,68.49 L336.25,67.80 L336.77,67.10 L337.30,66.38 L337.84,65.64 L338.37,64.90 L338.91,64.16 L339.44,63.41 L339.97,62.66 L340.49,61.92 L341.01,61.19 L341.52,60.48 L342.02,59.78 L342.50,59.10 L342.97,58.43 L343.44,57.75 L343.90,57.08 L344.35,56.41 L344.79,55.75 L345.23,55.10 L345.66,54.47 L346.08,53.87 L346.49,53.30 L346.90,52.76 L347.31,52.26 L347.70,51.80 L348.08,51.39 L348.42,51.03 L348.75,50.72 L349.06,50.43 L349.36,50.18 L349.67,49.95 L349.98,49.74 L350.31,49.53 L350.66,49.33 L351.03,49.13 L351.44,48.92 L351.90,48.70 L352.41,48.47 L352.96,48.24 L353.56,48.02 L354.18,47.81 L354.83,47.60 L355.49,47.39 L356.15,47.18 L356.81,46.98 L357.45,46.78 L358.07,46.59 L358.66,46.39 L359.20,46.20 L359.71,46.00 L360.20,45.79 L360.67,45.56 L361.13,45.34 L361.57,45.12 L362.00,44.91 L362.42,44.71 L362.83,44.53 L363.23,44.37 L363.62,44.24 L364.01,44.15 L364.40,44.10 L364.78,44.10 L365.15,44.16 L365.50,44.26 L365.84,44.40 L366.18,44.56 L366.51,44.73 L366.84,44.91 L367.17,45.08 L367.49,45.24 L367.82,45.37 L368.16,45.46 L368.50,45.50 L368.85,45.50 L369.21,45.47 L369.57,45.42 L369.93,45.34 L370.30,45.25 L370.66,45.15 L371.02,45.04 L371.38,44.92 L371.73,44.81 L372.06,44.69 L372.39,44.59 L372.70,44.50 L373.00,44.42 L373.29,44.33 L373.57,44.24 L373.85,44.15 L374.12,44.06 L374.38,43.97 L374.63,43.88 L374.87,43.80 L375.11,43.71 L375.35,43.64 L375.58,43.57 L375.80,43.50 L376.02,43.44 L376.24,43.38 L376.46,43.33 L376.68,43.28 L376.89,43.23 L377.09,43.19 L377.28,43.15 L377.46,43.11 L377.63,43.08 L377.77,43.05 L377.90,43.02 L378.00,43.00 L378.00,54.00 L377.90,54.02 L377.77,54.05 L377.63,54.08 L377.46,54.11 L377.28,54.15 L377.09,54.19 L376.89,54.23 L376.68,54.28 L376.46,54.33 L376.24,54.38 L376.02,54.44 L375.80,54.50 L375.58,54.57 L375.35,54.64 L375.11,54.71 L374.87,54.80 L374.63,54.88 L374.38,54.97 L374.12,55.06 L373.85,55.15 L373.57,55.24 L373.29,55.33 L373.00,55.42 L372.70,55.50 L372.39,55.59 L372.06,55.69 L371.73,55.81 L371.38,55.92 L371.02,56.04 L370.66,56.15 L370.30,56.25 L369.93,56.34 L369.57,56.42 L369.21,56.47 L368.85,56.50 L368.50,56.50 L368.16,56.46 L367.82,56.37 L367.49,56.24 L367.17,56.08 L366.84,55.91 L366.51,55.73 L366.18,55.56 L365.84,55.40 L365.50,55.26 L365.15,55.16 L364.78,55.10 L364.40,55.10 L364.01,55.15 L363.62,55.24 L363.23,55.37 L362.83,55.53 L362.42,55.71 L362.00,55.91 L361.57,56.12 L361.13,56.34 L360.67,56.56 L360.20,56.79 L359.71,57.00 L359.20,57.20 L358.66,57.39 L358.07,57.59 L357.45,57.78 L356.81,57.98 L356.15,58.18 L355.49,58.39 L354.83,58.60 L354.18,58.81 L353.56,59.02 L352.96,59.24 L352.41,59.47 L351.90,59.70 L351.44,59.92 L351.03,60.13 L350.66,60.33 L350.31,60.53 L349.98,60.74 L349.67,60.95 L349.36,61.18 L349.06,61.43 L348.75,61.72 L348.42,62.03 L348.08,62.39 L347.70,62.80 L347.31,63.26 L346.90,63.76 L346.49,64.30 L346.08,64.87 L345.66,65.47 L345.23,66.10 L344.79,66.75 L344.35,67.41 L343.90,68.08 L343.44,68.75 L342.97,69.43 L342.50,70.10 L342.02,70.78 L341.52,71.48 L341.01,72.19 L340.49,72.92 L339.97,73.66 L339.44,74.41 L338.91,75.16 L338.37,75.90 L337.84,76.64 L337.30,77.38 L336.77,78.10 L336.25,78.80 L335.72,79.49 L335.18,80.18 L334.64,80.87 L334.09,81.55 L333.54,82.22 L333.00,82.89 L332.46,83.55 L331.93,84.21 L331.42,84.86 L330.92,85.50 L330.45,86.13 L330.00,86.75 L329.58,87.36 L329.19,87.95 L328.83,88.53 L328.49,89.09 L328.16,89.65 L327.83,90.20 L327.52,90.74 L327.20,91.29 L326.87,91.84 L326.53,92.40 L326.18,92.96 L325.80,93.54 L325.40,94.11 L324.99,94.69 L324.57,95.25 L324.14,95.82 L323.70,96.40 L323.26,96.97 L322.82,97.56 L322.37,98.16 L321.92,98.77 L321.48,99.40 L321.04,100.05 L320.60,100.73 L320.16,101.43 L319.72,102.18 L319.28,102.95 L318.83,103.74 L318.38,104.55 L317.93,105.37 L317.49,106.19 L317.06,106.99 L316.63,107.79 L316.21,108.56 L315.80,109.31 L315.40,110.01 L315.02,110.69 L314.66,111.33 L314.31,111.94 L313.98,112.54 L313.65,113.12 L313.33,113.69 L313.00,114.26 L312.68,114.83 L312.34,115.40 L311.99,115.99 L311.63,116.60 L311.25,117.23 L310.85,117.88 L310.44,118.55 L310.01,119.23 L309.58,119.92 L309.14,120.62 L308.69,121.32 L308.24,122.02 L307.79,122.72 L307.33,123.42 L306.88,124.10 L306.44,124.76 L306.00,125.41 L305.56,126.06 L305.12,126.71 L304.67,127.35 L304.22,127.98 L303.77,128.61 L303.33,129.22 L302.89,129.82 L302.45,130.40 L302.02,130.94 L301.60,131.45 L301.19,131.93 L300.80,132.36 L300.43,132.74 L300.10,133.09 L299.80,133.40 L299.51,133.68 L299.23,133.94 L298.95,134.16 L298.66,134.37 L298.34,134.55 L298.00,134.72 L297.62,134.87 L297.19,135.01 L296.70,135.14 L296.15,135.26 L295.55,135.35 L294.90,135.41 L294.21,135.46 L293.50,135.50 L292.76,135.51 L292.01,135.51 L291.25,135.51 L290.49,135.49 L289.74,135.46 L289.01,135.43 L288.30,135.40 L287.59,135.35 L286.86,135.28 L286.12,135.19 L285.37,135.09 L284.63,134.97 L283.89,134.86 L283.16,134.74 L282.46,134.63 L281.78,134.52 L281.14,134.48 L280.55,134.45 L280.00,134.44 L279.51,134.45 L279.09,134.46 L278.72,134.47 L278.39,134.49 L278.09,134.51 L277.80,134.55 L277.52,134.59 L277.23,134.64 L276.93,134.71 L276.60,134.78 L276.22,134.87 L275.80,134.98 L275.34,135.11 L274.85,135.25 L274.35,135.42 L273.84,135.60 L273.30,135.80 L272.75,136.00 L272.18,136.20 L271.60,136.41 L271.00,136.61 L270.38,136.80 L269.75,136.99 L269.10,137.16 L268.42,137.32 L267.71,137.47 L266.96,137.62 L266.19,137.77 L265.40,137.91 L264.60,138.05 L263.80,138.19 L263.01,138.32 L262.24,138.46 L261.49,138.58 L260.78,138.71 L260.10,138.83 L259.47,138.95 L258.88,139.08 L258.32,139.21 L257.78,139.34 L257.26,139.47 L256.75,139.60 L256.24,139.71 L255.72,139.81 L255.18,139.89 L254.62,139.95 L254.03,139.99 L253.40,140.00 L252.73,139.98 L252.03,139.92 L251.31,139.82 L250.57,139.70 L249.81,139.57 L249.04,139.43 L248.26,139.28 L247.48,139.14 L246.70,139.01 L245.92,138.90 L245.15,138.82 L244.40,138.77 L243.65,138.76 L242.89,138.78 L242.12,138.83 L241.35,138.89 L240.58,138.97 L239.81,139.05 L239.05,139.13 L238.31,139.21 L237.58,139.28 L236.86,139.32 L236.17,139.35 L235.50,139.34 L234.85,139.31 L234.22,139.27 L233.61,139.21 L233.01,139.14 L232.43,139.05 L231.86,138.96 L231.30,138.86 L230.76,138.74 L230.22,138.62 L229.70,138.50 L229.20,138.36 L228.70,138.22 L228.20,138.06 L227.70,137.88 L227.21,137.67 L226.71,137.45 L226.24,137.22 L225.78,136.99 L225.34,136.76 L224.93,136.55 L224.56,136.35 L224.22,136.17 L223.94,136.02 L223.70,135.90Z" fill="#a9b9e6" fill-opacity="0.35"/>
<path d="M223.70,133.00 L224.05,133.06 L224.48,133.14 L224.97,133.24 L225.53,133.35 L226.14,133.47 L226.79,133.59 L227.48,133.71 L228.18,133.82 L228.89,133.92 L229.61,134.00 L230.31,134.06 L231.00,134.10 L231.68,134.11 L232.38,134.10 L233.08,134.07 L233.80,134.03 L234.53,133.98 L235.28,133.92 L236.03,133.85 L236.79,133.78 L237.55,133.70 L238.33,133.63 L239.11,133.56 L239.90,133.50 L240.71,133.44 L241.54,133.37 L242.39,133.29 L243.26,133.21 L244.13,133.13 L245.01,133.04 L245.89,132.97 L246.75,132.89 L247.60,132.83 L248.43,132.77 L249.23,132.73 L250.00,132.70 L250.73,132.69 L251.43,132.70 L252.11,132.72 L252.76,132.75 L253.40,132.79 L254.02,132.84 L254.65,132.88 L255.27,132.93 L255.91,132.96 L256.55,132.99 L257.21,133.00 L257.90,133.00 L258.61,132.99 L259.34,132.96 L260.08,132.94 L260.83,132.91 L261.59,132.87 L262.35,132.82 L263.11,132.77 L263.87,132.71 L264.62,132.65 L265.36,132.57 L266.09,132.49 L266.80,132.40 L267.50,132.30 L268.20,132.18 L268.91,132.05 L269.60,131.90 L270.29,131.75 L270.98,131.60 L271.64,131.44 L272.30,131.29 L272.93,131.13 L273.55,130.98 L274.14,130.83 L274.70,130.70 L275.22,130.57 L275.70,130.44 L276.14,130.30 L276.55,130.17 L276.94,130.04 L277.32,129.91 L277.71,129.79 L278.11,129.67 L278.52,129.56 L278.97,129.46 L279.46,129.38 L280.00,129.30 L280.60,129.24 L281.25,129.21 L281.94,129.18 L282.66,129.15 L283.40,129.12 L284.16,129.10 L284.91,129.08 L285.65,129.05 L286.37,129.01 L287.06,128.97 L287.71,128.91 L288.30,128.83 L288.85,128.74 L289.36,128.65 L289.84,128.56 L290.30,128.47 L290.74,128.37 L291.16,128.25 L291.56,128.13 L291.96,127.99 L292.34,127.83 L292.73,127.64 L293.11,127.44 L293.50,127.20 L293.89,126.94 L294.26,126.67 L294.62,126.38 L294.97,126.07 L295.32,125.74 L295.66,125.39 L296.00,125.03 L296.34,124.64 L296.67,124.23 L297.01,123.79 L297.35,123.34 L297.70,122.86 L298.05,122.36 L298.41,121.83 L298.78,121.29 L299.14,120.72 L299.51,120.13 L299.87,119.52 L300.23,118.89 L300.58,118.24 L300.93,117.56 L301.26,116.87 L301.59,116.15 L301.90,115.42 L302.20,114.65 L302.48,113.85 L302.75,113.03 L303.01,112.18 L303.27,111.31 L303.52,110.42 L303.76,109.51 L304.01,108.60 L304.25,107.68 L304.50,106.75 L304.75,105.83 L305.00,104.91 L305.26,103.99 L305.52,103.05 L305.77,102.11 L306.03,101.16 L306.29,100.20 L306.55,99.24 L306.80,98.27 L307.06,97.30 L307.32,96.33 L307.58,95.36 L307.84,94.39 L308.10,93.43 L308.36,92.48 L308.61,91.54 L308.86,90.60 L309.11,89.68 L309.36,88.75 L309.61,87.81 L309.86,86.87 L310.12,85.91 L310.39,84.94 L310.67,83.94 L310.95,82.91 L311.25,81.85 L311.56,80.77 L311.87,79.67 L312.19,78.57 L312.52,77.45 L312.86,76.31 L313.20,75.15 L313.55,73.96 L313.90,72.75 L314.27,71.50 L314.64,70.22 L315.01,68.90 L315.40,67.54 L315.80,66.11 L316.22,64.58 L316.65,62.98 L317.09,61.33 L317.54,59.65 L318.00,57.96 L318.45,56.27 L318.90,54.62 L319.35,53.02 L319.78,51.48 L320.20,50.04 L320.60,48.71 L320.98,47.46 L321.35,46.26 L321.70,45.10 L322.04,43.99 L322.37,42.94 L322.70,41.93 L323.03,40.98 L323.36,40.08 L323.70,39.25 L324.05,38.47 L324.42,37.75 L324.80,37.10 L325.19,36.52 L325.60,36.02 L326.01,35.58 L326.42,35.21 L326.84,34.90 L327.27,34.64 L327.71,34.43 L328.15,34.25 L328.60,34.12 L329.06,34.01 L329.53,33.93 L330.00,33.87 L330.49,33.84 L330.99,33.87 L331.51,33.94 L332.04,34.06 L332.58,34.21 L333.12,34.39 L333.66,34.59 L334.20,34.82 L334.73,35.06 L335.25,35.31 L335.76,35.56 L336.25,35.81 L336.72,36.06 L337.18,36.32 L337.63,36.60 L338.08,36.88 L338.51,37.18 L338.94,37.49 L339.37,37.83 L339.79,38.18 L340.21,38.56 L340.64,38.95 L341.07,39.38 L341.50,39.83 L341.94,40.32 L342.37,40.86 L342.80,41.43 L343.24,42.04 L343.67,42.67 L344.10,43.32 L344.54,43.96 L344.97,44.60 L345.40,45.23 L345.83,45.84 L346.27,46.41 L346.70,46.94 L347.13,47.45 L347.56,47.94 L347.98,48.41 L348.40,48.88 L348.82,49.32 L349.24,49.76 L349.66,50.18 L350.09,50.59 L350.53,50.98 L350.98,51.35 L351.43,51.71 L351.90,52.06 L352.38,52.38 L352.89,52.68 L353.40,52.95 L353.93,53.20 L354.46,53.44 L355.00,53.66 L355.54,53.89 L356.07,54.11 L356.60,54.34 L357.11,54.58 L357.62,54.84 L358.10,55.13 L358.57,55.44 L359.04,55.78 L359.49,56.15 L359.94,56.52 L360.39,56.91 L360.83,57.29 L361.25,57.67 L361.68,58.03 L362.09,58.37 L362.50,58.67 L362.90,58.94 L363.30,59.16 L363.69,59.34 L364.06,59.49 L364.42,59.61 L364.77,59.70 L365.12,59.77 L365.46,59.82 L365.80,59.85 L366.14,59.86 L366.47,59.86 L366.81,59.85 L367.15,59.83 L367.50,59.81 L367.85,59.76 L368.20,59.69 L368.55,59.60 L368.90,59.48 L369.26,59.36 L369.61,59.22 L369.96,59.08 L370.31,58.94 L370.66,58.80 L371.01,58.67 L371.35,58.55 L371.70,58.45 L372.05,58.36 L372.41,58.28 L372.78,58.20 L373.14,58.12 L373.51,58.05 L373.88,57.98 L374.23,57.91 L374.58,57.85 L374.91,57.79 L375.23,57.72 L375.53,57.66 L375.80,57.60 L376.06,57.54 L376.30,57.48 L376.54,57.42 L376.76,57.36 L376.96,57.31 L377.16,57.25 L377.34,57.20 L377.50,57.15 L377.65,57.10 L377.78,57.06 L377.90,57.03 L378.00,57.00 L378.00,66.00 L377.90,66.03 L377.78,66.06 L377.65,66.10 L377.50,66.15 L377.34,66.20 L377.16,66.25 L376.96,66.31 L376.76,66.36 L376.54,66.42 L376.30,66.48 L376.06,66.54 L375.80,66.60 L375.53,66.65 L375.23,66.71 L374.91,66.76 L374.58,66.82 L374.23,66.87 L373.88,66.93 L373.51,66.99 L373.14,67.05 L372.78,67.12 L372.41,67.19 L372.05,67.27 L371.70,67.35 L371.35,67.44 L371.01,67.55 L370.66,67.67 L370.31,67.80 L369.96,67.93 L369.61,68.06 L369.26,68.19 L368.90,68.31 L368.55,68.41 L368.20,68.50 L367.85,68.56 L367.50,68.59 L367.15,68.61 L366.81,68.62 L366.47,68.63 L366.14,68.62 L365.80,68.59 L365.46,68.56 L365.12,68.50 L364.77,68.42 L364.42,68.32 L364.06,68.19 L363.69,68.03 L363.30,67.84 L362.90,67.61 L362.50,67.33 L362.09,67.02 L361.68,66.67 L361.25,66.30 L360.83,65.91 L360.39,65.52 L359.94,65.12 L359.49,64.73 L359.04,64.35 L358.57,64.00 L358.10,63.67 L357.62,63.38 L357.11,63.11 L356.60,62.85 L356.07,62.61 L355.54,62.37 L355.00,62.13 L354.46,61.89 L353.93,61.64 L353.40,61.38 L352.89,61.09 L352.38,60.78 L351.90,60.44 L351.43,60.07 L350.98,59.69 L350.53,59.29 L350.09,58.87 L349.66,58.45 L349.24,58.00 L348.82,57.55 L348.40,57.08 L347.98,56.59 L347.56,56.09 L347.13,55.58 L346.70,55.06 L346.27,54.50 L345.83,53.91 L345.40,53.28 L344.97,52.63 L344.54,51.97 L344.10,51.30 L343.67,50.63 L343.24,49.98 L342.80,49.35 L342.37,48.75 L341.94,48.19 L341.50,47.67 L341.07,47.20 L340.64,46.76 L340.21,46.34 L339.79,45.94 L339.37,45.57 L338.94,45.21 L338.51,44.87 L338.08,44.55 L337.63,44.25 L337.18,43.95 L336.72,43.67 L336.25,43.39 L335.76,43.11 L335.25,42.84 L334.73,42.56 L334.20,42.29 L333.66,42.04 L333.12,41.81 L332.58,41.60 L332.04,41.42 L331.51,41.28 L330.99,41.18 L330.49,41.13 L330.00,41.13 L329.53,41.17 L329.06,41.23 L328.60,41.31 L328.15,41.42 L327.71,41.57 L327.27,41.76 L326.84,42.00 L326.42,42.29 L326.01,42.64 L325.60,43.06 L325.19,43.54 L324.80,44.10 L324.42,44.73 L324.05,45.43 L323.70,46.19 L323.36,47.01 L323.03,47.88 L322.70,48.82 L322.37,49.81 L322.04,50.85 L321.70,51.94 L321.35,53.08 L320.98,54.26 L320.60,55.49 L320.20,56.80 L319.78,58.22 L319.35,59.73 L318.90,61.31 L318.45,62.94 L318.00,64.61 L317.54,66.28 L317.09,67.93 L316.65,69.56 L316.22,71.14 L315.80,72.64 L315.40,74.06 L315.01,75.40 L314.64,76.70 L314.27,77.96 L313.90,79.19 L313.55,80.38 L313.20,81.55 L312.86,82.70 L312.52,83.82 L312.19,84.92 L311.87,86.01 L311.56,87.09 L311.25,88.15 L310.95,89.20 L310.67,90.21 L310.39,91.20 L310.12,92.16 L309.86,93.10 L309.61,94.04 L309.36,94.96 L309.11,95.87 L308.86,96.79 L308.61,97.70 L308.36,98.63 L308.10,99.57 L307.84,100.52 L307.58,101.48 L307.32,102.43 L307.06,103.39 L306.80,104.35 L306.55,105.30 L306.29,106.25 L306.03,107.20 L305.77,108.13 L305.52,109.06 L305.26,109.98 L305.00,110.89 L304.75,111.79 L304.50,112.70 L304.25,113.61 L304.01,114.51 L303.76,115.41 L303.52,116.30 L303.27,117.17 L303.01,118.02 L302.75,118.85 L302.48,119.66 L302.20,120.44 L301.90,121.18 L301.59,121.90 L301.26,122.59 L300.93,123.27 L300.58,123.92 L300.23,124.55 L299.87,125.15 L299.51,125.74 L299.14,126.30 L298.78,126.84 L298.41,127.36 L298.05,127.86 L297.70,128.34 L297.35,128.80 L297.01,129.23 L296.67,129.64 L296.34,130.03 L296.00,130.39 L295.66,130.74 L295.32,131.06 L294.97,131.37 L294.62,131.65 L294.26,131.92 L293.89,132.17 L293.50,132.40 L293.11,132.61 L292.73,132.79 L292.34,132.94 L291.96,133.08 L291.56,133.19 L291.16,133.29 L290.74,133.37 L290.30,133.45 L289.84,133.51 L289.36,133.57 L288.85,133.62 L288.30,133.67 L287.71,133.71 L287.06,133.73 L286.37,133.73 L285.65,133.71 L284.91,133.69 L284.16,133.66 L283.40,133.63 L282.66,133.61 L281.94,133.59 L281.25,133.61 L280.60,133.64 L280.00,133.70 L279.46,133.78 L278.97,133.86 L278.52,133.96 L278.11,134.07 L277.71,134.19 L277.32,134.31 L276.94,134.44 L276.55,134.57 L276.14,134.70 L275.70,134.84 L275.22,134.97 L274.70,135.10 L274.14,135.23 L273.55,135.38 L272.93,135.53 L272.30,135.69 L271.64,135.84 L270.98,136.00 L270.29,136.15 L269.60,136.30 L268.91,136.45 L268.20,136.58 L267.50,136.70 L266.80,136.80 L266.09,136.89 L265.36,136.97 L264.62,137.05 L263.87,137.11 L263.11,137.17 L262.35,137.22 L261.59,137.27 L260.83,137.31 L260.08,137.34 L259.34,137.36 L258.61,137.39 L257.90,137.40 L257.21,137.40 L256.55,137.39 L255.91,137.36 L255.27,137.33 L254.65,137.28 L254.02,137.24 L253.40,137.19 L252.76,137.15 L252.11,137.12 L251.43,137.10 L250.73,137.09 L250.00,137.10 L249.23,137.13 L248.43,137.17 L247.60,137.23 L246.75,137.29 L245.89,137.37 L245.01,137.44 L244.13,137.53 L243.26,137.61 L242.39,137.69 L241.54,137.77 L240.71,137.84 L239.90,137.90 L239.11,137.96 L238.33,138.03 L237.55,138.10 L236.79,138.18 L236.03,138.25 L235.28,138.32 L234.53,138.38 L233.80,138.43 L233.08,138.47 L232.38,138.50 L231.68,138.51 L231.00,138.50 L230.31,138.46 L229.61,138.40 L228.89,138.32 L228.18,138.22 L227.48,138.11 L226.79,137.99 L226.14,137.87 L225.53,137.75 L224.97,137.64 L224.48,137.54 L224.05,137.46 L223.70,137.40Z" fill="#7fbcbc" fill-opacity="0.38"/>
<path d="M223.70,135.20 C224.92,135.38 228.30,136.22 231.00,136.30 C233.70,136.38 236.73,135.93 239.90,135.70 C243.07,135.47 247.00,134.98 250.00,134.90 C253.00,134.82 255.10,135.25 257.90,135.20 C260.70,135.15 264.00,134.98 266.80,134.60 C269.60,134.22 272.50,133.42 274.70,132.90 C276.90,132.38 277.73,131.78 280.00,131.50 C282.27,131.22 286.05,131.53 288.30,131.25 C290.55,130.97 291.93,130.74 293.50,129.80 C295.07,128.86 296.30,127.52 297.70,125.60 C299.10,123.68 300.68,121.25 301.90,118.30 C303.12,115.35 303.97,111.53 305.00,107.90 C306.03,104.27 307.06,100.32 308.10,96.50 C309.14,92.68 310.03,89.28 311.25,85.00 C312.47,80.72 313.84,76.28 315.40,70.80 C316.96,65.32 319.03,57.13 320.60,52.10 C322.17,47.07 323.23,43.03 324.80,40.60 C326.37,38.17 328.09,37.67 330.00,37.50 C331.91,37.33 334.33,38.56 336.25,39.60 C338.17,40.64 339.76,41.85 341.50,43.75 C343.24,45.65 344.97,48.92 346.70,51.00 C348.43,53.08 350.00,54.85 351.90,56.25 C353.80,57.65 356.20,58.19 358.10,59.40 C360.00,60.61 361.73,62.70 363.30,63.50 C364.87,64.30 366.10,64.30 367.50,64.20 C368.90,64.10 370.32,63.25 371.70,62.90 C373.08,62.55 374.75,62.33 375.80,62.10 C376.85,61.87 377.63,61.60 378.00,61.50" fill="none" stroke="#1d7e84" stroke-width="1.15" stroke-linejoin="round"/>
<path d="M223.70,134.00 C224.92,133.92 228.48,133.50 231.00,133.50 C233.52,133.50 236.57,134.10 238.80,134.00 C241.03,133.90 242.53,133.17 244.40,132.90 C246.27,132.63 248.13,132.12 250.00,132.40 C251.87,132.68 253.53,133.95 255.60,134.60 C257.67,135.25 260.15,135.87 262.40,136.30 C264.65,136.73 266.87,137.02 269.10,137.20 C271.33,137.38 273.98,137.42 275.80,137.40 C277.62,137.38 278.26,137.15 280.00,137.10 C281.74,137.05 283.82,137.28 286.25,137.10 C288.68,136.92 292.18,135.83 294.60,136.00 C297.03,136.17 298.72,137.40 300.80,138.10 C302.88,138.80 305.02,140.09 307.10,140.20 C309.18,140.31 311.22,139.62 313.30,138.75 C315.38,137.88 317.68,136.67 319.60,135.00 C321.52,133.33 323.07,131.18 324.80,128.75 C326.53,126.32 328.43,122.31 330.00,120.40 C331.57,118.49 332.63,117.47 334.20,117.30 C335.77,117.13 337.67,118.70 339.40,119.40 C341.13,120.10 342.70,120.47 344.60,121.50 C346.50,122.53 348.72,124.57 350.80,125.60 C352.88,126.63 355.02,127.70 357.10,127.70 C359.18,127.70 361.22,126.47 363.30,125.60 C365.38,124.73 367.52,122.92 369.60,122.50 C371.68,122.08 374.40,122.93 375.80,123.10 C377.20,123.27 377.63,123.43 378.00,123.50" fill="none" stroke="#f7a935" stroke-width="1.15" stroke-linejoin="round"/>
<path d="M223.70,132.90 C224.53,133.28 226.73,134.63 228.70,135.20 C230.67,135.77 232.88,136.22 235.50,136.30 C238.12,136.38 241.42,135.60 244.40,135.70 C247.38,135.80 250.78,136.90 253.40,136.90 C256.02,136.90 257.48,136.18 260.10,135.70 C262.72,135.22 266.48,134.65 269.10,134.00 C271.72,133.35 273.98,132.26 275.80,131.80 C277.62,131.34 277.92,131.27 280.00,131.25 C282.08,131.23 285.52,131.77 288.30,131.70 C291.08,131.62 294.62,131.47 296.70,130.80 C298.78,130.13 299.25,129.43 300.80,127.70 C302.35,125.97 304.26,123.00 306.00,120.40 C307.74,117.80 309.68,114.70 311.25,112.10 C312.82,109.50 313.84,107.58 315.40,104.80 C316.96,102.02 318.87,98.18 320.60,95.40 C322.33,92.62 324.23,90.46 325.80,88.10 C327.37,85.74 328.26,83.72 330.00,81.25 C331.74,78.78 334.17,76.08 336.25,73.30 C338.33,70.52 340.59,67.27 342.50,64.60 C344.41,61.93 346.13,59.03 347.70,57.30 C349.27,55.57 349.98,55.13 351.90,54.20 C353.82,53.27 357.12,52.47 359.20,51.70 C361.28,50.93 362.85,49.72 364.40,49.60 C365.95,49.48 367.12,50.93 368.50,51.00 C369.88,51.07 371.48,50.33 372.70,50.00 C373.92,49.67 374.92,49.25 375.80,49.00 C376.68,48.75 377.63,48.58 378.00,48.50" fill="none" stroke="#5f83c5" stroke-width="1.70" stroke-linejoin="round"/>
<path d="M223.70,136.90 C224.92,136.98 228.48,137.50 231.00,137.40 C233.52,137.30 236.18,136.67 238.80,136.30 C241.42,135.93 244.27,135.38 246.70,135.20 C249.13,135.02 251.35,135.40 253.40,135.20 C255.45,135.00 256.77,134.42 259.00,134.00 C261.23,133.58 264.37,132.78 266.80,132.70 C269.23,132.62 271.53,133.00 273.60,133.50 C275.67,134.00 277.09,134.82 279.20,135.70 C281.31,136.57 284.03,138.10 286.25,138.75 C288.47,139.40 290.42,139.88 292.50,139.60 C294.58,139.32 296.67,138.73 298.75,137.10 C300.83,135.47 302.92,131.88 305.00,129.80 C307.08,127.72 309.17,125.88 311.25,124.60 C313.33,123.32 315.42,122.45 317.50,122.10 C319.58,121.75 321.50,122.08 323.75,122.50 C326.00,122.92 328.74,124.60 331.00,124.60 C333.26,124.60 335.03,123.37 337.30,122.50 C339.57,121.63 342.00,120.27 344.60,119.40 C347.20,118.53 350.12,117.90 352.90,117.30 C355.67,116.70 358.82,116.32 361.25,115.80 C363.68,115.28 365.59,115.17 367.50,114.20 C369.41,113.23 371.32,111.40 372.70,110.00 C374.08,108.60 374.92,107.13 375.80,105.80 C376.68,104.47 377.63,102.63 378.00,102.00" fill="none" stroke="#ee7078" stroke-width="1.70" stroke-linejoin="round"/>
</g>
<line x1="281.80" y1="25.70" x2="281.80" y2="146.40" stroke="#555" stroke-width="0.9" stroke-dasharray="3,2.6"/>
<rect x="223.10" y="25.70" width="152.40" height="120.70" fill="none" stroke="#cfcfcf" stroke-width="1"/>
<path d="M223.10,25.70V146.40H375.50" fill="none" stroke="#b0b0b0" stroke-width="1"/>
<path d="M234.56,146.40v-1.6M234.56,25.70v1.6M258.18,146.40v-1.6M258.18,25.70v1.6M281.80,146.40v-1.6M281.80,25.70v1.6M305.42,146.40v-1.6M305.42,25.70v1.6M329.04,146.40v-1.6M329.04,25.70v1.6M352.66,146.40v-1.6M352.66,25.70v1.6M223.10,145.42h1.6M375.50,145.42h-1.6M223.10,133.80h1.6M375.50,133.80h-1.6M223.10,122.18h1.6M375.50,122.18h-1.6M223.10,110.56h1.6M375.50,110.56h-1.6M223.10,98.94h1.6M375.50,98.94h-1.6M223.10,87.32h1.6M375.50,87.32h-1.6M223.10,75.70h1.6M375.50,75.70h-1.6M223.10,64.08h1.6M375.50,64.08h-1.6M223.10,52.46h1.6M375.50,52.46h-1.6M223.10,40.84h1.6M375.50,40.84h-1.6M223.10,29.22h1.6M375.50,29.22h-1.6" stroke="#a8a8a8" stroke-width="0.9" fill="none"/>
<text x="222.40" y="148.17" font-size="7.80" text-anchor="end" textLength="15.71" lengthAdjust="spacingAndGlyphs">-0.05</text>
<text x="218.60" y="136.55" font-size="7.80" text-anchor="end" textLength="3.83" lengthAdjust="spacingAndGlyphs">0</text>
<text x="222.40" y="124.93" font-size="7.80" text-anchor="end" textLength="13.42" lengthAdjust="spacingAndGlyphs">0.05</text>
<text x="222.40" y="113.31" font-size="7.80" text-anchor="end" textLength="9.58" lengthAdjust="spacingAndGlyphs">0.1</text>
<text x="222.40" y="101.69" font-size="7.80" text-anchor="end" textLength="13.42" lengthAdjust="spacingAndGlyphs">0.15</text>
<text x="222.40" y="90.07" font-size="7.80" text-anchor="end" textLength="9.58" lengthAdjust="spacingAndGlyphs">0.2</text>
<text x="222.40" y="78.45" font-size="7.80" text-anchor="end" textLength="13.42" lengthAdjust="spacingAndGlyphs">0.25</text>
<text x="222.40" y="66.83" font-size="7.80" text-anchor="end" textLength="9.58" lengthAdjust="spacingAndGlyphs">0.3</text>
<text x="222.40" y="55.21" font-size="7.80" text-anchor="end" textLength="13.42" lengthAdjust="spacingAndGlyphs">0.35</text>
<text x="222.40" y="43.59" font-size="7.80" text-anchor="end" textLength="9.58" lengthAdjust="spacingAndGlyphs">0.4</text>
<text x="222.40" y="31.97" font-size="7.80" text-anchor="end" textLength="13.42" lengthAdjust="spacingAndGlyphs">0.45</text>
<text x="236.06" y="153.90" font-size="7.30" text-anchor="middle" textLength="14.01" lengthAdjust="spacingAndGlyphs">-200</text>
<text x="259.68" y="153.90" font-size="7.30" text-anchor="middle" textLength="14.01" lengthAdjust="spacingAndGlyphs">-100</text>
<text x="283.30" y="153.90" font-size="7.30" text-anchor="middle" textLength="3.89" lengthAdjust="spacingAndGlyphs">0</text>
<text x="306.92" y="153.90" font-size="7.30" text-anchor="middle" textLength="11.68" lengthAdjust="spacingAndGlyphs">100</text>
<text x="330.54" y="153.90" font-size="7.30" text-anchor="middle" textLength="11.68" lengthAdjust="spacingAndGlyphs">200</text>
<text x="354.16" y="153.90" font-size="7.30" text-anchor="middle" textLength="11.68" lengthAdjust="spacingAndGlyphs">300</text>
<text x="283.40" y="160.20" font-size="7.00" textLength="31.20" lengthAdjust="spacingAndGlyphs">Time (ms)</text>
<text x="229.90" y="20.90" font-size="7.00" font-weight="bold" class="nb">Array 2 + 3 + 4 + 5</text>
</g>
<g>
<clipPath id="clipP3"><rect x="48.50" y="174.30" width="152.80" height="120.60"/></clipPath>
<g clip-path="url(#clipP3)">
<path d="M48.00,270.10 L48.32,270.17 L48.72,270.27 L49.18,270.37 L49.69,270.49 L50.26,270.62 L50.86,270.76 L51.48,270.90 L52.13,271.05 L52.78,271.19 L53.44,271.33 L54.08,271.46 L54.70,271.58 L55.32,271.70 L55.95,271.82 L56.59,271.95 L57.25,272.07 L57.91,272.20 L58.58,272.32 L59.25,272.44 L59.93,272.55 L60.60,272.64 L61.28,272.73 L61.94,272.80 L62.60,272.85 L63.26,272.88 L63.92,272.89 L64.58,272.88 L65.25,272.85 L65.91,272.81 L66.58,272.77 L67.23,272.73 L67.89,272.68 L68.53,272.65 L69.16,272.62 L69.79,272.61 L70.40,272.63 L71.00,272.65 L71.58,272.69 L72.15,272.73 L72.71,272.78 L73.26,272.83 L73.81,272.90 L74.36,272.96 L74.90,273.04 L75.44,273.12 L75.99,273.21 L76.54,273.30 L77.10,273.40 L77.66,273.52 L78.23,273.66 L78.80,273.82 L79.36,274.00 L79.93,274.18 L80.50,274.36 L81.07,274.53 L81.64,274.70 L82.20,274.84 L82.77,274.95 L83.34,275.04 L83.90,275.08 L84.46,275.09 L85.02,275.07 L85.58,275.02 L86.14,274.96 L86.70,274.87 L87.26,274.77 L87.81,274.65 L88.37,274.52 L88.93,274.39 L89.48,274.25 L90.04,274.10 L90.60,273.96 L91.16,273.81 L91.72,273.64 L92.27,273.47 L92.83,273.28 L93.39,273.09 L93.95,272.89 L94.51,272.68 L95.07,272.48 L95.62,272.26 L96.18,272.05 L96.74,271.84 L97.30,271.63 L97.85,271.42 L98.39,271.18 L98.91,270.93 L99.44,270.68 L99.96,270.42 L100.49,270.16 L101.02,269.91 L101.57,269.68 L102.14,269.47 L102.73,269.29 L103.35,269.13 L104.00,269.01 L104.69,268.93 L105.43,268.89 L106.21,268.88 L107.02,268.90 L107.84,268.92 L108.67,268.95 L109.51,268.98 L110.33,269.02 L111.12,269.05 L111.89,269.08 L112.62,269.10 L113.30,269.10 L113.93,269.09 L114.52,269.08 L115.09,269.07 L115.63,269.06 L116.14,269.05 L116.64,269.03 L117.13,269.01 L117.62,268.99 L118.10,268.97 L118.59,268.95 L119.09,268.92 L119.60,268.89 L120.12,268.87 L120.65,268.87 L121.18,268.89 L121.71,268.91 L122.24,268.93 L122.77,268.94 L123.29,268.93 L123.81,268.89 L124.32,268.81 L124.83,268.69 L125.32,268.52 L125.80,268.28 L126.26,267.97 L126.70,267.61 L127.12,267.20 L127.53,266.75 L127.93,266.27 L128.33,265.75 L128.74,265.20 L129.15,264.64 L129.58,264.06 L130.02,263.47 L130.50,262.88 L131.00,262.30 L131.53,261.72 L132.08,261.11 L132.64,260.49 L133.22,259.86 L133.81,259.21 L134.42,258.55 L135.04,257.88 L135.67,257.20 L136.31,256.52 L136.97,255.83 L137.63,255.14 L138.30,254.44 L138.99,253.73 L139.71,252.98 L140.45,252.21 L141.21,251.43 L141.98,250.63 L142.76,249.84 L143.53,249.06 L144.30,248.30 L145.06,247.58 L145.80,246.88 L146.51,246.24 L147.20,245.65 L147.87,245.13 L148.53,244.66 L149.18,244.25 L149.81,243.87 L150.44,243.51 L151.06,243.18 L151.66,242.87 L152.24,242.55 L152.81,242.22 L153.36,241.88 L153.89,241.51 L154.40,241.10 L154.88,240.68 L155.32,240.26 L155.73,239.85 L156.12,239.43 L156.49,239.01 L156.85,238.57 L157.21,238.12 L157.57,237.64 L157.94,237.14 L158.34,236.60 L158.75,236.02 L159.20,235.40 L159.68,234.72 L160.17,233.99 L160.69,233.21 L161.21,232.39 L161.75,231.55 L162.30,230.68 L162.85,229.81 L163.41,228.94 L163.96,228.08 L164.51,227.24 L165.06,226.43 L165.60,225.66 L166.14,224.92 L166.69,224.17 L167.24,223.44 L167.79,222.71 L168.35,221.99 L168.90,221.28 L169.45,220.59 L169.99,219.93 L170.51,219.28 L171.03,218.67 L171.52,218.08 L172.00,217.53 L172.45,217.00 L172.88,216.51 L173.29,216.04 L173.69,215.59 L174.07,215.17 L174.45,214.77 L174.82,214.39 L175.20,214.04 L175.58,213.70 L175.97,213.39 L176.38,213.10 L176.80,212.82 L177.24,212.57 L177.69,212.34 L178.14,212.14 L178.61,211.97 L179.08,211.81 L179.55,211.68 L180.03,211.57 L180.50,211.48 L180.98,211.41 L181.46,211.35 L181.93,211.32 L182.40,211.30 L182.86,211.31 L183.32,211.34 L183.78,211.40 L184.24,211.49 L184.69,211.59 L185.15,211.71 L185.61,211.84 L186.07,211.98 L186.54,212.13 L187.02,212.29 L187.51,212.44 L188.00,212.60 L188.51,212.78 L189.02,213.01 L189.54,213.27 L190.07,213.56 L190.61,213.85 L191.15,214.13 L191.69,214.40 L192.24,214.63 L192.78,214.82 L193.32,214.96 L193.86,215.02 L194.40,215.00 L194.94,214.89 L195.50,214.69 L196.07,214.43 L196.65,214.10 L197.23,213.74 L197.80,213.34 L198.36,212.92 L198.90,212.50 L199.43,212.08 L199.92,211.68 L200.38,211.32 L200.80,211.00 L201.19,210.71 L201.56,210.41 L201.90,210.11 L202.22,209.81 L202.52,209.53 L202.80,209.25 L203.06,208.99 L203.29,208.74 L203.50,208.52 L203.69,208.31 L203.86,208.14 L204.00,208.00 L204.00,218.00 L203.86,218.14 L203.69,218.31 L203.50,218.52 L203.29,218.74 L203.06,218.99 L202.80,219.25 L202.52,219.53 L202.22,219.81 L201.90,220.11 L201.56,220.41 L201.19,220.71 L200.80,221.00 L200.38,221.32 L199.92,221.68 L199.43,222.08 L198.90,222.50 L198.36,222.92 L197.80,223.34 L197.23,223.74 L196.65,224.10 L196.07,224.43 L195.50,224.69 L194.94,224.89 L194.40,225.00 L193.86,225.02 L193.32,224.96 L192.78,224.82 L192.24,224.63 L191.69,224.40 L191.15,224.13 L190.61,223.85 L190.07,223.56 L189.54,223.27 L189.02,223.01 L188.51,222.78 L188.00,222.60 L187.51,222.44 L187.02,222.29 L186.54,222.13 L186.07,221.98 L185.61,221.84 L185.15,221.71 L184.69,221.59 L184.24,221.49 L183.78,221.40 L183.32,221.34 L182.86,221.31 L182.40,221.30 L181.93,221.32 L181.46,221.35 L180.98,221.41 L180.50,221.48 L180.03,221.57 L179.55,221.68 L179.08,221.81 L178.61,221.97 L178.14,222.14 L177.69,222.33 L177.24,222.54 L176.80,222.78 L176.38,223.03 L175.97,223.31 L175.58,223.60 L175.20,223.92 L174.82,224.26 L174.45,224.62 L174.07,225.00 L173.69,225.41 L173.29,225.84 L172.88,226.29 L172.45,226.77 L172.00,227.27 L171.52,227.81 L171.03,228.37 L170.51,228.97 L169.99,229.59 L169.45,230.23 L168.90,230.89 L168.35,231.58 L167.79,232.27 L167.24,232.98 L166.69,233.70 L166.14,234.42 L165.60,235.14 L165.06,235.88 L164.51,236.67 L163.96,237.48 L163.41,238.32 L162.85,239.17 L162.30,240.02 L161.75,240.86 L161.21,241.68 L160.69,242.48 L160.17,243.23 L159.68,243.95 L159.20,244.60 L158.75,245.20 L158.34,245.76 L157.94,246.28 L157.57,246.77 L157.21,247.24 L156.85,247.68 L156.49,248.10 L156.12,248.51 L155.73,248.91 L155.32,249.30 L154.88,249.70 L154.40,250.10 L153.89,250.48 L153.36,250.83 L152.81,251.15 L152.24,251.45 L151.66,251.75 L151.06,252.04 L150.44,252.34 L149.81,252.67 L149.18,253.02 L148.53,253.41 L147.87,253.85 L147.20,254.35 L146.51,254.90 L145.80,255.52 L145.06,256.18 L144.30,256.87 L143.53,257.60 L142.76,258.34 L141.98,259.10 L141.21,259.86 L140.45,260.62 L139.71,261.36 L138.99,262.07 L138.30,262.76 L137.63,263.42 L136.97,264.09 L136.31,264.75 L135.67,265.40 L135.04,266.06 L134.42,266.70 L133.81,267.33 L133.22,267.96 L132.64,268.57 L132.08,269.16 L131.53,269.74 L131.00,270.30 L130.50,270.85 L130.02,271.41 L129.58,271.96 L129.15,272.51 L128.74,273.05 L128.33,273.57 L127.93,274.06 L127.53,274.52 L127.12,274.94 L126.70,275.32 L126.26,275.65 L125.80,275.92 L125.32,276.13 L124.83,276.28 L124.32,276.36 L123.81,276.41 L123.29,276.41 L122.77,276.38 L122.24,276.34 L121.71,276.28 L121.18,276.22 L120.65,276.17 L120.12,276.13 L119.60,276.11 L119.09,276.11 L118.59,276.11 L118.10,276.10 L117.62,276.09 L117.13,276.07 L116.64,276.06 L116.14,276.04 L115.63,276.02 L115.09,275.99 L114.52,275.96 L113.93,275.93 L113.30,275.90 L112.62,275.85 L111.89,275.79 L111.12,275.70 L110.33,275.61 L109.51,275.52 L108.67,275.43 L107.84,275.35 L107.02,275.29 L106.21,275.27 L105.43,275.28 L104.69,275.32 L104.00,275.39 L103.35,275.50 L102.73,275.65 L102.14,275.84 L101.57,276.04 L101.02,276.27 L100.49,276.51 L99.96,276.77 L99.44,277.02 L98.91,277.27 L98.39,277.52 L97.85,277.75 L97.30,277.97 L96.74,278.17 L96.18,278.38 L95.62,278.58 L95.07,278.79 L94.51,279.00 L93.95,279.20 L93.39,279.39 L92.83,279.58 L92.27,279.76 L91.72,279.94 L91.16,280.10 L90.60,280.24 L90.04,280.38 L89.48,280.52 L88.93,280.66 L88.37,280.79 L87.81,280.92 L87.26,281.03 L86.70,281.13 L86.14,281.21 L85.58,281.28 L85.02,281.32 L84.46,281.33 L83.90,281.32 L83.34,281.27 L82.77,281.18 L82.20,281.06 L81.64,280.92 L81.07,280.75 L80.50,280.58 L79.93,280.39 L79.36,280.21 L78.80,280.03 L78.23,279.86 L77.66,279.72 L77.10,279.60 L76.54,279.49 L75.99,279.40 L75.44,279.30 L74.90,279.22 L74.36,279.14 L73.81,279.07 L73.26,279.00 L72.71,278.94 L72.15,278.89 L71.58,278.84 L71.00,278.80 L70.40,278.77 L69.79,278.76 L69.16,278.76 L68.53,278.78 L67.89,278.81 L67.23,278.85 L66.58,278.89 L65.91,278.93 L65.25,278.96 L64.58,278.99 L63.92,278.99 L63.26,278.98 L62.60,278.95 L61.94,278.89 L61.28,278.82 L60.60,278.73 L59.93,278.62 L59.25,278.51 L58.58,278.39 L57.91,278.26 L57.25,278.13 L56.59,278.00 L55.95,277.87 L55.32,277.74 L54.70,277.62 L54.08,277.50 L53.44,277.36 L52.78,277.22 L52.13,277.07 L51.48,276.92 L50.86,276.78 L50.26,276.63 L49.69,276.50 L49.18,276.38 L48.72,276.27 L48.32,276.17 L48.00,276.10Z" fill="#f4a7b0" fill-opacity="0.32"/>
<path d="M48.00,272.30 L48.32,272.29 L48.72,272.27 L49.18,272.25 L49.69,272.23 L50.26,272.20 L50.86,272.17 L51.48,272.15 L52.13,272.12 L52.78,272.10 L53.44,272.08 L54.08,272.07 L54.70,272.06 L55.32,272.07 L55.96,272.11 L56.62,272.16 L57.29,272.21 L57.97,272.28 L58.65,272.33 L59.33,272.38 L60.01,272.41 L60.68,272.41 L61.34,272.39 L61.98,272.32 L62.60,272.22 L63.20,272.05 L63.80,271.84 L64.39,271.58 L64.96,271.28 L65.53,270.96 L66.09,270.63 L66.65,270.29 L67.19,269.96 L67.73,269.64 L68.26,269.35 L68.78,269.09 L69.30,268.87 L69.81,268.69 L70.31,268.51 L70.80,268.35 L71.29,268.20 L71.77,268.06 L72.24,267.94 L72.70,267.84 L73.16,267.76 L73.60,267.70 L74.04,267.65 L74.48,267.64 L74.90,267.64 L75.31,267.67 L75.71,267.73 L76.10,267.80 L76.48,267.90 L76.85,268.02 L77.22,268.16 L77.58,268.31 L77.94,268.49 L78.30,268.67 L78.66,268.87 L79.03,269.09 L79.40,269.31 L79.77,269.56 L80.12,269.84 L80.47,270.15 L80.82,270.48 L81.16,270.83 L81.51,271.18 L81.87,271.54 L82.24,271.90 L82.62,272.24 L83.02,272.58 L83.45,272.90 L83.90,273.19 L84.38,273.46 L84.88,273.73 L85.39,273.98 L85.93,274.24 L86.48,274.48 L87.04,274.72 L87.62,274.94 L88.20,275.16 L88.80,275.37 L89.39,275.57 L90.00,275.76 L90.60,275.95 L91.22,276.12 L91.85,276.29 L92.50,276.46 L93.16,276.62 L93.83,276.77 L94.51,276.91 L95.18,277.04 L95.85,277.15 L96.51,277.24 L97.16,277.32 L97.79,277.37 L98.40,277.40 L98.99,277.40 L99.55,277.36 L100.09,277.30 L100.63,277.21 L101.15,277.11 L101.67,277.00 L102.19,276.88 L102.72,276.75 L103.26,276.63 L103.82,276.53 L104.39,276.43 L105.00,276.36 L105.64,276.30 L106.31,276.24 L107.00,276.18 L107.71,276.13 L108.44,276.08 L109.17,276.03 L109.90,275.99 L110.62,275.96 L111.33,275.93 L112.01,275.92 L112.67,275.91 L113.30,275.91 L113.90,275.91 L114.47,275.92 L115.02,275.92 L115.55,275.93 L116.07,275.95 L116.58,275.98 L117.08,276.02 L117.58,276.07 L118.08,276.14 L118.58,276.23 L119.08,276.34 L119.60,276.47 L120.12,276.63 L120.63,276.82 L121.13,277.04 L121.63,277.28 L122.13,277.53 L122.64,277.79 L123.14,278.07 L123.66,278.34 L124.17,278.60 L124.70,278.86 L125.25,279.11 L125.80,279.33 L126.37,279.56 L126.95,279.80 L127.55,280.06 L128.15,280.31 L128.76,280.57 L129.38,280.81 L130.00,281.03 L130.63,281.23 L131.25,281.39 L131.87,281.50 L132.49,281.57 L133.10,281.58 L133.71,281.53 L134.33,281.43 L134.95,281.29 L135.57,281.11 L136.19,280.90 L136.81,280.66 L137.43,280.39 L138.04,280.09 L138.65,279.79 L139.24,279.46 L139.83,279.13 L140.40,278.80 L140.96,278.46 L141.52,278.13 L142.07,277.78 L142.61,277.42 L143.15,277.04 L143.68,276.65 L144.20,276.22 L144.72,275.76 L145.23,275.27 L145.73,274.74 L146.22,274.16 L146.70,273.53 L147.18,272.84 L147.64,272.08 L148.10,271.26 L148.56,270.39 L149.00,269.49 L149.44,268.57 L149.87,267.62 L150.29,266.68 L150.70,265.74 L151.11,264.82 L151.51,263.93 L151.90,263.08 L152.28,262.23 L152.65,261.37 L153.01,260.50 L153.37,259.62 L153.71,258.75 L154.05,257.90 L154.38,257.07 L154.71,256.28 L155.04,255.53 L155.36,254.83 L155.68,254.20 L156.00,253.63 L156.31,253.14 L156.62,252.70 L156.91,252.31 L157.19,251.97 L157.47,251.67 L157.76,251.41 L158.04,251.19 L158.33,251.01 L158.63,250.84 L158.94,250.71 L159.26,250.59 L159.60,250.50 L159.96,250.42 L160.33,250.38 L160.71,250.38 L161.10,250.41 L161.49,250.46 L161.90,250.54 L162.31,250.64 L162.73,250.77 L163.14,250.91 L163.56,251.08 L163.98,251.25 L164.40,251.44 L164.82,251.66 L165.23,251.90 L165.65,252.17 L166.07,252.46 L166.49,252.77 L166.91,253.09 L167.34,253.43 L167.78,253.78 L168.22,254.13 L168.67,254.49 L169.13,254.84 L169.60,255.19 L170.08,255.54 L170.57,255.92 L171.08,256.30 L171.59,256.70 L172.11,257.10 L172.63,257.50 L173.16,257.90 L173.69,258.29 L174.22,258.68 L174.75,259.04 L175.28,259.40 L175.80,259.72 L176.32,260.05 L176.85,260.39 L177.37,260.73 L177.90,261.07 L178.42,261.41 L178.95,261.73 L179.48,262.02 L180.00,262.28 L180.53,262.50 L181.05,262.66 L181.58,262.76 L182.10,262.80 L182.62,262.75 L183.14,262.63 L183.65,262.43 L184.17,262.17 L184.69,261.88 L185.20,261.55 L185.71,261.21 L186.23,260.86 L186.75,260.52 L187.26,260.21 L187.78,259.93 L188.30,259.70 L188.82,259.50 L189.35,259.30 L189.87,259.10 L190.40,258.90 L190.92,258.72 L191.45,258.55 L191.98,258.40 L192.50,258.26 L193.03,258.15 L193.55,258.07 L194.08,258.02 L194.60,258.00 L195.13,258.03 L195.67,258.10 L196.23,258.21 L196.79,258.35 L197.34,258.51 L197.89,258.69 L198.43,258.88 L198.96,259.07 L199.46,259.26 L199.94,259.43 L200.39,259.58 L200.80,259.70 L201.18,259.80 L201.54,259.89 L201.89,259.98 L202.21,260.06 L202.51,260.14 L202.79,260.21 L203.05,260.27 L203.28,260.33 L203.50,260.38 L203.69,260.42 L203.85,260.46 L204.00,260.50 L204.00,267.50 L203.85,267.46 L203.69,267.42 L203.50,267.38 L203.28,267.33 L203.05,267.27 L202.79,267.21 L202.51,267.14 L202.21,267.06 L201.89,266.98 L201.54,266.89 L201.18,266.80 L200.80,266.70 L200.39,266.58 L199.94,266.43 L199.46,266.26 L198.96,266.07 L198.43,265.88 L197.89,265.69 L197.34,265.51 L196.79,265.35 L196.23,265.21 L195.67,265.10 L195.13,265.03 L194.60,265.00 L194.08,265.02 L193.55,265.07 L193.03,265.15 L192.50,265.26 L191.98,265.40 L191.45,265.55 L190.92,265.72 L190.40,265.90 L189.87,266.10 L189.35,266.30 L188.82,266.50 L188.30,266.70 L187.78,266.93 L187.26,267.21 L186.75,267.52 L186.23,267.86 L185.71,268.21 L185.20,268.55 L184.69,268.88 L184.17,269.17 L183.65,269.43 L183.14,269.63 L182.62,269.75 L182.10,269.80 L181.58,269.76 L181.05,269.66 L180.53,269.50 L180.00,269.28 L179.48,269.02 L178.95,268.73 L178.42,268.41 L177.90,268.07 L177.37,267.72 L176.85,267.36 L176.32,267.01 L175.80,266.68 L175.28,266.34 L174.75,265.98 L174.22,265.60 L173.69,265.20 L173.16,264.80 L172.63,264.39 L172.11,263.97 L171.59,263.56 L171.08,263.16 L170.57,262.76 L170.08,262.38 L169.60,262.01 L169.13,261.65 L168.67,261.29 L168.22,260.92 L167.78,260.56 L167.34,260.21 L166.91,259.86 L166.49,259.52 L166.07,259.20 L165.65,258.90 L165.23,258.63 L164.82,258.38 L164.40,258.16 L163.98,257.96 L163.56,257.77 L163.14,257.60 L162.73,257.45 L162.31,257.31 L161.90,257.20 L161.49,257.11 L161.10,257.05 L160.71,257.01 L160.33,257.01 L159.96,257.04 L159.60,257.10 L159.26,257.20 L158.94,257.30 L158.63,257.43 L158.33,257.59 L158.04,257.77 L157.76,257.99 L157.47,258.24 L157.19,258.53 L156.91,258.86 L156.62,259.24 L156.31,259.68 L156.00,260.17 L155.68,260.72 L155.36,261.35 L155.04,262.04 L154.71,262.78 L154.38,263.57 L154.05,264.39 L153.71,265.24 L153.37,266.10 L153.01,266.97 L152.65,267.83 L152.28,268.69 L151.90,269.52 L151.51,270.37 L151.11,271.25 L150.70,272.16 L150.29,273.09 L149.87,274.03 L149.44,274.96 L149.00,275.88 L148.56,276.77 L148.10,277.62 L147.64,278.43 L147.18,279.18 L146.70,279.87 L146.22,280.49 L145.73,281.05 L145.23,281.58 L144.72,282.06 L144.20,282.50 L143.68,282.92 L143.15,283.30 L142.61,283.67 L142.07,284.02 L141.52,284.35 L140.96,284.68 L140.40,285.00 L139.83,285.32 L139.24,285.64 L138.65,285.95 L138.04,286.25 L137.43,286.52 L136.81,286.78 L136.19,287.01 L135.57,287.21 L134.95,287.38 L134.33,287.50 L133.71,287.59 L133.10,287.62 L132.49,287.60 L131.87,287.52 L131.25,287.39 L130.63,287.22 L130.00,287.02 L129.38,286.79 L128.76,286.54 L128.15,286.28 L127.55,286.01 L126.95,285.75 L126.37,285.50 L125.80,285.27 L125.25,285.04 L124.70,284.79 L124.17,284.52 L123.66,284.25 L123.14,283.97 L122.64,283.69 L122.13,283.42 L121.63,283.16 L121.13,282.92 L120.63,282.69 L120.12,282.50 L119.60,282.33 L119.08,282.19 L118.58,282.08 L118.08,281.99 L117.58,281.91 L117.08,281.85 L116.58,281.81 L116.07,281.77 L115.55,281.75 L115.02,281.73 L114.47,281.72 L113.90,281.70 L113.30,281.69 L112.67,281.69 L112.01,281.69 L111.33,281.70 L110.62,281.71 L109.90,281.74 L109.17,281.77 L108.44,281.80 L107.71,281.84 L107.00,281.89 L106.31,281.94 L105.64,281.99 L105.00,282.04 L104.39,282.11 L103.82,282.20 L103.26,282.30 L102.72,282.41 L102.19,282.53 L101.67,282.64 L101.15,282.75 L100.63,282.85 L100.09,282.92 L99.55,282.98 L98.99,283.01 L98.40,283.00 L97.79,282.97 L97.16,282.90 L96.51,282.82 L95.85,282.72 L95.18,282.60 L94.51,282.47 L93.83,282.32 L93.16,282.16 L92.50,281.99 L91.85,281.82 L91.22,281.64 L90.60,281.45 L90.00,281.27 L89.39,281.07 L88.80,280.86 L88.20,280.64 L87.62,280.42 L87.04,280.18 L86.48,279.94 L85.93,279.69 L85.39,279.43 L84.88,279.17 L84.38,278.89 L83.90,278.61 L83.45,278.32 L83.02,278.00 L82.62,277.66 L82.24,277.30 L81.87,276.94 L81.51,276.58 L81.16,276.22 L80.82,275.87 L80.47,275.54 L80.12,275.23 L79.77,274.94 L79.40,274.69 L79.03,274.46 L78.66,274.24 L78.30,274.03 L77.94,273.84 L77.58,273.66 L77.22,273.50 L76.85,273.36 L76.48,273.24 L76.10,273.14 L75.71,273.05 L75.31,272.99 L74.90,272.96 L74.48,272.95 L74.04,272.96 L73.60,273.00 L73.16,273.06 L72.70,273.13 L72.24,273.23 L71.77,273.34 L71.29,273.47 L70.80,273.62 L70.31,273.78 L69.81,273.95 L69.30,274.13 L68.78,274.33 L68.26,274.59 L67.73,274.88 L67.19,275.19 L66.65,275.51 L66.09,275.84 L65.53,276.17 L64.96,276.48 L64.39,276.77 L63.80,277.02 L63.20,277.23 L62.60,277.38 L61.98,277.49 L61.34,277.54 L60.68,277.56 L60.01,277.55 L59.33,277.51 L58.65,277.45 L57.97,277.39 L57.29,277.32 L56.62,277.25 L55.96,277.19 L55.32,277.15 L54.70,277.14 L54.08,277.14 L53.44,277.14 L52.78,277.15 L52.13,277.17 L51.48,277.18 L50.86,277.20 L50.26,277.22 L49.69,277.24 L49.18,277.26 L48.72,277.27 L48.32,277.29 L48.00,277.30Z" fill="#fbc884" fill-opacity="0.40"/>
<path d="M48.00,268.50 L48.32,268.58 L48.72,268.67 L49.18,268.78 L49.69,268.91 L50.26,269.04 L50.86,269.19 L51.48,269.34 L52.13,269.49 L52.78,269.64 L53.44,269.79 L54.08,269.94 L54.70,270.08 L55.32,270.22 L55.95,270.36 L56.59,270.51 L57.25,270.65 L57.91,270.80 L58.58,270.95 L59.25,271.09 L59.93,271.24 L60.60,271.37 L61.28,271.51 L61.94,271.63 L62.60,271.75 L63.26,271.86 L63.92,271.97 L64.58,272.07 L65.25,272.17 L65.91,272.27 L66.58,272.36 L67.23,272.44 L67.89,272.53 L68.53,272.61 L69.16,272.68 L69.79,272.76 L70.40,272.83 L71.00,272.89 L71.58,272.95 L72.15,272.99 L72.71,273.04 L73.26,273.08 L73.81,273.11 L74.36,273.15 L74.90,273.19 L75.44,273.24 L75.99,273.28 L76.54,273.34 L77.10,273.40 L77.66,273.48 L78.23,273.58 L78.80,273.69 L79.36,273.81 L79.93,273.93 L80.50,274.05 L81.07,274.16 L81.64,274.27 L82.20,274.35 L82.77,274.42 L83.34,274.47 L83.90,274.48 L84.46,274.47 L85.01,274.43 L85.56,274.38 L86.10,274.31 L86.64,274.22 L87.19,274.13 L87.74,274.01 L88.29,273.89 L88.85,273.77 L89.42,273.63 L90.00,273.50 L90.60,273.36 L91.22,273.21 L91.85,273.06 L92.50,272.89 L93.16,272.72 L93.83,272.54 L94.51,272.35 L95.18,272.16 L95.85,271.96 L96.51,271.76 L97.16,271.55 L97.79,271.34 L98.40,271.13 L98.99,270.91 L99.55,270.66 L100.09,270.40 L100.63,270.13 L101.15,269.86 L101.67,269.58 L102.19,269.32 L102.72,269.06 L103.26,268.83 L103.82,268.62 L104.39,268.45 L105.00,268.31 L105.64,268.21 L106.31,268.13 L107.00,268.09 L107.71,268.06 L108.44,268.04 L109.17,268.03 L109.90,268.03 L110.62,268.04 L111.33,268.06 L112.01,268.08 L112.67,268.09 L113.30,268.10 L113.90,268.11 L114.47,268.14 L115.02,268.17 L115.55,268.21 L116.07,268.25 L116.58,268.30 L117.08,268.35 L117.58,268.39 L118.08,268.43 L118.58,268.46 L119.08,268.48 L119.60,268.49 L120.12,268.50 L120.65,268.53 L121.18,268.57 L121.71,268.61 L122.24,268.64 L122.77,268.67 L123.29,268.67 L123.81,268.64 L124.32,268.57 L124.83,268.46 L125.32,268.30 L125.80,268.08 L126.26,267.79 L126.70,267.44 L127.12,267.05 L127.53,266.61 L127.93,266.14 L128.33,265.63 L128.74,265.10 L129.15,264.55 L129.58,263.99 L130.02,263.43 L130.50,262.86 L131.00,262.30 L131.53,261.74 L132.10,261.18 L132.68,260.60 L133.28,260.01 L133.89,259.40 L134.52,258.79 L135.15,258.16 L135.79,257.52 L136.43,256.87 L137.06,256.20 L137.68,255.53 L138.30,254.84 L138.92,254.14 L139.55,253.40 L140.19,252.65 L140.84,251.88 L141.49,251.10 L142.13,250.31 L142.76,249.51 L143.38,248.72 L143.98,247.94 L144.55,247.17 L145.09,246.42 L145.60,245.69 L146.07,244.97 L146.50,244.25 L146.90,243.53 L147.28,242.82 L147.64,242.11 L147.98,241.42 L148.31,240.74 L148.64,240.07 L148.97,239.42 L149.30,238.79 L149.64,238.18 L150.00,237.59 L150.36,237.03 L150.71,236.49 L151.05,235.96 L151.39,235.45 L151.73,234.96 L152.07,234.48 L152.42,234.02 L152.79,233.58 L153.16,233.16 L153.55,232.76 L153.96,232.37 L154.40,232.00 L154.87,231.67 L155.37,231.38 L155.90,231.12 L156.44,230.90 L157.01,230.69 L157.57,230.49 L158.15,230.29 L158.71,230.08 L159.27,229.85 L159.80,229.60 L160.32,229.30 L160.80,228.96 L161.25,228.58 L161.67,228.17 L162.08,227.73 L162.46,227.26 L162.83,226.78 L163.20,226.28 L163.57,225.78 L163.94,225.26 L164.32,224.75 L164.73,224.25 L165.15,223.75 L165.60,223.26 L166.08,222.77 L166.57,222.26 L167.09,221.74 L167.61,221.21 L168.15,220.67 L168.70,220.15 L169.25,219.63 L169.81,219.14 L170.36,218.68 L170.91,218.25 L171.46,217.86 L172.00,217.53 L172.54,217.24 L173.09,217.01 L173.64,216.83 L174.19,216.68 L174.75,216.56 L175.30,216.46 L175.85,216.37 L176.39,216.28 L176.91,216.18 L177.43,216.08 L177.92,215.95 L178.40,215.80 L178.86,215.62 L179.29,215.43 L179.71,215.21 L180.12,214.99 L180.51,214.77 L180.90,214.54 L181.28,214.31 L181.66,214.10 L182.04,213.89 L182.42,213.71 L182.81,213.54 L183.20,213.40 L183.60,213.28 L184.00,213.17 L184.40,213.07 L184.80,212.98 L185.20,212.90 L185.60,212.84 L186.00,212.79 L186.40,212.76 L186.80,212.74 L187.20,212.74 L187.60,212.76 L188.00,212.80 L188.40,212.88 L188.80,213.00 L189.20,213.16 L189.60,213.34 L190.00,213.54 L190.40,213.75 L190.80,213.96 L191.20,214.15 L191.60,214.32 L192.00,214.46 L192.40,214.55 L192.80,214.60 L193.21,214.60 L193.62,214.58 L194.04,214.54 L194.46,214.47 L194.88,214.39 L195.30,214.28 L195.71,214.14 L196.12,213.99 L196.51,213.82 L196.89,213.63 L197.26,213.42 L197.60,213.20 L197.92,212.95 L198.23,212.66 L198.51,212.34 L198.79,212.00 L199.05,211.64 L199.30,211.26 L199.55,210.88 L199.79,210.49 L200.04,210.10 L200.29,209.72 L200.54,209.35 L200.80,209.00 L201.08,208.65 L201.37,208.28 L201.68,207.89 L201.99,207.50 L202.30,207.12 L202.60,206.74 L202.89,206.37 L203.17,206.03 L203.43,205.71 L203.65,205.43 L203.85,205.19 L204.00,205.00 L204.00,215.00 L203.85,215.19 L203.65,215.43 L203.43,215.71 L203.17,216.03 L202.89,216.37 L202.60,216.74 L202.30,217.12 L201.99,217.50 L201.68,217.89 L201.37,218.28 L201.08,218.65 L200.80,219.00 L200.54,219.35 L200.29,219.72 L200.04,220.10 L199.79,220.49 L199.55,220.88 L199.30,221.26 L199.05,221.64 L198.79,222.00 L198.51,222.34 L198.23,222.66 L197.92,222.95 L197.60,223.20 L197.26,223.42 L196.89,223.63 L196.51,223.82 L196.12,223.99 L195.71,224.14 L195.30,224.28 L194.88,224.39 L194.46,224.47 L194.04,224.54 L193.62,224.58 L193.21,224.60 L192.80,224.60 L192.40,224.55 L192.00,224.46 L191.60,224.32 L191.20,224.15 L190.80,223.96 L190.40,223.75 L190.00,223.54 L189.60,223.34 L189.20,223.16 L188.80,223.00 L188.40,222.88 L188.00,222.80 L187.60,222.76 L187.20,222.74 L186.80,222.74 L186.40,222.76 L186.00,222.79 L185.60,222.84 L185.20,222.90 L184.80,222.98 L184.40,223.07 L184.00,223.17 L183.60,223.28 L183.20,223.40 L182.81,223.54 L182.42,223.71 L182.04,223.89 L181.66,224.10 L181.28,224.31 L180.90,224.54 L180.51,224.77 L180.12,224.99 L179.71,225.21 L179.29,225.43 L178.86,225.62 L178.40,225.80 L177.92,225.95 L177.43,226.06 L176.91,226.14 L176.39,226.21 L175.85,226.28 L175.30,226.34 L174.75,226.42 L174.19,226.52 L173.64,226.65 L173.09,226.81 L172.54,227.01 L172.00,227.27 L171.46,227.59 L170.91,227.95 L170.36,228.36 L169.81,228.80 L169.25,229.26 L168.70,229.75 L168.15,230.26 L167.61,230.77 L167.09,231.28 L166.57,231.78 L166.08,232.27 L165.60,232.74 L165.15,233.20 L164.73,233.68 L164.32,234.17 L163.94,234.67 L163.57,235.16 L163.20,235.65 L162.83,236.14 L162.46,236.60 L162.08,237.05 L161.67,237.48 L161.25,237.87 L160.80,238.24 L160.32,238.55 L159.80,238.82 L159.27,239.06 L158.71,239.26 L158.15,239.45 L157.57,239.62 L157.01,239.80 L156.44,239.98 L155.90,240.19 L155.37,240.42 L154.87,240.68 L154.40,241.00 L153.96,241.35 L153.55,241.72 L153.16,242.11 L152.79,242.51 L152.42,242.94 L152.07,243.38 L151.73,243.84 L151.39,244.32 L151.05,244.82 L150.71,245.33 L150.36,245.86 L150.00,246.41 L149.64,246.97 L149.30,247.57 L148.97,248.18 L148.64,248.82 L148.31,249.47 L147.98,250.14 L147.64,250.82 L147.28,251.51 L146.90,252.21 L146.50,252.91 L146.07,253.61 L145.60,254.31 L145.09,255.02 L144.55,255.75 L143.98,256.50 L143.38,257.25 L142.76,258.02 L142.13,258.78 L141.49,259.54 L140.84,260.30 L140.19,261.04 L139.55,261.77 L138.92,262.48 L138.30,263.16 L137.68,263.82 L137.06,264.46 L136.43,265.10 L135.79,265.73 L135.15,266.34 L134.52,266.94 L133.89,267.53 L133.28,268.11 L132.68,268.67 L132.10,269.23 L131.53,269.77 L131.00,270.30 L130.50,270.83 L130.02,271.36 L129.58,271.90 L129.15,272.43 L128.74,272.95 L128.33,273.45 L127.93,273.93 L127.53,274.38 L127.12,274.79 L126.70,275.15 L126.26,275.47 L125.80,275.72 L125.32,275.92 L124.83,276.05 L124.32,276.12 L123.81,276.15 L123.29,276.15 L122.77,276.11 L122.24,276.05 L121.71,275.98 L121.18,275.90 L120.65,275.82 L120.12,275.76 L119.60,275.71 L119.08,275.67 L118.58,275.62 L118.08,275.55 L117.58,275.48 L117.08,275.40 L116.58,275.32 L116.07,275.24 L115.55,275.16 L115.02,275.08 L114.47,275.01 L113.90,274.95 L113.30,274.90 L112.67,274.85 L112.01,274.79 L111.33,274.72 L110.62,274.66 L109.90,274.60 L109.17,274.55 L108.44,274.50 L107.71,274.48 L107.00,274.49 L106.31,274.53 L105.64,274.59 L105.00,274.69 L104.39,274.83 L103.82,275.00 L103.26,275.20 L102.72,275.43 L102.19,275.68 L101.67,275.94 L101.15,276.21 L100.63,276.48 L100.09,276.75 L99.55,277.01 L98.99,277.25 L98.40,277.47 L97.79,277.67 L97.16,277.88 L96.51,278.08 L95.85,278.28 L95.18,278.47 L94.51,278.66 L93.83,278.85 L93.16,279.02 L92.50,279.19 L91.85,279.35 L91.22,279.50 L90.60,279.64 L90.00,279.78 L89.42,279.91 L88.85,280.04 L88.29,280.16 L87.74,280.28 L87.19,280.39 L86.64,280.48 L86.10,280.56 L85.56,280.63 L85.01,280.68 L84.46,280.71 L83.90,280.72 L83.34,280.70 L82.77,280.65 L82.20,280.58 L81.64,280.49 L81.07,280.38 L80.50,280.26 L79.93,280.14 L79.36,280.02 L78.80,279.89 L78.23,279.78 L77.66,279.68 L77.10,279.60 L76.54,279.53 L75.99,279.47 L75.44,279.42 L74.90,279.37 L74.36,279.33 L73.81,279.29 L73.26,279.24 L72.71,279.20 L72.15,279.15 L71.58,279.10 L71.00,279.04 L70.40,278.97 L69.79,278.90 L69.16,278.82 L68.53,278.74 L67.89,278.66 L67.23,278.57 L66.58,278.48 L65.91,278.38 L65.25,278.29 L64.58,278.18 L63.92,278.08 L63.26,277.96 L62.60,277.85 L61.94,277.72 L61.28,277.59 L60.60,277.46 L59.93,277.31 L59.25,277.17 L58.58,277.01 L57.91,276.86 L57.25,276.71 L56.59,276.56 L55.95,276.41 L55.32,276.26 L54.70,276.12 L54.08,275.98 L53.44,275.83 L52.78,275.67 L52.13,275.51 L51.48,275.35 L50.86,275.20 L50.26,275.05 L49.69,274.91 L49.18,274.79 L48.72,274.67 L48.32,274.58 L48.00,274.50Z" fill="#a9b9e6" fill-opacity="0.35"/>
<path d="M48.00,275.10 L48.32,275.15 L48.72,275.23 L49.18,275.32 L49.69,275.43 L50.26,275.54 L50.86,275.66 L51.48,275.76 L52.13,275.86 L52.78,275.94 L53.44,275.99 L54.08,276.01 L54.70,276.00 L55.32,275.95 L55.95,275.85 L56.59,275.73 L57.25,275.59 L57.91,275.42 L58.58,275.24 L59.25,275.06 L59.93,274.88 L60.60,274.71 L61.28,274.55 L61.94,274.41 L62.60,274.30 L63.26,274.21 L63.92,274.12 L64.58,274.04 L65.25,273.97 L65.91,273.91 L66.58,273.86 L67.23,273.81 L67.89,273.77 L68.53,273.74 L69.16,273.72 L69.79,273.70 L70.40,273.70 L70.99,273.71 L71.55,273.74 L72.10,273.79 L72.63,273.86 L73.15,273.93 L73.67,274.00 L74.20,274.07 L74.74,274.14 L75.29,274.21 L75.86,274.26 L76.46,274.29 L77.10,274.30 L77.77,274.30 L78.47,274.28 L79.19,274.26 L79.93,274.23 L80.69,274.19 L81.46,274.14 L82.23,274.08 L83.01,274.02 L83.80,273.95 L84.57,273.87 L85.34,273.79 L86.10,273.70 L86.86,273.60 L87.63,273.49 L88.40,273.37 L89.19,273.24 L89.97,273.11 L90.74,272.97 L91.51,272.82 L92.27,272.68 L93.01,272.53 L93.73,272.38 L94.43,272.24 L95.10,272.10 L95.75,271.96 L96.39,271.82 L97.02,271.67 L97.63,271.52 L98.23,271.37 L98.81,271.22 L99.37,271.07 L99.91,270.93 L100.42,270.79 L100.91,270.65 L101.37,270.52 L101.80,270.40 L102.17,270.28 L102.48,270.16 L102.73,270.05 L102.94,269.93 L103.12,269.82 L103.30,269.72 L103.48,269.62 L103.69,269.53 L103.92,269.46 L104.21,269.39 L104.57,269.34 L105.00,269.30 L105.52,269.29 L106.11,269.30 L106.76,269.34 L107.46,269.39 L108.20,269.43 L108.96,269.47 L109.73,269.51 L110.49,269.54 L111.25,269.56 L111.97,269.57 L112.66,269.55 L113.30,269.50 L113.90,269.44 L114.48,269.39 L115.04,269.33 L115.59,269.27 L116.12,269.20 L116.64,269.11 L117.15,268.99 L117.66,268.85 L118.15,268.67 L118.64,268.46 L119.12,268.20 L119.60,267.89 L120.08,267.52 L120.55,267.11 L121.03,266.65 L121.49,266.16 L121.95,265.63 L122.40,265.07 L122.84,264.49 L123.26,263.89 L123.67,263.28 L124.07,262.66 L124.44,262.03 L124.80,261.41 L125.13,260.78 L125.44,260.14 L125.72,259.49 L125.99,258.83 L126.24,258.15 L126.48,257.46 L126.71,256.75 L126.94,256.03 L127.17,255.30 L127.41,254.55 L127.65,253.78 L127.90,253.00 L128.16,252.20 L128.42,251.36 L128.67,250.49 L128.93,249.61 L129.19,248.70 L129.44,247.80 L129.70,246.88 L129.96,245.97 L130.22,245.08 L130.48,244.19 L130.74,243.33 L131.00,242.50 L131.26,241.70 L131.50,240.95 L131.75,240.21 L131.99,239.50 L132.22,238.80 L132.47,238.09 L132.72,237.38 L132.98,236.66 L133.26,235.90 L133.55,235.12 L133.86,234.29 L134.20,233.42 L134.56,232.50 L134.95,231.55 L135.36,230.58 L135.79,229.58 L136.22,228.56 L136.68,227.52 L137.13,226.45 L137.59,225.36 L138.05,224.24 L138.51,223.11 L138.96,221.96 L139.40,220.78 L139.83,219.57 L140.27,218.29 L140.70,216.97 L141.13,215.62 L141.57,214.24 L142.00,212.86 L142.43,211.47 L142.87,210.11 L143.30,208.77 L143.73,207.47 L144.17,206.23 L144.60,205.05 L145.04,203.91 L145.49,202.77 L145.94,201.65 L146.40,200.54 L146.85,199.47 L147.31,198.43 L147.75,197.43 L148.19,196.49 L148.62,195.61 L149.03,194.80 L149.43,194.07 L149.80,193.42 L150.14,192.86 L150.45,192.38 L150.74,191.97 L151.00,191.64 L151.26,191.36 L151.51,191.14 L151.76,190.97 L152.02,190.84 L152.30,190.74 L152.60,190.68 L152.93,190.65 L153.30,190.63 L153.71,190.65 L154.14,190.73 L154.60,190.86 L155.08,191.03 L155.57,191.24 L156.08,191.48 L156.60,191.75 L157.12,192.03 L157.65,192.32 L158.17,192.61 L158.69,192.90 L159.20,193.18 L159.71,193.45 L160.24,193.74 L160.78,194.03 L161.32,194.34 L161.86,194.65 L162.41,194.98 L162.94,195.31 L163.47,195.65 L163.98,196.01 L164.48,196.37 L164.95,196.74 L165.40,197.12 L165.82,197.51 L166.20,197.91 L166.56,198.33 L166.90,198.75 L167.22,199.18 L167.54,199.62 L167.85,200.07 L168.17,200.53 L168.50,200.99 L168.84,201.46 L169.21,201.93 L169.60,202.41 L170.02,202.92 L170.44,203.46 L170.88,204.02 L171.33,204.61 L171.79,205.20 L172.26,205.78 L172.74,206.36 L173.22,206.91 L173.71,207.42 L174.20,207.90 L174.70,208.31 L175.20,208.67 L175.71,208.96 L176.22,209.18 L176.74,209.35 L177.27,209.48 L177.81,209.57 L178.35,209.64 L178.89,209.71 L179.44,209.77 L179.98,209.83 L180.52,209.91 L181.06,210.01 L181.60,210.15 L182.14,210.32 L182.69,210.49 L183.24,210.67 L183.79,210.85 L184.35,211.04 L184.90,211.24 L185.45,211.44 L185.99,211.64 L186.51,211.84 L187.03,212.05 L187.52,212.26 L188.00,212.47 L188.46,212.70 L188.89,212.95 L189.31,213.22 L189.72,213.50 L190.11,213.79 L190.50,214.06 L190.88,214.33 L191.26,214.58 L191.64,214.80 L192.02,214.98 L192.41,215.12 L192.80,215.21 L193.21,215.26 L193.62,215.27 L194.04,215.26 L194.46,215.21 L194.88,215.14 L195.30,215.04 L195.71,214.92 L196.12,214.77 L196.51,214.60 L196.89,214.40 L197.26,214.19 L197.60,213.95 L197.92,213.68 L198.23,213.36 L198.51,213.01 L198.79,212.62 L199.05,212.21 L199.30,211.79 L199.55,211.36 L199.79,210.92 L200.04,210.49 L200.29,210.07 L200.54,209.68 L200.80,209.31 L201.08,208.95 L201.37,208.58 L201.68,208.20 L201.99,207.83 L202.30,207.47 L202.60,207.11 L202.89,206.77 L203.17,206.46 L203.43,206.16 L203.65,205.90 L203.85,205.68 L204.00,205.50 L204.00,214.50 L203.85,214.68 L203.65,214.90 L203.43,215.16 L203.17,215.46 L202.89,215.77 L202.60,216.11 L202.30,216.47 L201.99,216.83 L201.68,217.20 L201.37,217.58 L201.08,217.94 L200.80,218.29 L200.54,218.65 L200.29,219.04 L200.04,219.46 L199.79,219.88 L199.55,220.31 L199.30,220.74 L199.05,221.15 L198.79,221.55 L198.51,221.93 L198.23,222.28 L197.92,222.59 L197.60,222.85 L197.26,223.08 L196.89,223.28 L196.51,223.47 L196.12,223.63 L195.71,223.77 L195.30,223.88 L194.88,223.97 L194.46,224.03 L194.04,224.07 L193.62,224.07 L193.21,224.05 L192.80,223.99 L192.41,223.89 L192.02,223.74 L191.64,223.55 L191.26,223.32 L190.88,223.06 L190.50,222.79 L190.11,222.50 L189.72,222.20 L189.31,221.91 L188.89,221.63 L188.46,221.37 L188.00,221.13 L187.52,220.91 L187.03,220.68 L186.51,220.46 L185.99,220.24 L185.45,220.03 L184.90,219.81 L184.35,219.60 L183.79,219.40 L183.24,219.20 L182.69,219.01 L182.14,218.82 L181.60,218.65 L181.06,218.49 L180.52,218.38 L179.98,218.28 L179.44,218.20 L178.89,218.13 L178.35,218.06 L177.81,217.96 L177.27,217.84 L176.74,217.69 L176.22,217.49 L175.71,217.24 L175.20,216.93 L174.70,216.55 L174.20,216.10 L173.71,215.61 L173.22,215.06 L172.74,214.49 L172.26,213.89 L171.79,213.28 L171.33,212.67 L170.88,212.06 L170.44,211.47 L170.02,210.91 L169.60,210.39 L169.21,209.89 L168.84,209.39 L168.50,208.91 L168.17,208.43 L167.85,207.96 L167.54,207.49 L167.22,207.03 L166.90,206.58 L166.56,206.14 L166.20,205.71 L165.82,205.29 L165.40,204.88 L164.95,204.48 L164.48,204.08 L163.98,203.69 L163.47,203.32 L162.94,202.95 L162.41,202.58 L161.86,202.23 L161.32,201.89 L160.78,201.56 L160.24,201.24 L159.71,200.92 L159.20,200.62 L158.69,200.32 L158.17,200.00 L157.65,199.68 L157.12,199.36 L156.60,199.06 L156.08,198.77 L155.57,198.50 L155.08,198.26 L154.60,198.07 L154.14,197.91 L153.71,197.81 L153.30,197.77 L152.93,197.77 L152.60,197.79 L152.30,197.83 L152.02,197.91 L151.76,198.03 L151.51,198.19 L151.26,198.40 L151.00,198.66 L150.74,198.98 L150.45,199.38 L150.14,199.84 L149.80,200.38 L149.43,201.01 L149.03,201.72 L148.62,202.51 L148.19,203.37 L147.75,204.29 L147.31,205.26 L146.85,206.28 L146.40,207.33 L145.94,208.41 L145.49,209.52 L145.04,210.63 L144.60,211.75 L144.17,212.90 L143.73,214.12 L143.30,215.40 L142.87,216.72 L142.43,218.06 L142.00,219.42 L141.57,220.78 L141.13,222.14 L140.70,223.47 L140.27,224.77 L139.83,226.02 L139.40,227.22 L138.96,228.37 L138.51,229.50 L138.05,230.61 L137.59,231.70 L137.13,232.76 L136.68,233.81 L136.22,234.83 L135.79,235.83 L135.36,236.81 L134.95,237.76 L134.56,238.68 L134.20,239.58 L133.86,240.44 L133.55,241.25 L133.26,242.02 L132.98,242.76 L132.72,243.47 L132.47,244.17 L132.22,244.86 L131.99,245.55 L131.75,246.25 L131.50,246.97 L131.26,247.72 L131.00,248.50 L130.74,249.32 L130.48,250.16 L130.22,251.03 L129.96,251.91 L129.70,252.80 L129.44,253.69 L129.19,254.58 L128.93,255.47 L128.67,256.34 L128.42,257.19 L128.16,258.01 L127.90,258.80 L127.65,259.56 L127.41,260.31 L127.17,261.04 L126.94,261.76 L126.71,262.46 L126.48,263.15 L126.24,263.83 L125.99,264.49 L125.72,265.14 L125.44,265.77 L125.13,266.39 L124.80,266.99 L124.44,267.59 L124.07,268.19 L123.67,268.78 L123.26,269.37 L122.84,269.94 L122.40,270.49 L121.95,271.02 L121.49,271.52 L121.03,271.98 L120.55,272.40 L120.08,272.78 L119.60,273.11 L119.12,273.39 L118.64,273.62 L118.15,273.80 L117.66,273.94 L117.15,274.05 L116.64,274.13 L116.12,274.19 L115.59,274.23 L115.04,274.25 L114.48,274.27 L113.90,274.28 L113.30,274.30 L112.66,274.30 L111.97,274.27 L111.25,274.22 L110.49,274.15 L109.73,274.06 L108.96,273.97 L108.20,273.88 L107.46,273.79 L106.76,273.74 L106.11,273.70 L105.52,273.69 L105.00,273.70 L104.57,273.74 L104.21,273.79 L103.92,273.86 L103.69,273.93 L103.48,274.02 L103.30,274.12 L103.12,274.22 L102.94,274.33 L102.73,274.45 L102.48,274.56 L102.17,274.68 L101.80,274.80 L101.37,274.92 L100.91,275.05 L100.42,275.19 L99.91,275.33 L99.37,275.47 L98.81,275.62 L98.23,275.77 L97.63,275.92 L97.02,276.07 L96.39,276.22 L95.75,276.36 L95.10,276.50 L94.43,276.64 L93.73,276.78 L93.01,276.93 L92.27,277.08 L91.51,277.22 L90.74,277.37 L89.97,277.51 L89.19,277.64 L88.40,277.77 L87.63,277.89 L86.86,278.00 L86.10,278.10 L85.34,278.19 L84.57,278.27 L83.80,278.35 L83.01,278.42 L82.23,278.48 L81.46,278.54 L80.69,278.59 L79.93,278.63 L79.19,278.66 L78.47,278.68 L77.77,278.70 L77.10,278.70 L76.46,278.69 L75.86,278.66 L75.29,278.61 L74.74,278.54 L74.20,278.47 L73.67,278.40 L73.15,278.33 L72.63,278.26 L72.10,278.19 L71.55,278.14 L70.99,278.11 L70.40,278.10 L69.79,278.10 L69.16,278.12 L68.53,278.14 L67.89,278.17 L67.23,278.21 L66.58,278.26 L65.91,278.31 L65.25,278.37 L64.58,278.44 L63.92,278.52 L63.26,278.61 L62.60,278.70 L61.94,278.81 L61.28,278.95 L60.60,279.11 L59.93,279.28 L59.25,279.46 L58.58,279.64 L57.91,279.82 L57.25,279.99 L56.59,280.13 L55.95,280.25 L55.32,280.35 L54.70,280.40 L54.08,280.41 L53.44,280.39 L52.78,280.34 L52.13,280.26 L51.48,280.16 L50.86,280.06 L50.26,279.94 L49.69,279.83 L49.18,279.72 L48.72,279.63 L48.32,279.55 L48.00,279.50Z" fill="#7fbcbc" fill-opacity="0.38"/>
<path d="M48.00,277.30 C49.12,277.45 52.27,278.33 54.70,278.20 C57.13,278.07 59.98,276.88 62.60,276.50 C65.22,276.12 67.98,275.90 70.40,275.90 C72.82,275.90 74.48,276.50 77.10,276.50 C79.72,276.50 83.10,276.27 86.10,275.90 C89.10,275.53 92.48,274.85 95.10,274.30 C97.72,273.75 100.15,273.07 101.80,272.60 C103.45,272.13 103.08,271.62 105.00,271.50 C106.92,271.38 110.87,272.07 113.30,271.90 C115.73,271.73 117.68,271.78 119.60,270.50 C121.52,269.22 123.42,266.63 124.80,264.20 C126.18,261.77 126.87,259.02 127.90,255.90 C128.93,252.78 129.95,248.73 131.00,245.50 C132.05,242.27 132.80,240.08 134.20,236.50 C135.60,232.92 137.67,228.68 139.40,224.00 C141.13,219.32 142.87,212.92 144.60,208.40 C146.33,203.88 148.35,199.27 149.80,196.90 C151.25,194.53 151.73,194.20 153.30,194.20 C154.87,194.20 157.18,195.77 159.20,196.90 C161.22,198.03 163.67,199.42 165.40,201.00 C167.13,202.58 167.97,204.43 169.60,206.40 C171.23,208.37 173.20,211.47 175.20,212.80 C177.20,214.13 179.47,213.73 181.60,214.40 C183.73,215.07 186.13,215.93 188.00,216.80 C189.87,217.67 191.20,219.33 192.80,219.60 C194.40,219.87 196.27,219.37 197.60,218.40 C198.93,217.43 199.73,215.20 200.80,213.80 C201.87,212.40 203.47,210.63 204.00,210.00" fill="none" stroke="#1d7e84" stroke-width="1.15" stroke-linejoin="round"/>
<path d="M48.00,274.80 C49.12,274.77 52.27,274.60 54.70,274.60 C57.13,274.60 60.17,275.32 62.60,274.80 C65.03,274.28 67.25,272.25 69.30,271.50 C71.35,270.75 73.22,270.22 74.90,270.30 C76.58,270.38 77.90,271.07 79.40,272.00 C80.90,272.93 82.03,274.78 83.90,275.90 C85.77,277.02 88.18,277.98 90.60,278.70 C93.02,279.42 96.00,280.12 98.40,280.20 C100.80,280.28 102.52,279.43 105.00,279.20 C107.48,278.97 110.87,278.77 113.30,278.80 C115.73,278.83 117.52,278.82 119.60,279.40 C121.68,279.98 123.55,281.43 125.80,282.30 C128.05,283.17 130.67,284.67 133.10,284.60 C135.53,284.53 138.13,283.22 140.40,281.90 C142.67,280.58 144.78,279.30 146.70,276.70 C148.62,274.10 150.35,269.60 151.90,266.30 C153.45,263.00 154.72,258.98 156.00,256.90 C157.28,254.82 158.20,254.15 159.60,253.80 C161.00,253.45 162.73,254.00 164.40,254.80 C166.07,255.60 167.70,257.20 169.60,258.60 C171.50,260.00 173.72,261.92 175.80,263.20 C177.88,264.48 180.02,266.30 182.10,266.30 C184.18,266.30 186.22,264.00 188.30,263.20 C190.38,262.40 192.52,261.50 194.60,261.50 C196.68,261.50 199.23,262.78 200.80,263.20 C202.37,263.62 203.47,263.87 204.00,264.00" fill="none" stroke="#f7a935" stroke-width="1.15" stroke-linejoin="round"/>
<path d="M48.00,271.50 C49.12,271.77 52.27,272.55 54.70,273.10 C57.13,273.65 59.98,274.33 62.60,274.80 C65.22,275.27 67.98,275.62 70.40,275.90 C72.82,276.18 74.85,276.22 77.10,276.50 C79.35,276.78 81.65,277.60 83.90,277.60 C86.15,277.60 88.18,277.05 90.60,276.50 C93.02,275.95 96.00,275.13 98.40,274.30 C100.80,273.47 102.52,271.97 105.00,271.50 C107.48,271.03 110.87,271.40 113.30,271.50 C115.73,271.60 117.52,272.03 119.60,272.10 C121.68,272.17 123.90,272.87 125.80,271.90 C127.70,270.93 128.92,268.45 131.00,266.30 C133.08,264.15 135.87,261.72 138.30,259.00 C140.73,256.28 143.65,252.83 145.60,250.00 C147.55,247.17 148.53,244.25 150.00,242.00 C151.47,239.75 152.60,237.90 154.40,236.50 C156.20,235.10 158.93,235.02 160.80,233.60 C162.67,232.18 163.73,229.87 165.60,228.00 C167.47,226.13 169.87,223.60 172.00,222.40 C174.13,221.20 176.53,221.47 178.40,220.80 C180.27,220.13 181.60,218.90 183.20,218.40 C184.80,217.90 186.40,217.60 188.00,217.80 C189.60,218.00 191.20,219.53 192.80,219.60 C194.40,219.67 196.27,219.13 197.60,218.20 C198.93,217.27 199.73,215.37 200.80,214.00 C201.87,212.63 203.47,210.67 204.00,210.00" fill="none" stroke="#5f83c5" stroke-width="1.70" stroke-linejoin="round"/>
<path d="M48.00,273.10 C49.12,273.35 52.27,274.13 54.70,274.60 C57.13,275.07 59.98,275.72 62.60,275.90 C65.22,276.08 67.98,275.60 70.40,275.70 C72.82,275.80 74.85,276.08 77.10,276.50 C79.35,276.92 81.65,278.10 83.90,278.20 C86.15,278.30 88.37,277.67 90.60,277.10 C92.83,276.53 95.07,275.62 97.30,274.80 C99.53,273.98 101.33,272.58 104.00,272.20 C106.67,271.82 110.70,272.45 113.30,272.50 C115.90,272.55 117.52,272.57 119.60,272.50 C121.68,272.43 123.90,273.13 125.80,272.10 C127.70,271.07 128.92,268.55 131.00,266.30 C133.08,264.05 135.60,261.32 138.30,258.60 C141.00,255.88 144.52,252.17 147.20,250.00 C149.88,247.83 152.40,247.27 154.40,245.60 C156.40,243.93 157.33,242.53 159.20,240.00 C161.07,237.47 163.47,233.33 165.60,230.40 C167.73,227.47 170.13,224.50 172.00,222.40 C173.87,220.30 175.07,218.82 176.80,217.80 C178.53,216.78 180.53,216.33 182.40,216.30 C184.27,216.27 186.00,216.98 188.00,217.60 C190.00,218.22 192.27,220.27 194.40,220.00 C196.53,219.73 199.20,217.17 200.80,216.00 C202.40,214.83 203.47,213.50 204.00,213.00" fill="none" stroke="#ee7078" stroke-width="1.70" stroke-linejoin="round"/>
</g>
<line x1="107.45" y1="174.30" x2="107.45" y2="294.90" stroke="#555" stroke-width="0.9" stroke-dasharray="3,2.6"/>
<rect x="48.50" y="174.30" width="152.80" height="120.60" fill="none" stroke="#cfcfcf" stroke-width="1"/>
<path d="M48.50,174.30V294.90H201.30" fill="none" stroke="#b0b0b0" stroke-width="1"/>
<path d="M60.55,294.90v-1.6M60.55,174.30v1.6M84.00,294.90v-1.6M84.00,174.30v1.6M107.45,294.90v-1.6M107.45,174.30v1.6M130.90,294.90v-1.6M130.90,174.30v1.6M154.35,294.90v-1.6M154.35,174.30v1.6M177.80,294.90v-1.6M177.80,174.30v1.6M48.50,288.32h1.6M201.30,288.32h-1.6M48.50,276.20h1.6M201.30,276.20h-1.6M48.50,264.07h1.6M201.30,264.07h-1.6M48.50,251.95h1.6M201.30,251.95h-1.6M48.50,239.82h1.6M201.30,239.82h-1.6M48.50,227.70h1.6M201.30,227.70h-1.6M48.50,215.57h1.6M201.30,215.57h-1.6M48.50,203.45h1.6M201.30,203.45h-1.6M48.50,191.32h1.6M201.30,191.32h-1.6M48.50,179.20h1.6M201.30,179.20h-1.6" stroke="#a8a8a8" stroke-width="0.9" fill="none"/>
<text x="47.80" y="291.07" font-size="7.80" text-anchor="end" textLength="15.71" lengthAdjust="spacingAndGlyphs">-0.05</text>
<text x="44.00" y="278.95" font-size="7.80" text-anchor="end" textLength="3.83" lengthAdjust="spacingAndGlyphs">0</text>
<text x="47.80" y="266.82" font-size="7.80" text-anchor="end" textLength="13.42" lengthAdjust="spacingAndGlyphs">0.05</text>
<text x="47.80" y="254.70" font-size="7.80" text-anchor="end" textLength="9.58" lengthAdjust="spacingAndGlyphs">0.1</text>
<text x="47.80" y="242.57" font-size="7.80" text-anchor="end" textLength="13.42" lengthAdjust="spacingAndGlyphs">0.15</text>
<text x="47.80" y="230.45" font-size="7.80" text-anchor="end" textLength="9.58" lengthAdjust="spacingAndGlyphs">0.2</text>
<text x="47.80" y="218.32" font-size="7.80" text-anchor="end" textLength="13.42" lengthAdjust="spacingAndGlyphs">0.25</text>
<text x="47.80" y="206.20" font-size="7.80" text-anchor="end" textLength="9.58" lengthAdjust="spacingAndGlyphs">0.3</text>
<text x="47.80" y="194.07" font-size="7.80" text-anchor="end" textLength="13.42" lengthAdjust="spacingAndGlyphs">0.35</text>
<text x="47.80" y="181.95" font-size="7.80" text-anchor="end" textLength="9.58" lengthAdjust="spacingAndGlyphs">0.4</text>
<text x="60.85" y="302.40" font-size="7.30" text-anchor="middle" textLength="14.01" lengthAdjust="spacingAndGlyphs">-200</text>
<text x="84.30" y="302.40" font-size="7.30" text-anchor="middle" textLength="14.01" lengthAdjust="spacingAndGlyphs">-100</text>
<text x="107.75" y="302.40" font-size="7.30" text-anchor="middle" textLength="3.89" lengthAdjust="spacingAndGlyphs">0</text>
<text x="131.20" y="302.40" font-size="7.30" text-anchor="middle" textLength="11.68" lengthAdjust="spacingAndGlyphs">100</text>
<text x="154.65" y="302.40" font-size="7.30" text-anchor="middle" textLength="11.68" lengthAdjust="spacingAndGlyphs">200</text>
<text x="178.10" y="302.40" font-size="7.30" text-anchor="middle" textLength="11.68" lengthAdjust="spacingAndGlyphs">300</text>
<text x="108.90" y="309.50" font-size="7.00" textLength="31.20" lengthAdjust="spacingAndGlyphs">Time (ms)</text>
<text x="52.30" y="170.20" font-size="7.00" font-weight="bold" class="nb">Array 3 + 4 + 5</text>
</g>
<g>
<clipPath id="clipP4"><rect x="223.10" y="174.30" width="152.40" height="120.40"/></clipPath>
<g clip-path="url(#clipP4)">
<path d="M223.70,280.00 L224.05,280.03 L224.48,280.08 L224.97,280.14 L225.53,280.20 L226.14,280.27 L226.79,280.34 L227.48,280.41 L228.18,280.48 L228.89,280.54 L229.61,280.59 L230.31,280.64 L231.00,280.67 L231.69,280.70 L232.39,280.71 L233.11,280.73 L233.84,280.73 L234.59,280.74 L235.34,280.73 L236.10,280.73 L236.87,280.72 L237.63,280.70 L238.39,280.68 L239.15,280.66 L239.90,280.64 L240.65,280.61 L241.41,280.56 L242.17,280.51 L242.93,280.44 L243.70,280.38 L244.46,280.31 L245.22,280.24 L245.98,280.19 L246.73,280.14 L247.46,280.11 L248.19,280.10 L248.90,280.11 L249.60,280.15 L250.28,280.21 L250.95,280.29 L251.62,280.39 L252.27,280.50 L252.92,280.62 L253.57,280.73 L254.21,280.85 L254.86,280.96 L255.50,281.05 L256.15,281.13 L256.80,281.19 L257.45,281.23 L258.11,281.26 L258.76,281.30 L259.41,281.32 L260.06,281.34 L260.71,281.35 L261.36,281.35 L262.00,281.33 L262.65,281.31 L263.30,281.27 L263.95,281.22 L264.60,281.16 L265.25,281.07 L265.90,280.97 L266.55,280.84 L267.20,280.70 L267.84,280.54 L268.49,280.38 L269.14,280.22 L269.79,280.05 L270.44,279.88 L271.09,279.72 L271.75,279.57 L272.40,279.43 L273.05,279.30 L273.71,279.16 L274.37,279.01 L275.02,278.87 L275.68,278.73 L276.34,278.59 L277.00,278.46 L277.66,278.34 L278.32,278.24 L278.98,278.14 L279.64,278.06 L280.30,278.01 L280.96,277.97 L281.62,277.95 L282.28,277.95 L282.94,277.96 L283.61,277.98 L284.27,278.01 L284.93,278.04 L285.60,278.08 L286.27,278.12 L286.94,278.16 L287.62,278.19 L288.30,278.22 L289.00,278.25 L289.71,278.29 L290.45,278.34 L291.19,278.40 L291.93,278.46 L292.68,278.51 L293.41,278.56 L294.12,278.59 L294.82,278.61 L295.48,278.60 L296.11,278.57 L296.70,278.51 L297.25,278.43 L297.75,278.34 L298.23,278.24 L298.67,278.12 L299.09,277.99 L299.50,277.84 L299.90,277.66 L300.29,277.46 L300.67,277.23 L301.07,276.97 L301.48,276.68 L301.90,276.34 L302.33,275.96 L302.76,275.52 L303.18,275.04 L303.60,274.52 L304.02,273.97 L304.44,273.40 L304.86,272.83 L305.29,272.24 L305.73,271.67 L306.18,271.10 L306.63,270.57 L307.10,270.06 L307.58,269.58 L308.06,269.11 L308.55,268.64 L309.05,268.18 L309.56,267.72 L310.07,267.27 L310.59,266.83 L311.11,266.40 L311.65,265.97 L312.19,265.55 L312.74,265.14 L313.30,264.73 L313.87,264.33 L314.45,263.93 L315.05,263.55 L315.65,263.16 L316.26,262.79 L316.88,262.42 L317.50,262.06 L318.13,261.71 L318.75,261.36 L319.37,261.03 L319.99,260.70 L320.60,260.37 L321.22,260.06 L321.85,259.77 L322.50,259.48 L323.15,259.21 L323.80,258.94 L324.44,258.67 L325.08,258.42 L325.70,258.16 L326.29,257.90 L326.86,257.65 L327.40,257.38 L327.90,257.12 L328.35,256.86 L328.76,256.63 L329.12,256.42 L329.46,256.21 L329.77,256.00 L330.07,255.79 L330.37,255.56 L330.67,255.30 L330.98,255.02 L331.32,254.71 L331.69,254.34 L332.10,253.93 L332.55,253.45 L333.02,252.91 L333.51,252.32 L334.01,251.69 L334.54,251.03 L335.07,250.35 L335.61,249.66 L336.15,248.98 L336.70,248.31 L337.24,247.66 L337.77,247.06 L338.30,246.50 L338.82,245.97 L339.35,245.46 L339.87,244.97 L340.40,244.49 L340.92,244.03 L341.45,243.57 L341.98,243.14 L342.50,242.72 L343.03,242.31 L343.55,241.91 L344.08,241.53 L344.60,241.16 L345.12,240.81 L345.64,240.46 L346.15,240.12 L346.67,239.80 L347.19,239.49 L347.70,239.20 L348.21,238.92 L348.73,238.66 L349.25,238.42 L349.76,238.20 L350.28,238.01 L350.80,237.83 L351.32,237.68 L351.85,237.56 L352.37,237.46 L352.90,237.39 L353.42,237.34 L353.95,237.31 L354.48,237.29 L355.00,237.29 L355.53,237.30 L356.05,237.32 L356.58,237.36 L357.10,237.40 L357.62,237.46 L358.15,237.55 L358.68,237.65 L359.21,237.78 L359.74,237.92 L360.27,238.06 L360.79,238.21 L361.31,238.37 L361.82,238.52 L362.33,238.66 L362.82,238.79 L363.30,238.90 L363.77,239.01 L364.24,239.13 L364.69,239.25 L365.14,239.37 L365.59,239.49 L366.02,239.60 L366.45,239.70 L366.88,239.78 L367.29,239.85 L367.70,239.89 L368.10,239.91 L368.50,239.90 L368.89,239.85 L369.27,239.77 L369.65,239.66 L370.01,239.52 L370.38,239.36 L370.73,239.19 L371.08,239.01 L371.42,238.84 L371.75,238.67 L372.08,238.51 L372.39,238.37 L372.70,238.25 L373.00,238.15 L373.29,238.06 L373.57,237.98 L373.85,237.91 L374.12,237.84 L374.38,237.78 L374.63,237.72 L374.87,237.66 L375.11,237.60 L375.35,237.54 L375.58,237.47 L375.80,237.40 L376.02,237.32 L376.24,237.24 L376.46,237.16 L376.68,237.07 L376.89,236.98 L377.09,236.90 L377.28,236.81 L377.46,236.74 L377.63,236.66 L377.77,236.60 L377.90,236.54 L378.00,236.50 L378.00,245.50 L377.90,245.54 L377.77,245.60 L377.63,245.66 L377.46,245.74 L377.28,245.81 L377.09,245.90 L376.89,245.98 L376.68,246.07 L376.46,246.16 L376.24,246.24 L376.02,246.32 L375.80,246.40 L375.58,246.47 L375.35,246.54 L375.11,246.60 L374.87,246.66 L374.63,246.72 L374.38,246.78 L374.12,246.84 L373.85,246.91 L373.57,246.98 L373.29,247.06 L373.00,247.15 L372.70,247.25 L372.39,247.37 L372.08,247.51 L371.75,247.67 L371.42,247.84 L371.08,248.01 L370.73,248.19 L370.38,248.36 L370.01,248.52 L369.65,248.66 L369.27,248.77 L368.89,248.85 L368.50,248.90 L368.10,248.91 L367.70,248.89 L367.29,248.85 L366.88,248.78 L366.45,248.70 L366.02,248.60 L365.59,248.49 L365.14,248.37 L364.69,248.25 L364.24,248.13 L363.77,248.01 L363.30,247.90 L362.82,247.79 L362.33,247.66 L361.82,247.52 L361.31,247.37 L360.79,247.21 L360.27,247.06 L359.74,246.92 L359.21,246.78 L358.68,246.65 L358.15,246.55 L357.62,246.46 L357.10,246.40 L356.58,246.36 L356.05,246.32 L355.53,246.30 L355.00,246.29 L354.48,246.29 L353.95,246.31 L353.42,246.34 L352.90,246.39 L352.37,246.46 L351.85,246.54 L351.32,246.64 L350.80,246.77 L350.28,246.92 L349.76,247.09 L349.25,247.29 L348.73,247.51 L348.21,247.75 L347.70,248.00 L347.19,248.27 L346.67,248.56 L346.15,248.86 L345.64,249.18 L345.12,249.50 L344.60,249.84 L344.08,250.18 L343.55,250.54 L343.03,250.91 L342.50,251.30 L341.98,251.70 L341.45,252.11 L340.92,252.54 L340.40,252.98 L339.87,253.44 L339.35,253.91 L338.82,254.40 L338.30,254.90 L337.77,255.44 L337.24,256.02 L336.70,256.64 L336.15,257.29 L335.61,257.95 L335.07,258.61 L334.54,259.27 L334.01,259.91 L333.51,260.52 L333.02,261.09 L332.55,261.61 L332.10,262.07 L331.69,262.47 L331.32,262.81 L330.98,263.12 L330.67,263.38 L330.37,263.62 L330.07,263.84 L329.77,264.04 L329.46,264.24 L329.12,264.43 L328.76,264.63 L328.35,264.85 L327.90,265.08 L327.40,265.33 L326.86,265.56 L326.29,265.80 L325.70,266.03 L325.08,266.26 L324.44,266.49 L323.80,266.72 L323.15,266.96 L322.50,267.21 L321.85,267.47 L321.22,267.74 L320.60,268.03 L319.99,268.32 L319.37,268.62 L318.75,268.94 L318.13,269.25 L317.50,269.58 L316.88,269.92 L316.26,270.26 L315.65,270.61 L315.05,270.96 L314.45,271.32 L313.87,271.69 L313.30,272.07 L312.74,272.45 L312.19,272.84 L311.65,273.24 L311.11,273.65 L310.59,274.06 L310.07,274.48 L309.56,274.90 L309.05,275.34 L308.55,275.78 L308.06,276.22 L307.58,276.68 L307.10,277.14 L306.63,277.62 L306.18,278.14 L305.73,278.68 L305.29,279.24 L304.86,279.81 L304.44,280.38 L304.02,280.94 L303.60,281.48 L303.18,281.99 L302.76,282.46 L302.33,282.89 L301.90,283.26 L301.48,283.58 L301.07,283.86 L300.67,284.11 L300.29,284.33 L299.90,284.52 L299.50,284.69 L299.09,284.83 L298.67,284.95 L298.23,285.06 L297.75,285.15 L297.25,285.22 L296.70,285.29 L296.11,285.34 L295.48,285.35 L294.82,285.34 L294.12,285.31 L293.41,285.25 L292.68,285.19 L291.93,285.12 L291.19,285.04 L290.45,284.96 L289.71,284.89 L289.00,284.83 L288.30,284.78 L287.62,284.74 L286.94,284.69 L286.27,284.64 L285.60,284.58 L284.93,284.52 L284.27,284.47 L283.61,284.42 L282.94,284.38 L282.28,284.36 L281.62,284.35 L280.96,284.36 L280.30,284.39 L279.64,284.45 L278.98,284.52 L278.32,284.61 L277.66,284.72 L277.00,284.83 L276.34,284.96 L275.68,285.09 L275.02,285.23 L274.37,285.36 L273.71,285.50 L273.05,285.64 L272.40,285.77 L271.75,285.90 L271.09,286.05 L270.44,286.21 L269.79,286.37 L269.14,286.53 L268.49,286.69 L267.84,286.85 L267.20,287.00 L266.55,287.14 L265.90,287.26 L265.25,287.36 L264.60,287.44 L263.95,287.50 L263.30,287.55 L262.65,287.58 L262.00,287.60 L261.36,287.61 L260.71,287.60 L260.06,287.59 L259.41,287.57 L258.76,287.54 L258.11,287.50 L257.45,287.46 L256.80,287.41 L256.15,287.35 L255.50,287.27 L254.86,287.17 L254.21,287.06 L253.57,286.94 L252.92,286.82 L252.27,286.70 L251.62,286.59 L250.95,286.48 L250.28,286.40 L249.60,286.33 L248.90,286.29 L248.19,286.27 L247.46,286.28 L246.73,286.30 L245.98,286.34 L245.22,286.40 L244.46,286.45 L243.70,286.52 L242.93,286.58 L242.17,286.64 L241.41,286.69 L240.65,286.73 L239.90,286.76 L239.15,286.77 L238.39,286.79 L237.63,286.80 L236.87,286.81 L236.10,286.82 L235.34,286.82 L234.59,286.81 L233.84,286.81 L233.11,286.80 L232.39,286.78 L231.69,286.76 L231.00,286.73 L230.31,286.69 L229.61,286.64 L228.89,286.58 L228.18,286.51 L227.48,286.44 L226.79,286.36 L226.14,286.29 L225.53,286.22 L224.97,286.15 L224.48,286.09 L224.05,286.04 L223.70,286.00Z" fill="#f4a7b0" fill-opacity="0.32"/>
<path d="M223.70,277.90 L224.05,277.93 L224.49,277.98 L225.00,278.03 L225.57,278.09 L226.20,278.15 L226.86,278.22 L227.55,278.29 L228.26,278.36 L228.97,278.44 L229.67,278.51 L230.35,278.58 L231.00,278.65 L231.64,278.73 L232.30,278.81 L232.97,278.90 L233.64,279.00 L234.33,279.10 L235.01,279.20 L235.68,279.28 L236.34,279.36 L236.99,279.43 L237.62,279.48 L238.23,279.50 L238.80,279.50 L239.34,279.48 L239.86,279.42 L240.35,279.35 L240.83,279.25 L241.29,279.15 L241.74,279.03 L242.18,278.91 L242.61,278.78 L243.05,278.67 L243.49,278.55 L243.94,278.45 L244.40,278.37 L244.87,278.29 L245.33,278.20 L245.80,278.10 L246.27,278.00 L246.73,277.91 L247.20,277.82 L247.67,277.75 L248.13,277.69 L248.60,277.66 L249.07,277.65 L249.53,277.68 L250.00,277.74 L250.46,277.84 L250.92,277.99 L251.37,278.17 L251.82,278.38 L252.27,278.61 L252.72,278.86 L253.18,279.12 L253.64,279.38 L254.12,279.64 L254.60,279.88 L255.09,280.10 L255.60,280.30 L256.12,280.48 L256.67,280.66 L257.22,280.84 L257.78,281.00 L258.35,281.17 L258.93,281.33 L259.51,281.48 L260.10,281.63 L260.68,281.77 L261.26,281.91 L261.83,282.04 L262.40,282.16 L262.96,282.28 L263.52,282.40 L264.08,282.51 L264.64,282.61 L265.20,282.71 L265.76,282.81 L266.31,282.90 L266.87,282.98 L267.43,283.05 L267.98,283.12 L268.54,283.17 L269.10,283.22 L269.67,283.26 L270.25,283.29 L270.83,283.31 L271.43,283.32 L272.02,283.33 L272.61,283.33 L273.19,283.32 L273.75,283.31 L274.30,283.28 L274.83,283.26 L275.33,283.22 L275.80,283.18 L276.22,283.13 L276.60,283.06 L276.93,282.98 L277.23,282.89 L277.52,282.79 L277.80,282.69 L278.09,282.59 L278.39,282.49 L278.72,282.39 L279.09,282.30 L279.51,282.22 L280.00,282.15 L280.55,282.10 L281.17,282.04 L281.83,282.00 L282.54,281.95 L283.27,281.91 L284.02,281.88 L284.78,281.85 L285.53,281.82 L286.27,281.79 L286.98,281.76 L287.67,281.73 L288.30,281.70 L288.90,281.67 L289.47,281.62 L290.02,281.56 L290.55,281.50 L291.07,281.44 L291.58,281.39 L292.08,281.35 L292.58,281.32 L293.08,281.32 L293.58,281.33 L294.08,281.38 L294.60,281.47 L295.12,281.59 L295.63,281.75 L296.13,281.95 L296.63,282.17 L297.13,282.42 L297.64,282.68 L298.14,282.94 L298.66,283.21 L299.18,283.46 L299.70,283.71 L300.25,283.93 L300.80,284.13 L301.37,284.31 L301.95,284.51 L302.55,284.72 L303.15,284.92 L303.76,285.11 L304.38,285.29 L305.00,285.46 L305.63,285.59 L306.25,285.70 L306.87,285.77 L307.49,285.79 L308.10,285.77 L308.71,285.69 L309.33,285.57 L309.95,285.39 L310.57,285.18 L311.19,284.94 L311.81,284.68 L312.43,284.40 L313.04,284.11 L313.65,283.82 L314.24,283.53 L314.83,283.25 L315.40,282.99 L315.96,282.76 L316.51,282.54 L317.05,282.33 L317.58,282.12 L318.10,281.91 L318.62,281.70 L319.13,281.46 L319.64,281.21 L320.16,280.92 L320.67,280.60 L321.18,280.24 L321.70,279.83 L322.22,279.37 L322.75,278.87 L323.28,278.33 L323.81,277.76 L324.34,277.16 L324.87,276.54 L325.39,275.89 L325.91,275.23 L326.42,274.55 L326.93,273.86 L327.42,273.16 L327.90,272.46 L328.37,271.72 L328.84,270.91 L329.29,270.05 L329.74,269.15 L330.19,268.24 L330.62,267.34 L331.05,266.46 L331.48,265.61 L331.89,264.83 L332.30,264.12 L332.70,263.51 L333.10,263.00 L333.48,262.61 L333.85,262.30 L334.20,262.07 L334.54,261.91 L334.87,261.80 L335.20,261.74 L335.53,261.72 L335.86,261.74 L336.20,261.77 L336.55,261.82 L336.92,261.87 L337.30,261.91 L337.69,261.96 L338.07,262.04 L338.46,262.14 L338.84,262.27 L339.24,262.41 L339.64,262.58 L340.06,262.77 L340.50,262.97 L340.96,263.18 L341.44,263.41 L341.95,263.65 L342.50,263.90 L343.09,264.17 L343.73,264.47 L344.40,264.79 L345.11,265.13 L345.84,265.49 L346.58,265.85 L347.33,266.23 L348.07,266.60 L348.79,266.97 L349.50,267.33 L350.17,267.68 L350.80,268.02 L351.40,268.36 L351.97,268.72 L352.52,269.10 L353.05,269.48 L353.57,269.87 L354.08,270.24 L354.58,270.59 L355.08,270.92 L355.58,271.20 L356.08,271.44 L356.58,271.63 L357.10,271.75 L357.62,271.81 L358.14,271.80 L358.65,271.75 L359.17,271.65 L359.69,271.52 L360.20,271.35 L360.71,271.16 L361.23,270.96 L361.75,270.74 L362.26,270.52 L362.78,270.31 L363.30,270.10 L363.82,269.88 L364.35,269.62 L364.87,269.33 L365.40,269.02 L365.92,268.70 L366.45,268.38 L366.98,268.07 L367.50,267.78 L368.03,267.52 L368.55,267.30 L369.08,267.12 L369.60,267.00 L370.13,266.94 L370.69,266.94 L371.25,266.97 L371.82,267.05 L372.39,267.15 L372.96,267.27 L373.51,267.41 L374.03,267.55 L374.53,267.69 L375.00,267.81 L375.42,267.92 L375.80,268.00 L376.13,268.06 L376.42,268.12 L376.68,268.17 L376.91,268.22 L377.11,268.27 L377.29,268.31 L377.44,268.35 L377.58,268.39 L377.70,268.42 L377.81,268.45 L377.91,268.48 L378.00,268.50 L378.00,275.50 L377.91,275.48 L377.81,275.45 L377.70,275.42 L377.58,275.39 L377.44,275.35 L377.29,275.31 L377.11,275.27 L376.91,275.22 L376.68,275.17 L376.42,275.12 L376.13,275.06 L375.80,275.00 L375.42,274.92 L375.00,274.81 L374.53,274.69 L374.03,274.55 L373.51,274.41 L372.96,274.27 L372.39,274.15 L371.82,274.05 L371.25,273.97 L370.69,273.94 L370.13,273.94 L369.60,274.00 L369.08,274.12 L368.55,274.30 L368.03,274.52 L367.50,274.78 L366.98,275.07 L366.45,275.38 L365.92,275.70 L365.40,276.02 L364.87,276.33 L364.35,276.62 L363.82,276.88 L363.30,277.10 L362.78,277.31 L362.26,277.52 L361.75,277.74 L361.23,277.96 L360.71,278.16 L360.20,278.35 L359.69,278.52 L359.17,278.65 L358.65,278.75 L358.14,278.80 L357.62,278.81 L357.10,278.75 L356.58,278.63 L356.08,278.44 L355.58,278.20 L355.08,277.92 L354.58,277.59 L354.08,277.24 L353.57,276.87 L353.05,276.48 L352.52,276.10 L351.97,275.71 L351.40,275.34 L350.80,274.98 L350.17,274.64 L349.50,274.27 L348.79,273.89 L348.07,273.51 L347.33,273.12 L346.58,272.73 L345.84,272.35 L345.11,271.98 L344.40,271.63 L343.73,271.29 L343.09,270.98 L342.50,270.70 L341.95,270.43 L341.44,270.18 L340.96,269.94 L340.50,269.72 L340.06,269.51 L339.64,269.31 L339.24,269.14 L338.84,268.98 L338.46,268.85 L338.07,268.74 L337.69,268.65 L337.30,268.59 L336.92,268.54 L336.55,268.48 L336.20,268.43 L335.86,268.39 L335.53,268.37 L335.20,268.38 L334.87,268.43 L334.54,268.53 L334.20,268.69 L333.85,268.91 L333.48,269.21 L333.10,269.60 L332.70,270.09 L332.30,270.70 L331.89,271.40 L331.48,272.17 L331.05,273.01 L330.62,273.88 L330.19,274.77 L329.74,275.67 L329.29,276.56 L328.84,277.41 L328.37,278.21 L327.90,278.94 L327.42,279.63 L326.93,280.32 L326.42,281.00 L325.91,281.66 L325.39,282.32 L324.87,282.95 L324.34,283.56 L323.81,284.15 L323.28,284.71 L322.75,285.24 L322.22,285.73 L321.70,286.17 L321.18,286.58 L320.67,286.93 L320.16,287.24 L319.64,287.51 L319.13,287.76 L318.62,287.98 L318.10,288.19 L317.58,288.38 L317.05,288.58 L316.51,288.77 L315.96,288.98 L315.40,289.21 L314.83,289.45 L314.24,289.72 L313.65,290.00 L313.04,290.27 L312.43,290.55 L311.81,290.82 L311.19,291.07 L310.57,291.30 L309.95,291.49 L309.33,291.65 L308.71,291.77 L308.10,291.83 L307.49,291.84 L306.87,291.80 L306.25,291.72 L305.63,291.60 L305.00,291.45 L304.38,291.28 L303.76,291.09 L303.15,290.89 L302.55,290.68 L301.95,290.47 L301.37,290.27 L300.80,290.07 L300.25,289.87 L299.70,289.64 L299.18,289.39 L298.66,289.13 L298.14,288.86 L297.64,288.58 L297.13,288.32 L296.63,288.07 L296.13,287.84 L295.63,287.63 L295.12,287.46 L294.60,287.33 L294.08,287.25 L293.58,287.19 L293.08,287.17 L292.58,287.17 L292.08,287.19 L291.58,287.22 L291.07,287.27 L290.55,287.32 L290.02,287.38 L289.47,287.43 L288.90,287.47 L288.30,287.50 L287.67,287.52 L286.98,287.54 L286.27,287.56 L285.53,287.58 L284.78,287.60 L284.02,287.62 L283.27,287.65 L282.54,287.68 L281.83,287.71 L281.17,287.75 L280.55,287.79 L280.00,287.85 L279.51,287.91 L279.09,287.98 L278.72,288.07 L278.39,288.16 L278.09,288.26 L277.80,288.36 L277.52,288.45 L277.23,288.55 L276.93,288.63 L276.60,288.71 L276.22,288.77 L275.80,288.82 L275.33,288.86 L274.83,288.89 L274.30,288.91 L273.75,288.92 L273.19,288.93 L272.61,288.93 L272.02,288.93 L271.43,288.91 L270.83,288.89 L270.25,288.86 L269.67,288.83 L269.10,288.78 L268.54,288.73 L267.98,288.66 L267.43,288.59 L266.87,288.51 L266.31,288.42 L265.76,288.33 L265.20,288.23 L264.64,288.12 L264.08,288.01 L263.52,287.89 L262.96,287.77 L262.40,287.64 L261.83,287.51 L261.26,287.37 L260.68,287.23 L260.10,287.08 L259.51,286.92 L258.93,286.76 L258.35,286.60 L257.78,286.43 L257.22,286.25 L256.67,286.07 L256.12,285.89 L255.60,285.70 L255.09,285.49 L254.60,285.26 L254.12,285.01 L253.64,284.75 L253.18,284.49 L252.72,284.22 L252.27,283.97 L251.82,283.73 L251.37,283.51 L250.92,283.33 L250.46,283.17 L250.00,283.06 L249.53,283.00 L249.07,282.97 L248.60,282.97 L248.13,283.00 L247.67,283.05 L247.20,283.12 L246.73,283.20 L246.27,283.29 L245.80,283.38 L245.33,283.47 L244.87,283.55 L244.40,283.63 L243.94,283.71 L243.49,283.80 L243.05,283.91 L242.61,284.02 L242.18,284.14 L241.74,284.26 L241.29,284.37 L240.83,284.47 L240.35,284.56 L239.86,284.63 L239.34,284.68 L238.80,284.70 L238.23,284.69 L237.62,284.65 L236.99,284.60 L236.34,284.53 L235.68,284.44 L235.01,284.34 L234.33,284.24 L233.64,284.13 L232.97,284.03 L232.30,283.92 L231.64,283.83 L231.00,283.75 L230.35,283.67 L229.67,283.59 L228.97,283.51 L228.26,283.43 L227.55,283.35 L226.86,283.27 L226.20,283.19 L225.57,283.12 L225.00,283.05 L224.49,282.99 L224.05,282.94 L223.70,282.90Z" fill="#fbc884" fill-opacity="0.40"/>
<path d="M223.70,278.50 L224.05,278.61 L224.48,278.75 L224.97,278.91 L225.53,279.10 L226.14,279.30 L226.79,279.51 L227.48,279.73 L228.18,279.94 L228.89,280.15 L229.61,280.34 L230.31,280.52 L231.00,280.67 L231.69,280.81 L232.39,280.94 L233.11,281.06 L233.84,281.18 L234.59,281.29 L235.34,281.40 L236.10,281.49 L236.87,281.58 L237.63,281.66 L238.39,281.73 L239.15,281.79 L239.90,281.84 L240.65,281.88 L241.42,281.91 L242.20,281.92 L242.98,281.92 L243.76,281.91 L244.54,281.90 L245.31,281.88 L246.07,281.87 L246.81,281.85 L247.53,281.83 L248.23,281.82 L248.90,281.81 L249.53,281.82 L250.12,281.83 L250.68,281.85 L251.22,281.87 L251.74,281.89 L252.25,281.91 L252.76,281.92 L253.28,281.92 L253.82,281.91 L254.38,281.89 L254.97,281.85 L255.60,281.79 L256.27,281.70 L256.97,281.60 L257.69,281.48 L258.43,281.34 L259.19,281.19 L259.96,281.03 L260.73,280.87 L261.51,280.70 L262.30,280.53 L263.07,280.37 L263.84,280.21 L264.60,280.06 L265.36,279.91 L266.13,279.77 L266.90,279.63 L267.69,279.48 L268.47,279.34 L269.24,279.19 L270.01,279.05 L270.77,278.90 L271.51,278.76 L272.23,278.62 L272.93,278.47 L273.60,278.33 L274.23,278.18 L274.83,278.02 L275.41,277.85 L275.96,277.67 L276.49,277.50 L277.01,277.33 L277.53,277.17 L278.06,277.02 L278.59,276.88 L279.13,276.77 L279.70,276.67 L280.30,276.61 L280.92,276.57 L281.55,276.56 L282.20,276.57 L282.86,276.59 L283.52,276.62 L284.19,276.67 L284.87,276.71 L285.56,276.76 L286.24,276.80 L286.93,276.83 L287.62,276.84 L288.30,276.83 L289.00,276.80 L289.73,276.78 L290.47,276.74 L291.23,276.70 L291.99,276.66 L292.74,276.61 L293.48,276.55 L294.20,276.48 L294.89,276.40 L295.54,276.31 L296.15,276.21 L296.70,276.09 L297.19,275.98 L297.62,275.89 L298.00,275.80 L298.34,275.71 L298.66,275.60 L298.95,275.48 L299.23,275.34 L299.51,275.16 L299.80,274.93 L300.10,274.65 L300.43,274.31 L300.80,273.90 L301.19,273.42 L301.59,272.87 L302.00,272.27 L302.41,271.61 L302.83,270.91 L303.26,270.17 L303.70,269.40 L304.14,268.61 L304.60,267.80 L305.06,266.99 L305.52,266.18 L306.00,265.39 L306.49,264.57 L307.00,263.72 L307.52,262.85 L308.06,261.95 L308.60,261.04 L309.15,260.11 L309.70,259.19 L310.24,258.28 L310.78,257.38 L311.30,256.51 L311.81,255.66 L312.30,254.85 L312.77,254.08 L313.23,253.34 L313.68,252.62 L314.11,251.93 L314.54,251.25 L314.97,250.58 L315.39,249.92 L315.81,249.25 L316.23,248.57 L316.65,247.88 L317.07,247.17 L317.50,246.44 L317.93,245.68 L318.37,244.91 L318.80,244.13 L319.23,243.33 L319.67,242.53 L320.10,241.72 L320.53,240.91 L320.97,240.10 L321.40,239.29 L321.83,238.49 L322.27,237.70 L322.70,236.93 L323.13,236.16 L323.55,235.37 L323.97,234.58 L324.39,233.79 L324.81,233.00 L325.23,232.23 L325.66,231.46 L326.09,230.72 L326.52,230.00 L326.97,229.30 L327.43,228.64 L327.90,228.02 L328.39,227.44 L328.89,226.91 L329.40,226.42 L329.92,225.95 L330.45,225.51 L330.99,225.09 L331.53,224.68 L332.07,224.26 L332.61,223.85 L333.14,223.41 L333.68,222.96 L334.20,222.49 L334.72,221.99 L335.24,221.48 L335.75,220.96 L336.27,220.44 L336.79,219.91 L337.30,219.38 L337.81,218.84 L338.33,218.30 L338.85,217.76 L339.36,217.22 L339.88,216.69 L340.40,216.15 L340.92,215.61 L341.46,215.04 L341.99,214.45 L342.53,213.86 L343.07,213.27 L343.61,212.68 L344.15,212.11 L344.68,211.55 L345.20,211.03 L345.71,210.55 L346.21,210.11 L346.70,209.72 L347.17,209.38 L347.61,209.08 L348.03,208.82 L348.44,208.59 L348.84,208.39 L349.24,208.22 L349.64,208.07 L350.05,207.94 L350.48,207.82 L350.92,207.71 L351.40,207.61 L351.90,207.51 L352.44,207.43 L353.01,207.38 L353.60,207.36 L354.22,207.36 L354.85,207.37 L355.49,207.39 L356.13,207.42 L356.77,207.45 L357.40,207.48 L358.02,207.50 L358.62,207.51 L359.20,207.50 L359.75,207.48 L360.30,207.46 L360.82,207.43 L361.34,207.40 L361.86,207.37 L362.36,207.34 L362.87,207.30 L363.37,207.26 L363.87,207.22 L364.37,207.18 L364.88,207.14 L365.40,207.10 L365.93,207.06 L366.47,207.02 L367.02,206.97 L367.57,206.93 L368.13,206.88 L368.68,206.84 L369.23,206.79 L369.76,206.74 L370.28,206.68 L370.78,206.63 L371.25,206.56 L371.70,206.50 L372.12,206.43 L372.53,206.35 L372.92,206.27 L373.30,206.18 L373.66,206.09 L374.01,205.99 L374.34,205.90 L374.66,205.81 L374.96,205.72 L375.25,205.64 L375.53,205.57 L375.80,205.50 L376.06,205.44 L376.30,205.38 L376.54,205.33 L376.76,205.28 L376.96,205.23 L377.16,205.19 L377.34,205.15 L377.50,205.11 L377.65,205.08 L377.78,205.05 L377.90,205.02 L378.00,205.00 L378.00,215.00 L377.90,215.02 L377.78,215.05 L377.65,215.08 L377.50,215.11 L377.34,215.15 L377.16,215.19 L376.96,215.23 L376.76,215.28 L376.54,215.33 L376.30,215.38 L376.06,215.44 L375.80,215.50 L375.53,215.57 L375.25,215.64 L374.96,215.72 L374.66,215.81 L374.34,215.90 L374.01,215.99 L373.66,216.09 L373.30,216.18 L372.92,216.27 L372.53,216.35 L372.12,216.43 L371.70,216.50 L371.25,216.56 L370.78,216.63 L370.28,216.68 L369.76,216.74 L369.23,216.79 L368.68,216.84 L368.13,216.88 L367.57,216.93 L367.02,216.97 L366.47,217.02 L365.93,217.06 L365.40,217.10 L364.88,217.14 L364.37,217.18 L363.87,217.22 L363.37,217.26 L362.87,217.30 L362.36,217.34 L361.86,217.37 L361.34,217.40 L360.82,217.43 L360.30,217.46 L359.75,217.48 L359.20,217.50 L358.62,217.51 L358.02,217.50 L357.40,217.48 L356.77,217.45 L356.13,217.42 L355.49,217.39 L354.85,217.37 L354.22,217.36 L353.60,217.36 L353.01,217.38 L352.44,217.43 L351.90,217.49 L351.40,217.57 L350.92,217.65 L350.48,217.74 L350.05,217.84 L349.64,217.96 L349.24,218.09 L348.84,218.25 L348.44,218.43 L348.03,218.64 L347.61,218.88 L347.17,219.16 L346.70,219.48 L346.21,219.85 L345.71,220.27 L345.20,220.73 L344.68,221.23 L344.15,221.76 L343.61,222.31 L343.07,222.87 L342.53,223.44 L341.99,224.01 L341.46,224.58 L340.92,225.12 L340.40,225.65 L339.88,226.16 L339.36,226.67 L338.85,227.19 L338.33,227.71 L337.81,228.22 L337.30,228.74 L336.79,229.25 L336.27,229.76 L335.75,230.26 L335.24,230.75 L334.72,231.24 L334.20,231.71 L333.68,232.17 L333.14,232.60 L332.61,233.01 L332.07,233.40 L331.53,233.79 L330.99,234.18 L330.45,234.58 L329.92,235.00 L329.40,235.44 L328.89,235.91 L328.39,236.42 L327.90,236.98 L327.43,237.58 L326.97,238.22 L326.52,238.90 L326.09,239.60 L325.66,240.33 L325.23,241.07 L324.81,241.83 L324.39,242.60 L323.97,243.38 L323.55,244.15 L323.13,244.91 L322.70,245.67 L322.27,246.43 L321.83,247.20 L321.40,247.98 L320.97,248.76 L320.53,249.55 L320.10,250.35 L319.67,251.14 L319.23,251.92 L318.80,252.70 L318.37,253.47 L317.93,254.22 L317.50,254.96 L317.07,255.67 L316.65,256.36 L316.23,257.04 L315.81,257.69 L315.39,258.34 L314.97,258.99 L314.54,259.65 L314.11,260.31 L313.68,260.98 L313.23,261.68 L312.77,262.40 L312.30,263.15 L311.81,263.94 L311.30,264.76 L310.78,265.62 L310.24,266.49 L309.70,267.38 L309.15,268.28 L308.60,269.18 L308.06,270.07 L307.52,270.94 L307.00,271.80 L306.49,272.62 L306.00,273.41 L305.52,274.19 L305.06,274.97 L304.60,275.76 L304.14,276.53 L303.70,277.29 L303.26,278.03 L302.83,278.74 L302.41,279.41 L302.00,280.04 L301.59,280.62 L301.19,281.14 L300.80,281.60 L300.43,281.98 L300.10,282.30 L299.80,282.56 L299.51,282.76 L299.23,282.93 L298.95,283.05 L298.66,283.15 L298.34,283.23 L298.00,283.30 L297.62,283.36 L297.19,283.43 L296.70,283.51 L296.15,283.58 L295.54,283.65 L294.89,283.69 L294.20,283.72 L293.48,283.74 L292.74,283.75 L291.99,283.75 L291.23,283.75 L290.47,283.73 L289.73,283.72 L289.00,283.69 L288.30,283.67 L287.62,283.64 L286.93,283.58 L286.24,283.50 L285.56,283.41 L284.87,283.32 L284.19,283.23 L283.52,283.14 L282.86,283.06 L282.20,283.00 L281.55,282.96 L280.92,282.96 L280.30,282.99 L279.70,283.06 L279.13,283.15 L278.59,283.26 L278.06,283.39 L277.53,283.54 L277.01,283.70 L276.49,283.86 L275.96,284.03 L275.41,284.20 L274.83,284.37 L274.23,284.53 L273.60,284.67 L272.93,284.81 L272.23,284.95 L271.51,285.09 L270.77,285.23 L270.01,285.37 L269.24,285.51 L268.47,285.65 L267.69,285.79 L266.90,285.92 L266.13,286.06 L265.36,286.20 L264.60,286.34 L263.84,286.49 L263.07,286.64 L262.30,286.80 L261.51,286.96 L260.73,287.12 L259.96,287.28 L259.19,287.44 L258.43,287.58 L257.69,287.71 L256.97,287.83 L256.27,287.93 L255.60,288.01 L254.97,288.07 L254.38,288.11 L253.82,288.12 L253.28,288.13 L252.76,288.12 L252.25,288.11 L251.74,288.08 L251.22,288.06 L250.68,288.03 L250.12,288.01 L249.53,288.00 L248.90,287.99 L248.23,287.99 L247.53,288.00 L246.81,288.01 L246.07,288.02 L245.31,288.04 L244.54,288.05 L243.76,288.06 L242.98,288.06 L242.20,288.05 L241.42,288.03 L240.65,288.00 L239.90,287.96 L239.15,287.90 L238.39,287.83 L237.63,287.76 L236.87,287.67 L236.10,287.58 L235.34,287.48 L234.59,287.37 L233.84,287.26 L233.11,287.13 L232.39,287.00 L231.69,286.87 L231.00,286.73 L230.31,286.57 L229.61,286.39 L228.89,286.19 L228.18,285.98 L227.48,285.76 L226.79,285.54 L226.14,285.32 L225.53,285.12 L224.97,284.93 L224.48,284.76 L224.05,284.61 L223.70,284.50Z" fill="#a9b9e6" fill-opacity="0.35"/>
<path d="M223.70,282.10 L224.05,282.13 L224.48,282.19 L224.97,282.25 L225.53,282.32 L226.14,282.40 L226.79,282.48 L227.48,282.55 L228.18,282.61 L228.89,282.66 L229.61,282.70 L230.31,282.71 L231.00,282.70 L231.69,282.66 L232.39,282.59 L233.11,282.50 L233.84,282.39 L234.59,282.27 L235.34,282.14 L236.10,282.01 L236.87,281.88 L237.63,281.76 L238.39,281.65 L239.15,281.56 L239.90,281.50 L240.65,281.46 L241.39,281.43 L242.14,281.41 L242.89,281.40 L243.64,281.39 L244.39,281.40 L245.14,281.41 L245.90,281.43 L246.65,281.44 L247.40,281.46 L248.15,281.48 L248.90,281.50 L249.65,281.52 L250.40,281.56 L251.15,281.61 L251.90,281.66 L252.66,281.71 L253.41,281.77 L254.16,281.82 L254.91,281.86 L255.66,281.90 L256.41,281.92 L257.15,281.92 L257.90,281.90 L258.64,281.86 L259.39,281.81 L260.13,281.74 L260.87,281.66 L261.61,281.57 L262.35,281.47 L263.09,281.36 L263.83,281.25 L264.57,281.14 L265.31,281.02 L266.06,280.91 L266.80,280.80 L267.56,280.69 L268.35,280.58 L269.16,280.46 L269.97,280.34 L270.79,280.21 L271.59,280.09 L272.39,279.96 L273.15,279.83 L273.89,279.70 L274.58,279.57 L275.22,279.43 L275.80,279.30 L276.31,279.16 L276.73,279.01 L277.09,278.85 L277.40,278.69 L277.68,278.52 L277.94,278.36 L278.20,278.20 L278.47,278.05 L278.77,277.91 L279.12,277.79 L279.52,277.68 L280.00,277.60 L280.56,277.55 L281.18,277.52 L281.86,277.52 L282.58,277.51 L283.32,277.51 L284.09,277.52 L284.85,277.52 L285.61,277.53 L286.35,277.52 L287.05,277.49 L287.70,277.45 L288.30,277.38 L288.85,277.29 L289.36,277.19 L289.84,277.09 L290.30,276.97 L290.74,276.84 L291.16,276.71 L291.56,276.56 L291.96,276.40 L292.34,276.22 L292.73,276.03 L293.11,275.82 L293.50,275.60 L293.89,275.38 L294.26,275.16 L294.62,274.94 L294.97,274.71 L295.32,274.47 L295.66,274.21 L296.00,273.93 L296.34,273.61 L296.67,273.24 L297.01,272.84 L297.35,272.38 L297.70,271.86 L298.05,271.27 L298.41,270.62 L298.78,269.91 L299.14,269.16 L299.51,268.36 L299.87,267.54 L300.23,266.69 L300.58,265.82 L300.93,264.95 L301.26,264.08 L301.59,263.21 L301.90,262.37 L302.20,261.53 L302.48,260.68 L302.75,259.82 L303.01,258.96 L303.27,258.09 L303.52,257.21 L303.76,256.33 L304.01,255.44 L304.25,254.54 L304.50,253.64 L304.75,252.73 L305.00,251.81 L305.26,250.88 L305.52,249.93 L305.77,248.96 L306.03,247.98 L306.29,246.99 L306.55,246.00 L306.80,245.02 L307.06,244.04 L307.32,243.08 L307.58,242.14 L307.84,241.22 L308.10,240.33 L308.36,239.48 L308.61,238.68 L308.86,237.91 L309.11,237.16 L309.36,236.43 L309.61,235.70 L309.86,234.96 L310.12,234.21 L310.39,233.43 L310.67,232.62 L310.95,231.76 L311.25,230.85 L311.56,229.90 L311.87,228.94 L312.19,227.97 L312.52,226.97 L312.86,225.95 L313.20,224.90 L313.55,223.81 L313.90,222.68 L314.27,221.50 L314.64,220.28 L315.01,218.99 L315.40,217.64 L315.80,216.19 L316.22,214.61 L316.65,212.94 L317.09,211.19 L317.54,209.39 L318.00,207.58 L318.45,205.77 L318.90,203.99 L319.35,202.26 L319.78,200.63 L320.20,199.10 L320.60,197.71 L320.98,196.43 L321.35,195.21 L321.70,194.05 L322.04,192.95 L322.37,191.91 L322.70,190.92 L323.03,189.99 L323.36,189.12 L323.70,188.29 L324.05,187.51 L324.42,186.78 L324.80,186.10 L325.19,185.47 L325.60,184.90 L326.01,184.38 L326.42,183.92 L326.84,183.51 L327.27,183.15 L327.71,182.83 L328.15,182.56 L328.60,182.33 L329.06,182.14 L329.53,181.99 L330.00,181.87 L330.49,181.80 L330.99,181.80 L331.51,181.85 L332.04,181.95 L332.58,182.09 L333.12,182.27 L333.66,182.48 L334.20,182.71 L334.73,182.95 L335.25,183.20 L335.76,183.46 L336.25,183.71 L336.72,183.96 L337.18,184.22 L337.63,184.50 L338.08,184.79 L338.51,185.09 L338.94,185.41 L339.37,185.75 L339.79,186.11 L340.21,186.49 L340.64,186.89 L341.07,187.32 L341.50,187.78 L341.94,188.27 L342.37,188.82 L342.80,189.40 L343.24,190.01 L343.67,190.65 L344.10,191.30 L344.54,191.95 L344.97,192.59 L345.40,193.23 L345.83,193.83 L346.27,194.41 L346.70,194.94 L347.13,195.45 L347.56,195.93 L347.98,196.41 L348.40,196.87 L348.82,197.31 L349.24,197.74 L349.66,198.16 L350.09,198.56 L350.53,198.94 L350.98,199.31 L351.43,199.67 L351.90,200.01 L352.39,200.33 L352.90,200.62 L353.43,200.89 L353.97,201.14 L354.51,201.38 L355.06,201.60 L355.61,201.82 L356.14,202.04 L356.67,202.27 L357.17,202.50 L357.65,202.76 L358.10,203.03 L358.52,203.32 L358.90,203.64 L359.27,203.97 L359.61,204.31 L359.94,204.66 L360.26,205.00 L360.58,205.35 L360.90,205.68 L361.23,205.99 L361.57,206.28 L361.92,206.54 L362.30,206.77 L362.70,206.98 L363.12,207.17 L363.55,207.34 L364.00,207.50 L364.45,207.64 L364.90,207.76 L365.35,207.87 L365.80,207.96 L366.25,208.03 L366.68,208.07 L367.10,208.10 L367.50,208.11 L367.89,208.08 L368.26,208.03 L368.62,207.95 L368.98,207.84 L369.33,207.71 L369.67,207.57 L370.01,207.42 L370.34,207.26 L370.68,207.10 L371.02,206.94 L371.36,206.79 L371.70,206.65 L372.05,206.51 L372.41,206.37 L372.78,206.22 L373.14,206.06 L373.51,205.90 L373.88,205.74 L374.23,205.59 L374.58,205.43 L374.91,205.29 L375.23,205.15 L375.53,205.02 L375.80,204.90 L376.06,204.79 L376.30,204.69 L376.54,204.60 L376.76,204.51 L376.96,204.42 L377.16,204.34 L377.34,204.27 L377.50,204.20 L377.65,204.14 L377.78,204.09 L377.90,204.04 L378.00,204.00 L378.00,213.00 L377.90,213.04 L377.78,213.09 L377.65,213.14 L377.50,213.20 L377.34,213.27 L377.16,213.34 L376.96,213.42 L376.76,213.51 L376.54,213.60 L376.30,213.69 L376.06,213.79 L375.80,213.90 L375.53,214.01 L375.23,214.13 L374.91,214.26 L374.58,214.40 L374.23,214.55 L373.88,214.69 L373.51,214.84 L373.14,214.99 L372.78,215.14 L372.41,215.28 L372.05,215.42 L371.70,215.55 L371.36,215.68 L371.02,215.82 L370.68,215.97 L370.34,216.12 L370.01,216.27 L369.67,216.42 L369.33,216.55 L368.98,216.66 L368.62,216.76 L368.26,216.84 L367.89,216.88 L367.50,216.89 L367.10,216.88 L366.68,216.84 L366.25,216.78 L365.80,216.70 L365.35,216.60 L364.90,216.49 L364.45,216.35 L364.00,216.20 L363.55,216.03 L363.12,215.84 L362.70,215.64 L362.30,215.43 L361.92,215.19 L361.57,214.92 L361.23,214.62 L360.90,214.29 L360.58,213.96 L360.26,213.61 L359.94,213.25 L359.61,212.90 L359.27,212.55 L358.90,212.20 L358.52,211.88 L358.10,211.57 L357.65,211.29 L357.17,211.03 L356.67,210.78 L356.14,210.54 L355.61,210.31 L355.06,210.07 L354.51,209.83 L353.97,209.58 L353.43,209.32 L352.90,209.04 L352.39,208.73 L351.90,208.39 L351.43,208.02 L350.98,207.65 L350.53,207.25 L350.09,206.84 L349.66,206.42 L349.24,205.98 L348.82,205.53 L348.40,205.07 L347.98,204.59 L347.56,204.09 L347.13,203.58 L346.70,203.06 L346.27,202.50 L345.83,201.90 L345.40,201.27 L344.97,200.62 L344.54,199.95 L344.10,199.28 L343.67,198.61 L343.24,197.95 L342.80,197.31 L342.37,196.71 L341.94,196.14 L341.50,195.62 L341.07,195.15 L340.64,194.70 L340.21,194.27 L339.79,193.87 L339.37,193.49 L338.94,193.13 L338.51,192.79 L338.08,192.46 L337.63,192.15 L337.18,191.85 L336.72,191.57 L336.25,191.29 L335.76,191.01 L335.25,190.73 L334.73,190.45 L334.20,190.18 L333.66,189.93 L333.12,189.69 L332.58,189.49 L332.04,189.32 L331.51,189.19 L330.99,189.11 L330.49,189.09 L330.00,189.13 L329.53,189.22 L329.06,189.35 L328.60,189.52 L328.15,189.72 L327.71,189.97 L327.27,190.27 L326.84,190.61 L326.42,191.00 L326.01,191.44 L325.60,191.94 L325.19,192.49 L324.80,193.10 L324.42,193.76 L324.05,194.47 L323.70,195.23 L323.36,196.04 L323.03,196.90 L322.70,197.81 L322.37,198.78 L322.04,199.81 L321.70,200.89 L321.35,202.03 L320.98,203.23 L320.60,204.49 L320.20,205.86 L319.78,207.37 L319.35,208.98 L318.90,210.68 L318.45,212.44 L318.00,214.22 L317.54,216.02 L317.09,217.79 L316.65,219.52 L316.22,221.17 L315.80,222.73 L315.40,224.16 L315.01,225.49 L314.64,226.75 L314.27,227.96 L313.90,229.12 L313.55,230.23 L313.20,231.30 L312.86,232.34 L312.52,233.34 L312.19,234.32 L311.87,235.28 L311.56,236.22 L311.25,237.15 L310.95,238.05 L310.67,238.89 L310.39,239.69 L310.12,240.46 L309.86,241.19 L309.61,241.92 L309.36,242.63 L309.11,243.35 L308.86,244.09 L308.61,244.84 L308.36,245.64 L308.10,246.47 L307.84,247.35 L307.58,248.25 L307.32,249.18 L307.06,250.13 L306.80,251.09 L306.55,252.07 L306.29,253.04 L306.03,254.01 L305.77,254.98 L305.52,255.94 L305.26,256.88 L305.00,257.79 L304.75,258.69 L304.50,259.58 L304.25,260.47 L304.01,261.35 L303.76,262.22 L303.52,263.09 L303.27,263.95 L303.01,264.81 L302.75,265.65 L302.48,266.49 L302.20,267.32 L301.90,268.13 L301.59,268.96 L301.26,269.80 L300.93,270.65 L300.58,271.50 L300.23,272.34 L299.87,273.17 L299.51,273.97 L299.14,274.74 L298.78,275.47 L298.41,276.15 L298.05,276.78 L297.70,277.34 L297.35,277.84 L297.01,278.27 L296.67,278.66 L296.34,278.99 L296.00,279.29 L295.66,279.56 L295.32,279.79 L294.97,280.01 L294.62,280.21 L294.26,280.41 L293.89,280.60 L293.50,280.80 L293.11,280.99 L292.73,281.17 L292.34,281.34 L291.96,281.49 L291.56,281.62 L291.16,281.74 L290.74,281.85 L290.30,281.95 L289.84,282.03 L289.36,282.11 L288.85,282.17 L288.30,282.22 L287.70,282.25 L287.05,282.25 L286.35,282.23 L285.61,282.19 L284.85,282.13 L284.09,282.07 L283.32,282.01 L282.58,281.96 L281.86,281.92 L281.18,281.92 L280.56,281.95 L280.00,282.00 L279.52,282.08 L279.12,282.19 L278.77,282.31 L278.47,282.45 L278.20,282.60 L277.94,282.76 L277.68,282.92 L277.40,283.09 L277.09,283.25 L276.73,283.41 L276.31,283.56 L275.80,283.70 L275.22,283.83 L274.58,283.97 L273.89,284.10 L273.15,284.23 L272.39,284.36 L271.59,284.49 L270.79,284.61 L269.97,284.74 L269.16,284.86 L268.35,284.98 L267.56,285.09 L266.80,285.20 L266.06,285.31 L265.31,285.42 L264.57,285.54 L263.83,285.65 L263.09,285.76 L262.35,285.87 L261.61,285.97 L260.87,286.06 L260.13,286.14 L259.39,286.21 L258.64,286.26 L257.90,286.30 L257.15,286.32 L256.41,286.32 L255.66,286.30 L254.91,286.26 L254.16,286.22 L253.41,286.17 L252.66,286.11 L251.90,286.06 L251.15,286.01 L250.40,285.96 L249.65,285.92 L248.90,285.90 L248.15,285.88 L247.40,285.86 L246.65,285.84 L245.90,285.83 L245.14,285.81 L244.39,285.80 L243.64,285.79 L242.89,285.80 L242.14,285.81 L241.39,285.83 L240.65,285.86 L239.90,285.90 L239.15,285.96 L238.39,286.05 L237.63,286.16 L236.87,286.28 L236.10,286.41 L235.34,286.54 L234.59,286.67 L233.84,286.79 L233.11,286.90 L232.39,286.99 L231.69,287.06 L231.00,287.10 L230.31,287.11 L229.61,287.10 L228.89,287.06 L228.18,287.01 L227.48,286.95 L226.79,286.88 L226.14,286.80 L225.53,286.72 L224.97,286.65 L224.48,286.59 L224.05,286.53 L223.70,286.50Z" fill="#7fbcbc" fill-opacity="0.38"/>
<path d="M223.70,284.30 C224.92,284.40 228.30,285.00 231.00,284.90 C233.70,284.80 236.92,283.90 239.90,283.70 C242.88,283.50 245.90,283.63 248.90,283.70 C251.90,283.77 254.92,284.22 257.90,284.10 C260.88,283.98 263.82,283.43 266.80,283.00 C269.78,282.57 273.60,282.03 275.80,281.50 C278.00,280.97 277.92,280.08 280.00,279.80 C282.08,279.52 286.05,280.07 288.30,279.80 C290.55,279.53 291.93,279.07 293.50,278.20 C295.07,277.33 296.30,276.76 297.70,274.60 C299.10,272.44 300.68,268.55 301.90,265.25 C303.12,261.95 303.97,258.44 305.00,254.80 C306.03,251.16 307.06,246.87 308.10,243.40 C309.14,239.93 310.03,237.75 311.25,234.00 C312.47,230.25 313.84,226.38 315.40,220.90 C316.96,215.42 319.03,206.32 320.60,201.10 C322.17,195.88 323.23,192.20 324.80,189.60 C326.37,187.00 328.09,185.85 330.00,185.50 C331.91,185.15 334.33,186.47 336.25,187.50 C338.17,188.53 339.76,189.78 341.50,191.70 C343.24,193.62 344.97,196.92 346.70,199.00 C348.43,201.08 350.00,202.82 351.90,204.20 C353.80,205.58 356.37,206.15 358.10,207.30 C359.83,208.45 360.73,210.23 362.30,211.10 C363.87,211.97 365.93,212.50 367.50,212.50 C369.07,212.50 370.32,211.62 371.70,211.10 C373.08,210.58 374.75,209.83 375.80,209.40 C376.85,208.97 377.63,208.65 378.00,208.50" fill="none" stroke="#1d7e84" stroke-width="1.15" stroke-linejoin="round"/>
<path d="M223.70,280.40 C224.92,280.53 228.48,280.92 231.00,281.20 C233.52,281.48 236.57,282.13 238.80,282.10 C241.03,282.07 242.53,281.28 244.40,281.00 C246.27,280.72 248.13,280.07 250.00,280.40 C251.87,280.73 253.53,282.25 255.60,283.00 C257.67,283.75 260.15,284.40 262.40,284.90 C264.65,285.40 266.87,285.82 269.10,286.00 C271.33,286.18 273.98,286.17 275.80,286.00 C277.62,285.83 277.92,285.23 280.00,285.00 C282.08,284.77 285.87,284.70 288.30,284.60 C290.73,284.50 292.52,283.98 294.60,284.40 C296.68,284.82 298.55,286.37 300.80,287.10 C303.05,287.83 305.67,288.97 308.10,288.80 C310.53,288.63 313.13,287.07 315.40,286.10 C317.67,285.13 319.62,284.73 321.70,283.00 C323.78,281.27 326.00,278.48 327.90,275.70 C329.80,272.92 331.53,268.04 333.10,266.30 C334.67,264.56 335.73,265.08 337.30,265.25 C338.87,265.42 340.25,266.26 342.50,267.30 C344.75,268.34 348.37,270.18 350.80,271.50 C353.23,272.82 355.02,274.90 357.10,275.25 C359.18,275.60 361.22,274.39 363.30,273.60 C365.38,272.81 367.52,270.85 369.60,270.50 C371.68,270.15 374.40,271.25 375.80,271.50 C377.20,271.75 377.63,271.92 378.00,272.00" fill="none" stroke="#f7a935" stroke-width="1.15" stroke-linejoin="round"/>
<path d="M223.70,281.50 C224.92,281.87 228.30,283.13 231.00,283.70 C233.70,284.27 236.92,284.70 239.90,284.90 C242.88,285.10 246.28,284.90 248.90,284.90 C251.52,284.90 252.98,285.18 255.60,284.90 C258.22,284.62 261.60,283.77 264.60,283.20 C267.60,282.63 270.98,282.07 273.60,281.50 C276.22,280.93 277.85,280.01 280.30,279.80 C282.75,279.59 285.57,280.25 288.30,280.25 C291.03,280.25 294.62,280.22 296.70,279.80 C298.78,279.38 299.25,279.48 300.80,277.75 C302.35,276.02 304.08,272.52 306.00,269.40 C307.92,266.27 310.38,262.12 312.30,259.00 C314.22,255.88 315.77,253.65 317.50,250.70 C319.23,247.75 320.97,244.33 322.70,241.30 C324.43,238.27 325.98,234.87 327.90,232.50 C329.82,230.13 332.12,229.03 334.20,227.10 C336.28,225.17 338.32,222.98 340.40,220.90 C342.48,218.82 344.78,216.00 346.70,214.60 C348.62,213.20 349.82,212.85 351.90,212.50 C353.98,212.15 356.95,212.57 359.20,212.50 C361.45,212.43 363.32,212.27 365.40,212.10 C367.48,211.93 369.97,211.77 371.70,211.50 C373.43,211.23 374.75,210.75 375.80,210.50 C376.85,210.25 377.63,210.08 378.00,210.00" fill="none" stroke="#5f83c5" stroke-width="1.70" stroke-linejoin="round"/>
<path d="M223.70,283.00 C224.92,283.12 228.30,283.58 231.00,283.70 C233.70,283.82 236.92,283.78 239.90,283.70 C242.88,283.62 246.08,283.10 248.90,283.20 C251.72,283.30 254.18,284.12 256.80,284.30 C259.42,284.48 262.00,284.58 264.60,284.30 C267.20,284.02 269.78,283.12 272.40,282.60 C275.02,282.08 277.65,281.38 280.30,281.20 C282.95,281.02 285.57,281.38 288.30,281.50 C291.03,281.62 294.43,282.18 296.70,281.90 C298.97,281.62 300.17,281.18 301.90,279.80 C303.63,278.42 305.20,275.50 307.10,273.60 C309.00,271.70 311.05,269.97 313.30,268.40 C315.55,266.83 318.17,265.42 320.60,264.20 C323.03,262.98 325.98,262.13 327.90,261.10 C329.82,260.07 330.37,259.73 332.10,258.00 C333.83,256.27 336.22,252.78 338.30,250.70 C340.38,248.62 342.52,246.90 344.60,245.50 C346.68,244.10 348.72,242.90 350.80,242.30 C352.88,241.70 355.02,241.72 357.10,241.90 C359.18,242.08 361.40,242.98 363.30,243.40 C365.20,243.82 366.93,244.51 368.50,244.40 C370.07,244.29 371.48,243.17 372.70,242.75 C373.92,242.33 374.92,242.19 375.80,241.90 C376.68,241.61 377.63,241.15 378.00,241.00" fill="none" stroke="#ee7078" stroke-width="1.70" stroke-linejoin="round"/>
</g>
<line x1="281.80" y1="174.30" x2="281.80" y2="294.70" stroke="#555" stroke-width="0.9" stroke-dasharray="3,2.6"/>
<rect x="223.10" y="174.30" width="152.40" height="120.40" fill="none" stroke="#cfcfcf" stroke-width="1"/>
<path d="M223.10,174.30V294.70H375.50" fill="none" stroke="#b0b0b0" stroke-width="1"/>
<path d="M234.56,294.70v-1.6M234.56,174.30v1.6M258.18,294.70v-1.6M258.18,174.30v1.6M281.80,294.70v-1.6M281.80,174.30v1.6M305.42,294.70v-1.6M305.42,174.30v1.6M329.04,294.70v-1.6M329.04,174.30v1.6M352.66,294.70v-1.6M352.66,174.30v1.6M223.10,294.12h1.6M375.50,294.12h-1.6M223.10,282.50h1.6M375.50,282.50h-1.6M223.10,270.88h1.6M375.50,270.88h-1.6M223.10,259.26h1.6M375.50,259.26h-1.6M223.10,247.64h1.6M375.50,247.64h-1.6M223.10,236.02h1.6M375.50,236.02h-1.6M223.10,224.40h1.6M375.50,224.40h-1.6M223.10,212.78h1.6M375.50,212.78h-1.6M223.10,201.16h1.6M375.50,201.16h-1.6M223.10,189.54h1.6M375.50,189.54h-1.6M223.10,177.92h1.6M375.50,177.92h-1.6" stroke="#a8a8a8" stroke-width="0.9" fill="none"/>
<text x="222.40" y="296.87" font-size="7.80" text-anchor="end" textLength="15.71" lengthAdjust="spacingAndGlyphs">-0.05</text>
<text x="218.60" y="285.25" font-size="7.80" text-anchor="end" textLength="3.83" lengthAdjust="spacingAndGlyphs">0</text>
<text x="222.40" y="273.63" font-size="7.80" text-anchor="end" textLength="13.42" lengthAdjust="spacingAndGlyphs">0.05</text>
<text x="222.40" y="262.01" font-size="7.80" text-anchor="end" textLength="9.58" lengthAdjust="spacingAndGlyphs">0.1</text>
<text x="222.40" y="250.39" font-size="7.80" text-anchor="end" textLength="13.42" lengthAdjust="spacingAndGlyphs">0.15</text>
<text x="222.40" y="238.77" font-size="7.80" text-anchor="end" textLength="9.58" lengthAdjust="spacingAndGlyphs">0.2</text>
<text x="222.40" y="227.15" font-size="7.80" text-anchor="end" textLength="13.42" lengthAdjust="spacingAndGlyphs">0.25</text>
<text x="222.40" y="215.53" font-size="7.80" text-anchor="end" textLength="9.58" lengthAdjust="spacingAndGlyphs">0.3</text>
<text x="222.40" y="203.91" font-size="7.80" text-anchor="end" textLength="13.42" lengthAdjust="spacingAndGlyphs">0.35</text>
<text x="222.40" y="192.29" font-size="7.80" text-anchor="end" textLength="9.58" lengthAdjust="spacingAndGlyphs">0.4</text>
<text x="222.40" y="180.67" font-size="7.80" text-anchor="end" textLength="13.42" lengthAdjust="spacingAndGlyphs">0.45</text>
<text x="236.06" y="302.20" font-size="7.30" text-anchor="middle" textLength="14.01" lengthAdjust="spacingAndGlyphs">-200</text>
<text x="259.68" y="302.20" font-size="7.30" text-anchor="middle" textLength="14.01" lengthAdjust="spacingAndGlyphs">-100</text>
<text x="283.30" y="302.20" font-size="7.30" text-anchor="middle" textLength="3.89" lengthAdjust="spacingAndGlyphs">0</text>
<text x="306.92" y="302.20" font-size="7.30" text-anchor="middle" textLength="11.68" lengthAdjust="spacingAndGlyphs">100</text>
<text x="330.54" y="302.20" font-size="7.30" text-anchor="middle" textLength="11.68" lengthAdjust="spacingAndGlyphs">200</text>
<text x="354.16" y="302.20" font-size="7.30" text-anchor="middle" textLength="11.68" lengthAdjust="spacingAndGlyphs">300</text>
<text x="283.60" y="308.80" font-size="7.00" textLength="31.20" lengthAdjust="spacingAndGlyphs">Time (ms)</text>
<text x="230.10" y="170.20" font-size="7.00" font-weight="bold" class="nb">Array 2 + 3 + 4 + 5</text>
</g>
<text x="31.20" y="76.80" font-size="7.20" text-anchor="middle" textLength="49.00" lengthAdjust="spacingAndGlyphs" transform="rotate(-90 31.20 76.80)">Face probability</text>
<text x="31.20" y="225.60" font-size="7.20" text-anchor="middle" textLength="49.00" lengthAdjust="spacingAndGlyphs" transform="rotate(-90 31.20 225.60)">Face probability</text>
<path d="M162.3,30.6H195.5M308.8,30.45H375.8" stroke="#444" stroke-width="1.05"/>
<path d="M315.9,178.8H375.8" stroke="#606060" stroke-width="1.05"/>
<text x="193.00" y="36.20" font-size="7.50" text-anchor="middle" font-weight="bold">*</text>
<text x="369.80" y="36.60" font-size="7.50" text-anchor="middle" font-weight="bold">**</text>
<text x="369.80" y="186.40" font-size="7.50" text-anchor="middle" font-weight="bold">**</text>
<rect x="380.95" y="32.35" width="8.30" height="81.40" fill="#aec2c4" stroke="#9bb0b2" stroke-width="1.5"/>
<text x="387.20" y="77.30" font-size="7.00" textLength="15.20" lengthAdjust="spacingAndGlyphs" transform="rotate(-90 387.20 77.30)">Face</text>
<rect x="392.65" y="32.35" width="8.80" height="81.40" fill="#fef4e6" stroke="#fbdd8c" stroke-width="1.5"/>
<text x="399.00" y="77.30" font-size="7.00" textLength="17.20" lengthAdjust="spacingAndGlyphs" transform="rotate(-90 399.00 77.30)">Place</text>
<rect x="405.05" y="32.35" width="9.10" height="81.40" fill="#f0f2fb" stroke="#b5c6e8" stroke-width="1.5"/>
<text x="411.80" y="108.80" font-size="7.00" textLength="71.80" lengthAdjust="spacingAndGlyphs" transform="rotate(-90 411.80 108.80)">Rivalry Face Perceived</text>
<rect x="417.75" y="32.35" width="8.70" height="81.40" fill="#fdedf0" stroke="#d6a0ab" stroke-width="1.5"/>
<text x="424.20" y="108.80" font-size="7.00" textLength="73.80" lengthAdjust="spacingAndGlyphs" transform="rotate(-90 424.20 108.80)">Rivalry Place Perceived</text>
<rect x="380.95" y="200.05" width="8.30" height="80.10" fill="#aec2c4" stroke="#9bb0b2" stroke-width="1.5"/>
<text x="387.20" y="245.20" font-size="7.00" textLength="15.40" lengthAdjust="spacingAndGlyphs" transform="rotate(-90 387.20 245.20)">Face</text>
<rect x="393.25" y="200.05" width="8.00" height="80.10" fill="#fef4e6" stroke="#fbdd8c" stroke-width="1.5"/>
<text x="399.30" y="245.20" font-size="7.00" textLength="17.60" lengthAdjust="spacingAndGlyphs" transform="rotate(-90 399.30 245.20)">Place</text>
<rect x="404.75" y="200.05" width="8.30" height="80.10" fill="#f0f2fb" stroke="#b5c6e8" stroke-width="1.5"/>
<text x="411.10" y="278.70" font-size="6.20" textLength="75.30" lengthAdjust="spacingAndGlyphs" transform="rotate(-90 411.10 278.70)">Rivalry Face Dominant Eye</text>
<rect x="416.45" y="200.05" width="7.90" height="80.10" fill="#fdedf0" stroke="#d6a0ab" stroke-width="1.5"/>
<text x="422.60" y="278.70" font-size="6.20" textLength="76.80" lengthAdjust="spacingAndGlyphs" transform="rotate(-90 422.60 278.70)">Rivalry Place Dominant Eye</text>
<rect x="9.1" y="45" width="7.8" height="103" fill="url(#gg)"/>
<path d="M8.05,148V40.5M5.2,43.4L8.05,40.2L10.9,43.4" stroke="#000" stroke-width="1.6" fill="none"/>
<text x="14.80" y="97.70" font-size="6.40" text-anchor="middle" textLength="27.80" lengthAdjust="spacingAndGlyphs" transform="rotate(-90 14.80 97.70)">Perception</text>
<rect x="10.1" y="176.2" width="7.8" height="102.5" fill="url(#pg)"/>
<path d="M9.1,176.5V283.5M6.2,280.6L9.1,283.8L12,280.6" stroke="#000" stroke-width="1.6" fill="none"/>
<text x="16.00" y="225.80" font-size="6.40" text-anchor="middle" textLength="67.20" lengthAdjust="spacingAndGlyphs" transform="rotate(-90 16.00 225.80)">Stimulus phenomenology</text>
<text x="11.00" y="12.00" font-size="16.50" class="nb">A</text>
<text x="456.00" y="12.00" font-size="16.50" class="nb">B</text>
<path d="M458.5,49.7V226.2H681.5" fill="none" stroke="#a0a0a0" stroke-width="0.9"/>
<rect x="483.40" y="218.50" width="12.30" height="7.70" fill="#f5b1b2"/>
<rect x="495.70" y="203.50" width="12.30" height="22.70" fill="#f5b1b2"/>
<rect x="508.00" y="178.70" width="12.30" height="47.50" fill="#f5b1b2"/>
<rect x="520.30" y="158.30" width="12.30" height="67.90" fill="#f5b1b2"/>
<rect x="532.60" y="108.60" width="12.30" height="117.60" fill="#f5b1b2"/>
<rect x="544.90" y="61.30" width="12.30" height="164.90" fill="#f5b1b2"/>
<rect x="557.20" y="125.00" width="12.30" height="101.20" fill="#f5b1b2"/>
<rect x="569.50" y="153.70" width="12.30" height="72.50" fill="#f5b1b2"/>
<rect x="581.80" y="179.80" width="12.30" height="46.40" fill="#f5b1b2"/>
<rect x="594.10" y="195.50" width="12.30" height="30.70" fill="#f5b1b2"/>
<rect x="606.40" y="198.70" width="12.30" height="27.50" fill="#f5b1b2"/>
<rect x="618.70" y="207.60" width="12.30" height="18.60" fill="#f5b1b2"/>
<rect x="631.00" y="209.30" width="12.30" height="16.90" fill="#f5b1b2"/>
<rect x="643.30" y="215.40" width="12.30" height="10.80" fill="#f5b1b2"/>
<rect x="655.60" y="218.90" width="12.30" height="7.30" fill="#f5b1b2"/>
<rect x="667.90" y="219.20" width="12.30" height="7.00" fill="#f5b1b2"/>
<path d="M483.40,226.20V218.50H495.70V226.20" fill="none" stroke="#f9ab45" stroke-width="1.3"/>
<path d="M495.70,226.20V203.50H508.00V226.20" fill="none" stroke="#f9ab45" stroke-width="1.3"/>
<path d="M508.00,226.20V178.70H520.30V226.20" fill="none" stroke="#f9ab45" stroke-width="1.3"/>
<path d="M520.30,226.20V158.30H532.60V226.20" fill="none" stroke="#f9ab45" stroke-width="1.3"/>
<path d="M532.60,226.20V108.60H544.90V226.20" fill="none" stroke="#f9ab45" stroke-width="1.3"/>
<path d="M544.90,226.20V61.30H557.20V226.20" fill="none" stroke="#f9ab45" stroke-width="1.3"/>
<path d="M557.20,226.20V125.00H569.50V226.20" fill="none" stroke="#f9ab45" stroke-width="1.3"/>
<path d="M569.50,226.20V153.70H581.80V226.20" fill="none" stroke="#f9ab45" stroke-width="1.3"/>
<path d="M581.80,226.20V179.80H594.10V226.20" fill="none" stroke="#f9ab45" stroke-width="1.3"/>
<path d="M594.10,226.20V195.50H606.40V226.20" fill="none" stroke="#f9ab45" stroke-width="1.3"/>
<path d="M606.40,226.20V198.70H618.70V226.20" fill="none" stroke="#f9ab45" stroke-width="1.3"/>
<path d="M618.70,226.20V207.60H631.00V226.20" fill="none" stroke="#f9ab45" stroke-width="1.3"/>
<path d="M631.00,226.20V209.30H643.30V226.20" fill="none" stroke="#f9ab45" stroke-width="1.3"/>
<path d="M643.30,226.20V215.40H655.60V226.20" fill="none" stroke="#f9ab45" stroke-width="1.3"/>
<path d="M655.60,226.20V218.90H667.90V226.20" fill="none" stroke="#f9ab45" stroke-width="1.3"/>
<path d="M667.90,226.20V219.20H680.20V226.20" fill="none" stroke="#f9ab45" stroke-width="1.3"/>
<rect x="471.10" y="224.60" width="12.30" height="1.60" fill="#a3b5d9"/>
<rect x="471.10" y="226.20" width="12.30" height="0.00" fill="#aa9fba"/>
<rect x="483.40" y="221.80" width="12.30" height="4.40" fill="#aa9fba"/>
<rect x="495.70" y="214.40" width="12.30" height="11.80" fill="#aa9fba"/>
<rect x="508.00" y="203.80" width="12.30" height="22.40" fill="#aa9fba"/>
<rect x="520.30" y="178.70" width="12.30" height="47.50" fill="#aa9fba"/>
<rect x="532.60" y="133.30" width="12.30" height="92.90" fill="#aa9fba"/>
<rect x="544.90" y="77.40" width="12.30" height="148.80" fill="#aa9fba"/>
<rect x="557.20" y="129.10" width="12.30" height="97.10" fill="#aa9fba"/>
<rect x="569.50" y="143.40" width="12.30" height="10.30" fill="#a3b5d9"/>
<rect x="569.50" y="153.70" width="12.30" height="72.50" fill="#aa9fba"/>
<rect x="581.80" y="161.50" width="12.30" height="18.30" fill="#a3b5d9"/>
<rect x="581.80" y="179.80" width="12.30" height="46.40" fill="#aa9fba"/>
<rect x="594.10" y="188.90" width="12.30" height="6.60" fill="#a3b5d9"/>
<rect x="594.10" y="195.50" width="12.30" height="30.70" fill="#aa9fba"/>
<rect x="606.40" y="185.20" width="12.30" height="13.50" fill="#a3b5d9"/>
<rect x="606.40" y="198.70" width="12.30" height="27.50" fill="#aa9fba"/>
<rect x="618.70" y="200.50" width="12.30" height="7.10" fill="#a3b5d9"/>
<rect x="618.70" y="207.60" width="12.30" height="18.60" fill="#aa9fba"/>
<rect x="631.00" y="200.50" width="12.30" height="8.80" fill="#a3b5d9"/>
<rect x="631.00" y="209.30" width="12.30" height="16.90" fill="#aa9fba"/>
<rect x="643.30" y="204.60" width="12.30" height="10.80" fill="#a3b5d9"/>
<rect x="643.30" y="215.40" width="12.30" height="10.80" fill="#aa9fba"/>
<rect x="655.60" y="210.50" width="12.30" height="8.40" fill="#a3b5d9"/>
<rect x="655.60" y="218.90" width="12.30" height="7.30" fill="#aa9fba"/>
<rect x="667.90" y="212.70" width="12.30" height="6.50" fill="#a3b5d9"/>
<rect x="667.90" y="219.20" width="12.30" height="7.00" fill="#aa9fba"/>
<line x1="569.50" y1="153.70" x2="581.80" y2="153.70" stroke="#d8a070" stroke-width="1.2"/>
<line x1="581.80" y1="179.80" x2="594.10" y2="179.80" stroke="#d8a070" stroke-width="1.2"/>
<line x1="594.10" y1="195.50" x2="606.40" y2="195.50" stroke="#d8a070" stroke-width="1.2"/>
<line x1="606.40" y1="198.70" x2="618.70" y2="198.70" stroke="#d8a070" stroke-width="1.2"/>
<line x1="618.70" y1="207.60" x2="631.00" y2="207.60" stroke="#d8a070" stroke-width="1.2"/>
<line x1="631.00" y1="209.30" x2="643.30" y2="209.30" stroke="#d8a070" stroke-width="1.2"/>
<line x1="643.30" y1="215.40" x2="655.60" y2="215.40" stroke="#d8a070" stroke-width="1.2"/>
<line x1="655.60" y1="218.90" x2="667.90" y2="218.90" stroke="#d8a070" stroke-width="1.2"/>
<line x1="667.90" y1="219.20" x2="680.20" y2="219.20" stroke="#d8a070" stroke-width="1.2"/>
<path d="M471.10,226.20V224.60H483.40V226.20" fill="none" stroke="#1f7c82" stroke-width="1.3"/>
<path d="M483.40,226.20V221.80H495.70V226.20" fill="none" stroke="#1f7c82" stroke-width="1.3"/>
<path d="M495.70,226.20V214.40H508.00V226.20" fill="none" stroke="#1f7c82" stroke-width="1.3"/>
<path d="M508.00,226.20V203.80H520.30V226.20" fill="none" stroke="#1f7c82" stroke-width="1.3"/>
<path d="M520.30,226.20V178.70H532.60V226.20" fill="none" stroke="#1f7c82" stroke-width="1.3"/>
<path d="M532.60,226.20V133.30H544.90V226.20" fill="none" stroke="#1f7c82" stroke-width="1.3"/>
<path d="M544.90,226.20V77.40H557.20V226.20" fill="none" stroke="#1f7c82" stroke-width="1.3"/>
<path d="M557.20,226.20V129.10H569.50V226.20" fill="none" stroke="#1f7c82" stroke-width="1.3"/>
<path d="M569.50,226.20V143.40H581.80V226.20" fill="none" stroke="#1f7c82" stroke-width="1.3"/>
<path d="M581.80,226.20V161.50H594.10V226.20" fill="none" stroke="#1f7c82" stroke-width="1.3"/>
<path d="M594.10,226.20V188.90H606.40V226.20" fill="none" stroke="#1f7c82" stroke-width="1.3"/>
<path d="M606.40,226.20V185.20H618.70V226.20" fill="none" stroke="#1f7c82" stroke-width="1.3"/>
<path d="M618.70,226.20V200.50H631.00V226.20" fill="none" stroke="#1f7c82" stroke-width="1.3"/>
<path d="M631.00,226.20V200.50H643.30V226.20" fill="none" stroke="#1f7c82" stroke-width="1.3"/>
<path d="M643.30,226.20V204.60H655.60V226.20" fill="none" stroke="#1f7c82" stroke-width="1.3"/>
<path d="M655.60,226.20V210.50H667.90V226.20" fill="none" stroke="#1f7c82" stroke-width="1.3"/>
<path d="M667.90,226.20V212.70H680.20V226.20" fill="none" stroke="#1f7c82" stroke-width="1.3"/>
<path d="M466.00,225.90 C466.80,225.78 469.05,225.58 470.80,225.20 C472.55,224.82 474.58,224.25 476.50,223.60 C478.42,222.95 480.63,222.23 482.30,221.30 C483.97,220.37 485.22,219.33 486.50,218.00 C487.78,216.67 488.58,215.10 490.00,213.30 C491.42,211.50 493.33,209.33 495.00,207.20 C496.67,205.07 498.33,203.12 500.00,200.50 C501.67,197.88 503.58,194.42 505.00,191.50 C506.42,188.58 507.33,185.83 508.50,183.00 C509.67,180.17 510.83,177.30 512.00,174.50 C513.17,171.70 514.13,169.48 515.50,166.20 C516.87,162.92 518.95,158.17 520.20,154.80 C521.45,151.43 521.95,149.47 523.00,146.00 C524.05,142.53 525.42,138.25 526.50,134.00 C527.58,129.75 528.42,124.50 529.50,120.50 C530.58,116.50 531.17,113.78 533.00,110.00 C534.83,106.22 537.75,100.82 540.50,97.80 C543.25,94.78 546.50,91.90 549.50,91.90 C552.50,91.90 555.93,94.68 558.50,97.80 C561.07,100.92 562.98,105.90 564.90,110.60 C566.82,115.30 568.30,120.87 570.00,126.00 C571.70,131.13 573.18,135.83 575.10,141.40 C577.02,146.97 579.52,154.30 581.50,159.40 C583.48,164.50 585.58,168.95 587.00,172.00 C588.42,175.05 588.53,175.15 590.00,177.70 C591.47,180.25 593.23,184.10 595.80,187.30 C598.37,190.50 601.57,194.17 605.40,196.90 C609.23,199.63 614.32,201.77 618.80,203.70 C623.28,205.63 627.48,206.90 632.30,208.50 C637.12,210.10 642.57,212.02 647.70,213.30 C652.83,214.58 657.55,215.15 663.10,216.20 C668.65,217.25 678.02,219.03 681.00,219.60" fill="none" stroke="#f7a634" stroke-width="1.3"/>
<path d="M458.60,225.90 C459.67,225.83 462.65,225.72 465.00,225.50 C467.35,225.28 470.45,224.95 472.70,224.60 C474.95,224.25 476.58,223.85 478.50,223.40 C480.42,222.95 482.28,222.40 484.20,221.90 C486.12,221.40 488.18,221.25 490.00,220.40 C491.82,219.55 493.38,218.05 495.10,216.80 C496.82,215.55 498.58,214.40 500.30,212.90 C502.02,211.40 503.77,209.87 505.40,207.80 C507.03,205.73 508.57,203.22 510.10,200.50 C511.63,197.78 513.28,194.33 514.60,191.50 C515.92,188.67 516.93,186.08 518.00,183.50 C519.07,180.92 519.92,178.92 521.00,176.00 C522.08,173.08 523.33,169.67 524.50,166.00 C525.67,162.33 526.62,158.83 528.00,154.00 C529.38,149.17 531.13,142.08 532.80,137.00 C534.47,131.92 536.07,127.68 538.00,123.50 C539.93,119.32 542.07,114.68 544.40,111.90 C546.73,109.12 549.45,106.80 552.00,106.80 C554.55,106.80 557.33,109.12 559.70,111.90 C562.07,114.68 564.27,119.43 566.20,123.50 C568.13,127.57 569.38,132.03 571.30,136.30 C573.22,140.57 575.13,144.83 577.70,149.10 C580.27,153.37 584.02,158.42 586.70,161.90 C589.38,165.38 591.33,167.05 593.80,170.00 C596.27,172.95 598.28,176.40 601.50,179.60 C604.72,182.80 609.25,186.63 613.10,189.20 C616.95,191.77 620.43,193.07 624.60,195.00 C628.77,196.93 633.62,199.20 638.10,200.80 C642.58,202.40 646.70,203.17 651.50,204.60 C656.30,206.03 661.98,208.12 666.90,209.40 C671.82,210.68 678.65,211.82 681.00,212.30" fill="none" stroke="#1f7c82" stroke-width="1.3"/>
<path d="M458.5,187.75h1.8M458.5,149.30h1.8M458.5,110.85h1.8M458.5,72.40h1.8" stroke="#999" stroke-width="0.9"/>
<text x="456.80" y="190.75" font-size="8.60" text-anchor="end" textLength="16.15" lengthAdjust="spacingAndGlyphs">0.05</text>
<text x="456.80" y="152.30" font-size="8.60" text-anchor="end" textLength="11.54" lengthAdjust="spacingAndGlyphs">0.1</text>
<text x="456.80" y="113.85" font-size="8.60" text-anchor="end" textLength="16.15" lengthAdjust="spacingAndGlyphs">0.15</text>
<text x="456.80" y="75.40" font-size="8.60" text-anchor="end" textLength="11.54" lengthAdjust="spacingAndGlyphs">0.2</text>
<text x="458.80" y="234.20" font-size="8.60" text-anchor="middle" textLength="14.30" lengthAdjust="spacingAndGlyphs">-0.4</text>
<text x="483.40" y="234.20" font-size="8.60" text-anchor="middle" textLength="14.30" lengthAdjust="spacingAndGlyphs">-0.3</text>
<text x="508.00" y="234.20" font-size="8.60" text-anchor="middle" textLength="14.30" lengthAdjust="spacingAndGlyphs">-0.2</text>
<text x="532.60" y="234.20" font-size="8.60" text-anchor="middle" textLength="14.30" lengthAdjust="spacingAndGlyphs">-0.1</text>
<text x="557.20" y="234.20" font-size="8.60" text-anchor="middle" textLength="4.61" lengthAdjust="spacingAndGlyphs">0</text>
<text x="581.80" y="234.20" font-size="8.60" text-anchor="middle" textLength="11.54" lengthAdjust="spacingAndGlyphs">0.1</text>
<text x="606.40" y="234.20" font-size="8.60" text-anchor="middle" textLength="11.54" lengthAdjust="spacingAndGlyphs">0.2</text>
<text x="631.00" y="234.20" font-size="8.60" text-anchor="middle" textLength="11.54" lengthAdjust="spacingAndGlyphs">0.3</text>
<text x="655.60" y="234.20" font-size="8.60" text-anchor="middle" textLength="11.54" lengthAdjust="spacingAndGlyphs">0.4</text>
<text x="572.80" y="243.60" font-size="8.80" text-anchor="middle" textLength="129.40" lengthAdjust="spacingAndGlyphs">Face probability relative to median</text>
<text x="437.60" y="148.30" font-size="8.40" text-anchor="middle" textLength="86.60" lengthAdjust="spacingAndGlyphs" transform="rotate(-90 437.60 148.30)">Relative duration (time)</text>
<rect x="584.6" y="71.3" width="83.2" height="7.6" fill="#a8b4da" stroke="#237e84" stroke-width="1.3"/>
<rect x="584.6" y="82.5" width="83.2" height="7.6" fill="#f8b8ba" stroke="#fbaa48" stroke-width="1.3"/>
<text x="592.80" y="77.60" font-size="7.30" textLength="62.50" lengthAdjust="spacingAndGlyphs">Face Dominant Eye</text>
<text x="592.80" y="88.80" font-size="7.30" textLength="63.70" lengthAdjust="spacingAndGlyphs">Place Dominant Eye</text>
</svg>
</body></html>
